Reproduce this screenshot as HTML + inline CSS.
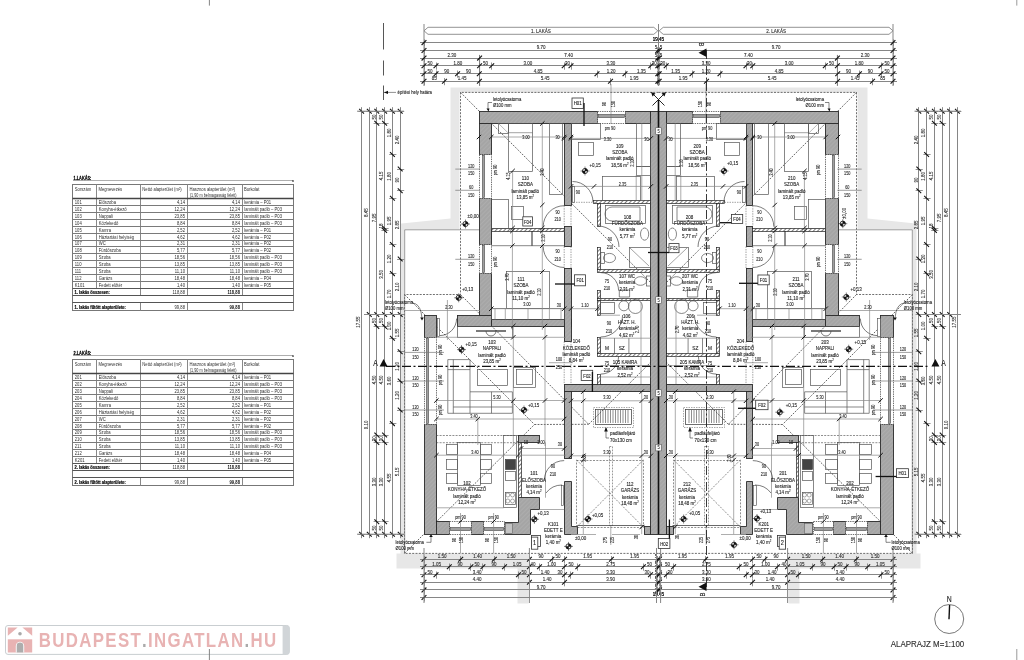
<!DOCTYPE html>
<html><head><meta charset="utf-8"><style>
html,body{margin:0;padding:0;background:#fff;overflow:hidden;width:1024px;height:660px}
svg{display:block;font-family:"Liberation Sans", sans-serif;will-change:transform}
text{stroke:#1a1a1a;stroke-width:0.12px}
.tb text{stroke:none}
</style></head><body>
<svg width="1024" height="660" viewBox="0 0 1024 660">
<defs>
<pattern id="h" patternUnits="userSpaceOnUse" width="3" height="3" patternTransform="rotate(45)">
<rect width="3" height="3" fill="#a5a5a5"/><line x1="0" y1="0" x2="0" y2="3" stroke="#b6b6b6" stroke-width="1"/>
</pattern>
<pattern id="th" patternUnits="userSpaceOnUse" width="3" height="3" patternTransform="rotate(45)">
<rect width="3" height="3" fill="#fff"/><line x1="0" y1="0" x2="0" y2="3" stroke="#222" stroke-width="1.2"/>
</pattern>
</defs>
<rect width="1024" height="660" fill="#fff"/>
<g class="tb"><text transform="translate(73.5,179.7) scale(0.66,1)" font-size="5.9" text-anchor="start" fill="#000" font-weight="bold" style="stroke:#000;stroke-width:0.25px">1.LAKÁS:</text>
<line x1="73" y1="180.5" x2="293" y2="180.5" stroke="#999" stroke-width="0.8"/>
<rect x="292.3" y="180.2" width="1.4" height="1.6" fill="#333"/>
<rect x="72.5" y="184.5" width="221.0" height="126.0" fill="none" stroke="#777" stroke-width="1"/>
<line x1="96.5" y1="184.5" x2="96.5" y2="288.5" stroke="#888" stroke-width="1"/>
<line x1="140.5" y1="184.5" x2="140.5" y2="288.5" stroke="#888" stroke-width="1"/>
<line x1="187.5" y1="184.5" x2="187.5" y2="288.5" stroke="#888" stroke-width="1"/>
<line x1="242.5" y1="184.5" x2="242.5" y2="288.5" stroke="#888" stroke-width="1"/>
<line x1="140.5" y1="288.5" x2="140.5" y2="295.5" stroke="#888" stroke-width="1"/>
<line x1="140.5" y1="302.5" x2="140.5" y2="310.5" stroke="#888" stroke-width="1"/>
<line x1="187.5" y1="288.5" x2="187.5" y2="295.5" stroke="#888" stroke-width="1"/>
<line x1="187.5" y1="302.5" x2="187.5" y2="310.5" stroke="#888" stroke-width="1"/>
<line x1="242.5" y1="288.5" x2="242.5" y2="295.5" stroke="#888" stroke-width="1"/>
<line x1="242.5" y1="302.5" x2="242.5" y2="310.5" stroke="#888" stroke-width="1"/>
<line x1="72.5" y1="198.5" x2="293.5" y2="198.5" stroke="#444" stroke-width="1.4"/>
<line x1="72.5" y1="205.50" x2="293.5" y2="205.50" stroke="#7a7a7a" stroke-width="1"/>
<line x1="72.5" y1="212.50" x2="293.5" y2="212.50" stroke="#7a7a7a" stroke-width="1"/>
<line x1="72.5" y1="219.50" x2="293.5" y2="219.50" stroke="#7a7a7a" stroke-width="1"/>
<line x1="72.5" y1="226.50" x2="293.5" y2="226.50" stroke="#7a7a7a" stroke-width="1"/>
<line x1="72.5" y1="233.50" x2="293.5" y2="233.50" stroke="#7a7a7a" stroke-width="1"/>
<line x1="72.5" y1="240.50" x2="293.5" y2="240.50" stroke="#7a7a7a" stroke-width="1"/>
<line x1="72.5" y1="246.50" x2="293.5" y2="246.50" stroke="#7a7a7a" stroke-width="1"/>
<line x1="72.5" y1="253.50" x2="293.5" y2="253.50" stroke="#7a7a7a" stroke-width="1"/>
<line x1="72.5" y1="260.50" x2="293.5" y2="260.50" stroke="#7a7a7a" stroke-width="1"/>
<line x1="72.5" y1="267.50" x2="293.5" y2="267.50" stroke="#7a7a7a" stroke-width="1"/>
<line x1="72.5" y1="274.50" x2="293.5" y2="274.50" stroke="#7a7a7a" stroke-width="1"/>
<line x1="72.5" y1="281.50" x2="293.5" y2="281.50" stroke="#7a7a7a" stroke-width="1"/>
<line x1="72.5" y1="288.50" x2="293.5" y2="288.50" stroke="#555" stroke-width="1.2"/>
<line x1="72.5" y1="295.50" x2="293.5" y2="295.50" stroke="#555" stroke-width="1"/>
<line x1="72.5" y1="302.50" x2="293.5" y2="302.50" stroke="#555" stroke-width="1.2"/>
<text transform="translate(74.8,190.7) scale(0.72,1)" font-size="5.8" text-anchor="start" fill="#2e2e2e">Sorszám</text>
<text transform="translate(98.5,190.7) scale(0.72,1)" font-size="5.8" text-anchor="start" fill="#2e2e2e">Megnevezés</text>
<text transform="translate(142.3,190.7) scale(0.72,1)" font-size="5.8" text-anchor="start" fill="#2e2e2e">Nettó alapterület (m²)</text>
<text transform="translate(189.5,190.7) scale(0.72,1)" font-size="5.8" text-anchor="start" fill="#2e2e2e">Hasznos alapterület (m²)</text>
<text transform="translate(189.8,197.0) scale(0.7,1)" font-size="5.4" text-anchor="start" fill="#2e2e2e">(1,90 m belmagasság felett)</text>
<text transform="translate(244.0,190.7) scale(0.72,1)" font-size="5.8" text-anchor="start" fill="#2e2e2e">Burkolat</text>
<text transform="translate(74.8,204.2) scale(0.72,1)" font-size="5.8" text-anchor="start" fill="#2e2e2e">101</text>
<text transform="translate(98.8,204.2) scale(0.72,1)" font-size="5.8" text-anchor="start" fill="#2e2e2e">Előszoba</text>
<text transform="translate(185.0,204.2) scale(0.72,1)" font-size="5.8" text-anchor="end" fill="#2e2e2e">4,14</text>
<text transform="translate(240.0,204.2) scale(0.72,1)" font-size="5.8" text-anchor="end" fill="#2e2e2e">4,14</text>
<text transform="translate(244.2,204.2) scale(0.72,1)" font-size="5.8" text-anchor="start" fill="#2e2e2e">kerámia – P01</text>
<text transform="translate(74.8,211.2) scale(0.72,1)" font-size="5.8" text-anchor="start" fill="#2e2e2e">102</text>
<text transform="translate(98.8,211.2) scale(0.72,1)" font-size="5.8" text-anchor="start" fill="#2e2e2e">Konyha-étkező</text>
<text transform="translate(185.0,211.2) scale(0.72,1)" font-size="5.8" text-anchor="end" fill="#2e2e2e">12,24</text>
<text transform="translate(240.0,211.2) scale(0.72,1)" font-size="5.8" text-anchor="end" fill="#2e2e2e">12,24</text>
<text transform="translate(244.2,211.2) scale(0.72,1)" font-size="5.8" text-anchor="start" fill="#2e2e2e">laminált padló – P03</text>
<text transform="translate(74.8,218.2) scale(0.72,1)" font-size="5.8" text-anchor="start" fill="#2e2e2e">103</text>
<text transform="translate(98.8,218.2) scale(0.72,1)" font-size="5.8" text-anchor="start" fill="#2e2e2e">Nappali</text>
<text transform="translate(185.0,218.2) scale(0.72,1)" font-size="5.8" text-anchor="end" fill="#2e2e2e">23,85</text>
<text transform="translate(240.0,218.2) scale(0.72,1)" font-size="5.8" text-anchor="end" fill="#2e2e2e">23,85</text>
<text transform="translate(244.2,218.2) scale(0.72,1)" font-size="5.8" text-anchor="start" fill="#2e2e2e">laminált padló – P03</text>
<text transform="translate(74.8,225.2) scale(0.72,1)" font-size="5.8" text-anchor="start" fill="#2e2e2e">104</text>
<text transform="translate(98.8,225.2) scale(0.72,1)" font-size="5.8" text-anchor="start" fill="#2e2e2e">Közlekedő</text>
<text transform="translate(185.0,225.2) scale(0.72,1)" font-size="5.8" text-anchor="end" fill="#2e2e2e">8,84</text>
<text transform="translate(240.0,225.2) scale(0.72,1)" font-size="5.8" text-anchor="end" fill="#2e2e2e">8,84</text>
<text transform="translate(244.2,225.2) scale(0.72,1)" font-size="5.8" text-anchor="start" fill="#2e2e2e">laminált padló – P03</text>
<text transform="translate(74.8,232.2) scale(0.72,1)" font-size="5.8" text-anchor="start" fill="#2e2e2e">105</text>
<text transform="translate(98.8,232.2) scale(0.72,1)" font-size="5.8" text-anchor="start" fill="#2e2e2e">Kamra</text>
<text transform="translate(185.0,232.2) scale(0.72,1)" font-size="5.8" text-anchor="end" fill="#2e2e2e">2,52</text>
<text transform="translate(240.0,232.2) scale(0.72,1)" font-size="5.8" text-anchor="end" fill="#2e2e2e">2,52</text>
<text transform="translate(244.2,232.2) scale(0.72,1)" font-size="5.8" text-anchor="start" fill="#2e2e2e">kerámia – P01</text>
<text transform="translate(74.8,239.2) scale(0.72,1)" font-size="5.8" text-anchor="start" fill="#2e2e2e">106</text>
<text transform="translate(98.8,239.2) scale(0.72,1)" font-size="5.8" text-anchor="start" fill="#2e2e2e">Háztartási helyiség</text>
<text transform="translate(185.0,239.2) scale(0.72,1)" font-size="5.8" text-anchor="end" fill="#2e2e2e">4,62</text>
<text transform="translate(240.0,239.2) scale(0.72,1)" font-size="5.8" text-anchor="end" fill="#2e2e2e">4,62</text>
<text transform="translate(244.2,239.2) scale(0.72,1)" font-size="5.8" text-anchor="start" fill="#2e2e2e">kerámia – P02</text>
<text transform="translate(74.8,245.2) scale(0.72,1)" font-size="5.8" text-anchor="start" fill="#2e2e2e">107</text>
<text transform="translate(98.8,245.2) scale(0.72,1)" font-size="5.8" text-anchor="start" fill="#2e2e2e">WC</text>
<text transform="translate(185.0,245.2) scale(0.72,1)" font-size="5.8" text-anchor="end" fill="#2e2e2e">2,31</text>
<text transform="translate(240.0,245.2) scale(0.72,1)" font-size="5.8" text-anchor="end" fill="#2e2e2e">2,31</text>
<text transform="translate(244.2,245.2) scale(0.72,1)" font-size="5.8" text-anchor="start" fill="#2e2e2e">kerámia – P02</text>
<text transform="translate(74.8,252.2) scale(0.72,1)" font-size="5.8" text-anchor="start" fill="#2e2e2e">108</text>
<text transform="translate(98.8,252.2) scale(0.72,1)" font-size="5.8" text-anchor="start" fill="#2e2e2e">Fürdőszoba</text>
<text transform="translate(185.0,252.2) scale(0.72,1)" font-size="5.8" text-anchor="end" fill="#2e2e2e">5,77</text>
<text transform="translate(240.0,252.2) scale(0.72,1)" font-size="5.8" text-anchor="end" fill="#2e2e2e">5,77</text>
<text transform="translate(244.2,252.2) scale(0.72,1)" font-size="5.8" text-anchor="start" fill="#2e2e2e">kerámia – P02</text>
<text transform="translate(74.8,259.2) scale(0.72,1)" font-size="5.8" text-anchor="start" fill="#2e2e2e">109</text>
<text transform="translate(98.8,259.2) scale(0.72,1)" font-size="5.8" text-anchor="start" fill="#2e2e2e">Szoba</text>
<text transform="translate(185.0,259.2) scale(0.72,1)" font-size="5.8" text-anchor="end" fill="#2e2e2e">18,56</text>
<text transform="translate(240.0,259.2) scale(0.72,1)" font-size="5.8" text-anchor="end" fill="#2e2e2e">18,56</text>
<text transform="translate(244.2,259.2) scale(0.72,1)" font-size="5.8" text-anchor="start" fill="#2e2e2e">laminált padló – P03</text>
<text transform="translate(74.8,266.2) scale(0.72,1)" font-size="5.8" text-anchor="start" fill="#2e2e2e">110</text>
<text transform="translate(98.8,266.2) scale(0.72,1)" font-size="5.8" text-anchor="start" fill="#2e2e2e">Szoba</text>
<text transform="translate(185.0,266.2) scale(0.72,1)" font-size="5.8" text-anchor="end" fill="#2e2e2e">13,85</text>
<text transform="translate(240.0,266.2) scale(0.72,1)" font-size="5.8" text-anchor="end" fill="#2e2e2e">13,85</text>
<text transform="translate(244.2,266.2) scale(0.72,1)" font-size="5.8" text-anchor="start" fill="#2e2e2e">laminált padló – P03</text>
<text transform="translate(74.8,273.2) scale(0.72,1)" font-size="5.8" text-anchor="start" fill="#2e2e2e">111</text>
<text transform="translate(98.8,273.2) scale(0.72,1)" font-size="5.8" text-anchor="start" fill="#2e2e2e">Szoba</text>
<text transform="translate(185.0,273.2) scale(0.72,1)" font-size="5.8" text-anchor="end" fill="#2e2e2e">11,10</text>
<text transform="translate(240.0,273.2) scale(0.72,1)" font-size="5.8" text-anchor="end" fill="#2e2e2e">11,10</text>
<text transform="translate(244.2,273.2) scale(0.72,1)" font-size="5.8" text-anchor="start" fill="#2e2e2e">laminált padló – P03</text>
<text transform="translate(74.8,280.2) scale(0.72,1)" font-size="5.8" text-anchor="start" fill="#2e2e2e">112</text>
<text transform="translate(98.8,280.2) scale(0.72,1)" font-size="5.8" text-anchor="start" fill="#2e2e2e">Garázs</text>
<text transform="translate(185.0,280.2) scale(0.72,1)" font-size="5.8" text-anchor="end" fill="#2e2e2e">18,48</text>
<text transform="translate(240.0,280.2) scale(0.72,1)" font-size="5.8" text-anchor="end" fill="#2e2e2e">18,48</text>
<text transform="translate(244.2,280.2) scale(0.72,1)" font-size="5.8" text-anchor="start" fill="#2e2e2e">kerámia – P04</text>
<text transform="translate(74.8,287.2) scale(0.72,1)" font-size="5.8" text-anchor="start" fill="#2e2e2e">K101</text>
<text transform="translate(98.8,287.2) scale(0.72,1)" font-size="5.8" text-anchor="start" fill="#2e2e2e">Fedett előtér</text>
<text transform="translate(185.0,287.2) scale(0.72,1)" font-size="5.8" text-anchor="end" fill="#2e2e2e">1,40</text>
<text transform="translate(240.0,287.2) scale(0.72,1)" font-size="5.8" text-anchor="end" fill="#2e2e2e">1,40</text>
<text transform="translate(244.2,287.2) scale(0.72,1)" font-size="5.8" text-anchor="start" fill="#2e2e2e">kerámia – P05</text>
<text transform="translate(74.5,294.3) scale(0.7,1)" font-size="5.8" text-anchor="start" fill="#000" font-weight="bold" style="stroke:#000;stroke-width:0.2px">1. lakás összesen:</text>
<text transform="translate(185.0,294.3) scale(0.72,1)" font-size="5.8" text-anchor="end" fill="#2e2e2e">118,88</text>
<text transform="translate(240.0,294.3) scale(0.72,1)" font-size="5.8" text-anchor="end" fill="#111" font-weight="bold">118,88</text>
<text transform="translate(74.5,308.5) scale(0.7,1)" font-size="5.8" text-anchor="start" fill="#000" font-weight="bold" style="stroke:#000;stroke-width:0.2px">1. lakás fűtött alapterülete:</text>
<text transform="translate(185.0,308.5) scale(0.72,1)" font-size="5.8" text-anchor="end" fill="#2e2e2e">99,88</text>
<text transform="translate(240.0,308.5) scale(0.72,1)" font-size="5.8" text-anchor="end" fill="#111" font-weight="bold">99,88</text>
<text transform="translate(73.5,354.8) scale(0.66,1)" font-size="5.9" text-anchor="start" fill="#000" font-weight="bold" style="stroke:#000;stroke-width:0.25px">2.LAKÁS:</text>
<line x1="73" y1="355.5" x2="293" y2="355.5" stroke="#999" stroke-width="0.8"/>
<rect x="292.3" y="355.29999999999995" width="1.4" height="1.6" fill="#333"/>
<rect x="72.5" y="359.5" width="221.0" height="126.0" fill="none" stroke="#777" stroke-width="1"/>
<line x1="96.5" y1="359.5" x2="96.5" y2="463.5" stroke="#888" stroke-width="1"/>
<line x1="140.5" y1="359.5" x2="140.5" y2="463.5" stroke="#888" stroke-width="1"/>
<line x1="187.5" y1="359.5" x2="187.5" y2="463.5" stroke="#888" stroke-width="1"/>
<line x1="242.5" y1="359.5" x2="242.5" y2="463.5" stroke="#888" stroke-width="1"/>
<line x1="140.5" y1="463.5" x2="140.5" y2="470.5" stroke="#888" stroke-width="1"/>
<line x1="140.5" y1="477.5" x2="140.5" y2="485.5" stroke="#888" stroke-width="1"/>
<line x1="187.5" y1="463.5" x2="187.5" y2="470.5" stroke="#888" stroke-width="1"/>
<line x1="187.5" y1="477.5" x2="187.5" y2="485.5" stroke="#888" stroke-width="1"/>
<line x1="242.5" y1="463.5" x2="242.5" y2="470.5" stroke="#888" stroke-width="1"/>
<line x1="242.5" y1="477.5" x2="242.5" y2="485.5" stroke="#888" stroke-width="1"/>
<line x1="72.5" y1="373.5" x2="293.5" y2="373.5" stroke="#444" stroke-width="1.4"/>
<line x1="72.5" y1="380.50" x2="293.5" y2="380.50" stroke="#7a7a7a" stroke-width="1"/>
<line x1="72.5" y1="387.50" x2="293.5" y2="387.50" stroke="#7a7a7a" stroke-width="1"/>
<line x1="72.5" y1="394.50" x2="293.5" y2="394.50" stroke="#7a7a7a" stroke-width="1"/>
<line x1="72.5" y1="401.50" x2="293.5" y2="401.50" stroke="#7a7a7a" stroke-width="1"/>
<line x1="72.5" y1="408.50" x2="293.5" y2="408.50" stroke="#7a7a7a" stroke-width="1"/>
<line x1="72.5" y1="415.50" x2="293.5" y2="415.50" stroke="#7a7a7a" stroke-width="1"/>
<line x1="72.5" y1="422.50" x2="293.5" y2="422.50" stroke="#7a7a7a" stroke-width="1"/>
<line x1="72.5" y1="429.50" x2="293.5" y2="429.50" stroke="#7a7a7a" stroke-width="1"/>
<line x1="72.5" y1="435.50" x2="293.5" y2="435.50" stroke="#7a7a7a" stroke-width="1"/>
<line x1="72.5" y1="442.50" x2="293.5" y2="442.50" stroke="#7a7a7a" stroke-width="1"/>
<line x1="72.5" y1="449.50" x2="293.5" y2="449.50" stroke="#7a7a7a" stroke-width="1"/>
<line x1="72.5" y1="456.50" x2="293.5" y2="456.50" stroke="#7a7a7a" stroke-width="1"/>
<line x1="72.5" y1="463.50" x2="293.5" y2="463.50" stroke="#555" stroke-width="1.2"/>
<line x1="72.5" y1="470.50" x2="293.5" y2="470.50" stroke="#555" stroke-width="1"/>
<line x1="72.5" y1="477.50" x2="293.5" y2="477.50" stroke="#555" stroke-width="1.2"/>
<text transform="translate(74.8,365.7) scale(0.72,1)" font-size="5.8" text-anchor="start" fill="#2e2e2e">Sorszám</text>
<text transform="translate(98.5,365.7) scale(0.72,1)" font-size="5.8" text-anchor="start" fill="#2e2e2e">Megnevezés</text>
<text transform="translate(142.3,365.7) scale(0.72,1)" font-size="5.8" text-anchor="start" fill="#2e2e2e">Nettó alapterület (m²)</text>
<text transform="translate(189.5,365.7) scale(0.72,1)" font-size="5.8" text-anchor="start" fill="#2e2e2e">Hasznos alapterület (m²)</text>
<text transform="translate(189.8,372.0) scale(0.7,1)" font-size="5.4" text-anchor="start" fill="#2e2e2e">(1,90 m belmagasság felett)</text>
<text transform="translate(244.0,365.7) scale(0.72,1)" font-size="5.8" text-anchor="start" fill="#2e2e2e">Burkolat</text>
<text transform="translate(74.8,379.2) scale(0.72,1)" font-size="5.8" text-anchor="start" fill="#2e2e2e">201</text>
<text transform="translate(98.8,379.2) scale(0.72,1)" font-size="5.8" text-anchor="start" fill="#2e2e2e">Előszoba</text>
<text transform="translate(185.0,379.2) scale(0.72,1)" font-size="5.8" text-anchor="end" fill="#2e2e2e">4,14</text>
<text transform="translate(240.0,379.2) scale(0.72,1)" font-size="5.8" text-anchor="end" fill="#2e2e2e">4,14</text>
<text transform="translate(244.2,379.2) scale(0.72,1)" font-size="5.8" text-anchor="start" fill="#2e2e2e">kerámia – P01</text>
<text transform="translate(74.8,386.2) scale(0.72,1)" font-size="5.8" text-anchor="start" fill="#2e2e2e">202</text>
<text transform="translate(98.8,386.2) scale(0.72,1)" font-size="5.8" text-anchor="start" fill="#2e2e2e">Konyha-étkező</text>
<text transform="translate(185.0,386.2) scale(0.72,1)" font-size="5.8" text-anchor="end" fill="#2e2e2e">12,24</text>
<text transform="translate(240.0,386.2) scale(0.72,1)" font-size="5.8" text-anchor="end" fill="#2e2e2e">12,24</text>
<text transform="translate(244.2,386.2) scale(0.72,1)" font-size="5.8" text-anchor="start" fill="#2e2e2e">laminált padló – P03</text>
<text transform="translate(74.8,393.2) scale(0.72,1)" font-size="5.8" text-anchor="start" fill="#2e2e2e">203</text>
<text transform="translate(98.8,393.2) scale(0.72,1)" font-size="5.8" text-anchor="start" fill="#2e2e2e">Nappali</text>
<text transform="translate(185.0,393.2) scale(0.72,1)" font-size="5.8" text-anchor="end" fill="#2e2e2e">23,85</text>
<text transform="translate(240.0,393.2) scale(0.72,1)" font-size="5.8" text-anchor="end" fill="#2e2e2e">23,85</text>
<text transform="translate(244.2,393.2) scale(0.72,1)" font-size="5.8" text-anchor="start" fill="#2e2e2e">laminált padló – P03</text>
<text transform="translate(74.8,400.2) scale(0.72,1)" font-size="5.8" text-anchor="start" fill="#2e2e2e">204</text>
<text transform="translate(98.8,400.2) scale(0.72,1)" font-size="5.8" text-anchor="start" fill="#2e2e2e">Közlekedő</text>
<text transform="translate(185.0,400.2) scale(0.72,1)" font-size="5.8" text-anchor="end" fill="#2e2e2e">8,84</text>
<text transform="translate(240.0,400.2) scale(0.72,1)" font-size="5.8" text-anchor="end" fill="#2e2e2e">8,84</text>
<text transform="translate(244.2,400.2) scale(0.72,1)" font-size="5.8" text-anchor="start" fill="#2e2e2e">laminált padló – P03</text>
<text transform="translate(74.8,407.2) scale(0.72,1)" font-size="5.8" text-anchor="start" fill="#2e2e2e">205</text>
<text transform="translate(98.8,407.2) scale(0.72,1)" font-size="5.8" text-anchor="start" fill="#2e2e2e">Kamra</text>
<text transform="translate(185.0,407.2) scale(0.72,1)" font-size="5.8" text-anchor="end" fill="#2e2e2e">2,52</text>
<text transform="translate(240.0,407.2) scale(0.72,1)" font-size="5.8" text-anchor="end" fill="#2e2e2e">2,52</text>
<text transform="translate(244.2,407.2) scale(0.72,1)" font-size="5.8" text-anchor="start" fill="#2e2e2e">kerámia – P01</text>
<text transform="translate(74.8,414.2) scale(0.72,1)" font-size="5.8" text-anchor="start" fill="#2e2e2e">206</text>
<text transform="translate(98.8,414.2) scale(0.72,1)" font-size="5.8" text-anchor="start" fill="#2e2e2e">Háztartási helyiség</text>
<text transform="translate(185.0,414.2) scale(0.72,1)" font-size="5.8" text-anchor="end" fill="#2e2e2e">4,62</text>
<text transform="translate(240.0,414.2) scale(0.72,1)" font-size="5.8" text-anchor="end" fill="#2e2e2e">4,62</text>
<text transform="translate(244.2,414.2) scale(0.72,1)" font-size="5.8" text-anchor="start" fill="#2e2e2e">kerámia – P02</text>
<text transform="translate(74.8,421.2) scale(0.72,1)" font-size="5.8" text-anchor="start" fill="#2e2e2e">207</text>
<text transform="translate(98.8,421.2) scale(0.72,1)" font-size="5.8" text-anchor="start" fill="#2e2e2e">WC</text>
<text transform="translate(185.0,421.2) scale(0.72,1)" font-size="5.8" text-anchor="end" fill="#2e2e2e">2,31</text>
<text transform="translate(240.0,421.2) scale(0.72,1)" font-size="5.8" text-anchor="end" fill="#2e2e2e">2,31</text>
<text transform="translate(244.2,421.2) scale(0.72,1)" font-size="5.8" text-anchor="start" fill="#2e2e2e">kerámia – P02</text>
<text transform="translate(74.8,428.2) scale(0.72,1)" font-size="5.8" text-anchor="start" fill="#2e2e2e">208</text>
<text transform="translate(98.8,428.2) scale(0.72,1)" font-size="5.8" text-anchor="start" fill="#2e2e2e">Fürdőszoba</text>
<text transform="translate(185.0,428.2) scale(0.72,1)" font-size="5.8" text-anchor="end" fill="#2e2e2e">5,77</text>
<text transform="translate(240.0,428.2) scale(0.72,1)" font-size="5.8" text-anchor="end" fill="#2e2e2e">5,77</text>
<text transform="translate(244.2,428.2) scale(0.72,1)" font-size="5.8" text-anchor="start" fill="#2e2e2e">kerámia – P02</text>
<text transform="translate(74.8,434.2) scale(0.72,1)" font-size="5.8" text-anchor="start" fill="#2e2e2e">209</text>
<text transform="translate(98.8,434.2) scale(0.72,1)" font-size="5.8" text-anchor="start" fill="#2e2e2e">Szoba</text>
<text transform="translate(185.0,434.2) scale(0.72,1)" font-size="5.8" text-anchor="end" fill="#2e2e2e">18,56</text>
<text transform="translate(240.0,434.2) scale(0.72,1)" font-size="5.8" text-anchor="end" fill="#2e2e2e">18,56</text>
<text transform="translate(244.2,434.2) scale(0.72,1)" font-size="5.8" text-anchor="start" fill="#2e2e2e">laminált padló – P03</text>
<text transform="translate(74.8,441.2) scale(0.72,1)" font-size="5.8" text-anchor="start" fill="#2e2e2e">210</text>
<text transform="translate(98.8,441.2) scale(0.72,1)" font-size="5.8" text-anchor="start" fill="#2e2e2e">Szoba</text>
<text transform="translate(185.0,441.2) scale(0.72,1)" font-size="5.8" text-anchor="end" fill="#2e2e2e">13,85</text>
<text transform="translate(240.0,441.2) scale(0.72,1)" font-size="5.8" text-anchor="end" fill="#2e2e2e">13,85</text>
<text transform="translate(244.2,441.2) scale(0.72,1)" font-size="5.8" text-anchor="start" fill="#2e2e2e">laminált padló – P03</text>
<text transform="translate(74.8,448.2) scale(0.72,1)" font-size="5.8" text-anchor="start" fill="#2e2e2e">211</text>
<text transform="translate(98.8,448.2) scale(0.72,1)" font-size="5.8" text-anchor="start" fill="#2e2e2e">Szoba</text>
<text transform="translate(185.0,448.2) scale(0.72,1)" font-size="5.8" text-anchor="end" fill="#2e2e2e">11,10</text>
<text transform="translate(240.0,448.2) scale(0.72,1)" font-size="5.8" text-anchor="end" fill="#2e2e2e">11,10</text>
<text transform="translate(244.2,448.2) scale(0.72,1)" font-size="5.8" text-anchor="start" fill="#2e2e2e">laminált padló – P03</text>
<text transform="translate(74.8,455.2) scale(0.72,1)" font-size="5.8" text-anchor="start" fill="#2e2e2e">212</text>
<text transform="translate(98.8,455.2) scale(0.72,1)" font-size="5.8" text-anchor="start" fill="#2e2e2e">Garázs</text>
<text transform="translate(185.0,455.2) scale(0.72,1)" font-size="5.8" text-anchor="end" fill="#2e2e2e">18,48</text>
<text transform="translate(240.0,455.2) scale(0.72,1)" font-size="5.8" text-anchor="end" fill="#2e2e2e">18,48</text>
<text transform="translate(244.2,455.2) scale(0.72,1)" font-size="5.8" text-anchor="start" fill="#2e2e2e">kerámia – P04</text>
<text transform="translate(74.8,462.2) scale(0.72,1)" font-size="5.8" text-anchor="start" fill="#2e2e2e">K201</text>
<text transform="translate(98.8,462.2) scale(0.72,1)" font-size="5.8" text-anchor="start" fill="#2e2e2e">Fedett előtér</text>
<text transform="translate(185.0,462.2) scale(0.72,1)" font-size="5.8" text-anchor="end" fill="#2e2e2e">1,40</text>
<text transform="translate(240.0,462.2) scale(0.72,1)" font-size="5.8" text-anchor="end" fill="#2e2e2e">1,40</text>
<text transform="translate(244.2,462.2) scale(0.72,1)" font-size="5.8" text-anchor="start" fill="#2e2e2e">kerámia – P05</text>
<text transform="translate(74.5,469.4) scale(0.7,1)" font-size="5.8" text-anchor="start" fill="#000" font-weight="bold" style="stroke:#000;stroke-width:0.2px">2. lakás összesen:</text>
<text transform="translate(185.0,469.4) scale(0.72,1)" font-size="5.8" text-anchor="end" fill="#2e2e2e">118,88</text>
<text transform="translate(240.0,469.4) scale(0.72,1)" font-size="5.8" text-anchor="end" fill="#111" font-weight="bold">118,88</text>
<text transform="translate(74.5,483.6) scale(0.7,1)" font-size="5.8" text-anchor="start" fill="#000" font-weight="bold" style="stroke:#000;stroke-width:0.2px">2. lakás fűtött alapterülete:</text>
<text transform="translate(185.0,483.6) scale(0.72,1)" font-size="5.8" text-anchor="end" fill="#2e2e2e">99,88</text>
<text transform="translate(240.0,483.6) scale(0.72,1)" font-size="5.8" text-anchor="end" fill="#111" font-weight="bold">99,88</text></g>
<rect x="5.5" y="625.5" width="283.8" height="28.9" rx="2.5" fill="#fff" stroke="#c9ced1" stroke-width="1"/>
<path d="M282.6 625.5 h4.2 a2.5 2.5 0 0 1 2.5 2.5 v23.9 a2.5 2.5 0 0 1 -2.5 2.5 h-4.2 z" fill="#d1d5d8"/>
<polygon points="7.8,627.6 17.6,627.6 7.8,635.8" fill="#e8b3b3"/>
<polygon points="32.2,627.6 22.4,627.6 32.2,635.8" fill="#e8b3b3"/>
<rect x="7.8" y="639.3" width="24.4" height="13.2" fill="#e8b3b3"/>
<circle cx="20" cy="633.8" r="1.8" fill="#a9a9a9"/>
<path d="M15.8 652.5 v-6.6 a4.2 4.2 0 0 1 8.4 0 v6.6 z" fill="#fff"/>
<path d="M16.7 652.5 v-6.6 a3.3 3.3 0 0 1 6.6 0 v6.6 z" fill="#adadad"/>
<text transform="translate(38.8,647.4) scale(0.86,1)" font-size="19.6" font-weight="bold" fill="#e8b3b3" textLength="276" lengthAdjust="spacing" style="stroke:none">BUDAPEST<tspan fill="#aaa">.</tspan>INGATLAN<tspan fill="#aaa">.</tspan>HU</text>
<circle cx="949.2" cy="619" r="14.5" fill="none" stroke="#555" stroke-width="0.8"/>
<line x1="949.6" y1="605" x2="949" y2="619.3" stroke="#111" stroke-width="1.4"/>
<text transform="translate(949.2,601.9) scale(0.8,1)" font-size="8.6" text-anchor="middle" fill="#222">N</text>
<text x="890.7" y="646.8" font-size="9.6" fill="#333" textLength="73.6" lengthAdjust="spacingAndGlyphs">ALAPRAJZ M=1:100</text>
<line x1="209.4" y1="0" x2="209.4" y2="5.6" stroke="#777" stroke-width="0.9"/>
<line x1="209.4" y1="649" x2="209.4" y2="660" stroke="#777" stroke-width="0.9"/>
<line x1="1016.8" y1="0" x2="1016.8" y2="5.6" stroke="#999" stroke-width="1"/>
<line x1="1016.8" y1="649" x2="1016.8" y2="660" stroke="#999" stroke-width="1"/>
<polygon points="658.5,87.5 450.5,87.5 450.5,218.5 401.5,223.5 400.5,223.5 400.5,553.5 396.5,553.5 396.5,568.5 517.5,568.5 517.5,603.5 528.5,603.5 528.5,553.5 404.5,553.5 404.5,229.5 459.5,229.5 459.5,92.5 658.5,92.5" fill="#e7e7e7" stroke="none"/>
<polygon points="658.5,87.5 867.5,87.5 867.5,218.5 915.5,223.5 916.5,223.5 916.5,553.5 920.5,553.5 920.5,568.5 799.5,568.5 799.5,603.5 788.5,603.5 788.5,553.5 912.5,553.5 912.5,229.5 857.5,229.5 857.5,92.5 658.5,92.5" fill="#e7e7e7" stroke="none"/>
<path d="M658.5 92.4 H460.5 V294.5 H404.5 V553.4 H658.5" fill="none" stroke="#333" stroke-width="0.7" stroke-dasharray="2,1.3"/>
<path d="M658.5 92.4 H856.5 V294.5 H912.5 V553.4 H658.5" fill="none" stroke="#333" stroke-width="0.7" stroke-dasharray="2,1.3"/>
<line x1="460.5" y1="92.4" x2="658.5" y2="290.4" fill="none" stroke="#333" stroke-width="0.75" stroke-dasharray="1.8,1.3"/>
<line x1="856.5" y1="92.4" x2="658.5" y2="290.4" fill="none" stroke="#333" stroke-width="0.75" stroke-dasharray="1.8,1.3"/>
<line x1="404.5" y1="294.5" x2="534.5" y2="424.5" fill="none" stroke="#333" stroke-width="0.75" stroke-dasharray="1.8,1.3"/>
<line x1="912.5" y1="294.5" x2="782.5" y2="424.5" fill="none" stroke="#333" stroke-width="0.75" stroke-dasharray="1.8,1.3"/>
<line x1="404.5" y1="553.4" x2="534.5" y2="424.5" fill="none" stroke="#333" stroke-width="0.75" stroke-dasharray="1.8,1.3"/>
<line x1="912.5" y1="553.4" x2="782.5" y2="424.5" fill="none" stroke="#333" stroke-width="0.75" stroke-dasharray="1.8,1.3"/>
<line x1="534.5" y1="424.5" x2="588.6" y2="424.3" fill="none" stroke="#333" stroke-width="0.75" stroke-dasharray="1.8,1.3"/>
<line x1="782.5" y1="424.5" x2="728.4" y2="424.3" fill="none" stroke="#333" stroke-width="0.75" stroke-dasharray="1.8,1.3"/>
<line x1="460.5" y1="294.5" x2="588.6" y2="424.3" fill="none" stroke="#333" stroke-width="0.75" stroke-dasharray="1.8,1.3"/>
<line x1="856.5" y1="294.5" x2="728.4" y2="424.3" fill="none" stroke="#333" stroke-width="0.75" stroke-dasharray="1.8,1.3"/>
<line x1="588.6" y1="424.3" x2="658.5" y2="354.4" fill="none" stroke="#333" stroke-width="0.75" stroke-dasharray="1.8,1.3"/>
<line x1="728.4" y1="424.3" x2="658.5" y2="354.4" fill="none" stroke="#333" stroke-width="0.75" stroke-dasharray="1.8,1.3"/>
<path d="M479 229.8 H404.7 V553.4" stroke="#777" stroke-width="0.7" fill="none"/>
<path d="M838.0 229.8 H912.3 V553.4" stroke="#777" stroke-width="0.7" fill="none"/>
<rect x="479.5" y="111.5" width="118.0" height="12.0" fill="url(#h)" stroke="#2a2a2a" stroke-width="0.9"/>
<rect x="720.5" y="111.5" width="118.0" height="12.0" fill="url(#h)" stroke="#2a2a2a" stroke-width="0.9"/>
<rect x="625.5" y="111.5" width="25.0" height="12.0" fill="url(#h)" stroke="#2a2a2a" stroke-width="0.9"/>
<rect x="666.5" y="111.5" width="26.0" height="12.0" fill="url(#h)" stroke="#2a2a2a" stroke-width="0.9"/>
<rect x="479.5" y="123.5" width="12.0" height="31.0" fill="url(#h)" stroke="#2a2a2a" stroke-width="0.9"/>
<rect x="825.5" y="123.5" width="13.0" height="31.0" fill="url(#h)" stroke="#2a2a2a" stroke-width="0.9"/>
<rect x="479.5" y="198.5" width="12.0" height="46.0" fill="url(#h)" stroke="#2a2a2a" stroke-width="0.9"/>
<rect x="825.5" y="198.5" width="13.0" height="46.0" fill="url(#h)" stroke="#2a2a2a" stroke-width="0.9"/>
<rect x="479.5" y="273.5" width="12.0" height="42.0" fill="url(#h)" stroke="#2a2a2a" stroke-width="0.9"/>
<rect x="825.5" y="273.5" width="13.0" height="42.0" fill="url(#h)" stroke="#2a2a2a" stroke-width="0.9"/>
<rect x="457.5" y="315.5" width="34.0" height="11.0" fill="url(#h)" stroke="#2a2a2a" stroke-width="0.9"/>
<rect x="825.5" y="315.5" width="34.0" height="11.0" fill="url(#h)" stroke="#2a2a2a" stroke-width="0.9"/>
<rect x="491.5" y="319.5" width="80.0" height="7.0" fill="url(#h)" stroke="#2a2a2a" stroke-width="0.9"/>
<rect x="746.5" y="319.5" width="79.0" height="7.0" fill="url(#h)" stroke="#2a2a2a" stroke-width="0.9"/>
<rect x="424.5" y="315.5" width="12.0" height="22.0" fill="url(#h)" stroke="#2a2a2a" stroke-width="0.9"/>
<rect x="880.5" y="315.5" width="13.0" height="22.0" fill="url(#h)" stroke="#2a2a2a" stroke-width="0.9"/>
<rect x="424.5" y="424.5" width="12.0" height="110.0" fill="url(#h)" stroke="#2a2a2a" stroke-width="0.9"/>
<rect x="880.5" y="424.5" width="13.0" height="110.0" fill="url(#h)" stroke="#2a2a2a" stroke-width="0.9"/>
<rect x="436.5" y="521.5" width="13.0" height="13.0" fill="url(#h)" stroke="#2a2a2a" stroke-width="0.9"/>
<rect x="867.5" y="521.5" width="13.0" height="13.0" fill="url(#h)" stroke="#2a2a2a" stroke-width="0.9"/>
<rect x="471.5" y="521.5" width="12.0" height="13.0" fill="url(#h)" stroke="#2a2a2a" stroke-width="0.9"/>
<rect x="833.5" y="521.5" width="12.0" height="13.0" fill="url(#h)" stroke="#2a2a2a" stroke-width="0.9"/>
<polygon points="518.5,497.5 539.5,497.5 539.5,509.5 530.5,509.5 530.5,534.5 504.5,534.5 504.5,522.5 518.5,522.5" fill="url(#h)" stroke="#2a2a2a" stroke-width="0.9"/>
<polygon points="798.5,497.5 777.5,497.5 777.5,509.5 786.5,509.5 786.5,534.5 812.5,534.5 812.5,522.5 798.5,522.5" fill="url(#h)" stroke="#2a2a2a" stroke-width="0.9"/>
<rect x="505.5" y="523.5" width="7.0" height="10.0" fill="#c4c4c4" stroke="#555" stroke-width="0.5"/>
<rect x="804.5" y="523.5" width="8.0" height="10.0" fill="#c4c4c4" stroke="#555" stroke-width="0.5"/>
<rect x="564.5" y="123.5" width="7.0" height="82.0" fill="url(#h)" stroke="#2a2a2a" stroke-width="0.9"/>
<rect x="746.5" y="123.5" width="6.0" height="82.0" fill="url(#h)" stroke="#2a2a2a" stroke-width="0.9"/>
<rect x="564.5" y="226.5" width="7.0" height="20.0" fill="url(#h)" stroke="#2a2a2a" stroke-width="0.9"/>
<rect x="746.5" y="226.5" width="6.0" height="20.0" fill="url(#h)" stroke="#2a2a2a" stroke-width="0.9"/>
<rect x="564.5" y="268.5" width="7.0" height="73.0" fill="url(#h)" stroke="#2a2a2a" stroke-width="0.9"/>
<rect x="746.5" y="268.5" width="6.0" height="73.0" fill="url(#h)" stroke="#2a2a2a" stroke-width="0.9"/>
<rect x="564.5" y="384.5" width="86.0" height="7.0" fill="url(#h)" stroke="#2a2a2a" stroke-width="0.9"/>
<rect x="666.5" y="384.5" width="86.0" height="7.0" fill="url(#h)" stroke="#2a2a2a" stroke-width="0.9"/>
<rect x="564.5" y="391.5" width="7.0" height="67.0" fill="url(#h)" stroke="#2a2a2a" stroke-width="0.9"/>
<rect x="746.5" y="391.5" width="6.0" height="67.0" fill="url(#h)" stroke="#2a2a2a" stroke-width="0.9"/>
<polygon points="564.5,481.5 571.5,481.5 571.5,526.5 577.5,526.5 577.5,534.5 564.5,534.5" fill="url(#h)" stroke="#2a2a2a" stroke-width="0.9"/>
<polygon points="752.5,481.5 746.5,481.5 746.5,526.5 740.5,526.5 740.5,534.5 752.5,534.5" fill="url(#h)" stroke="#2a2a2a" stroke-width="0.9"/>
<rect x="644.5" y="526.5" width="6.0" height="8.0" fill="url(#h)" stroke="#2a2a2a" stroke-width="0.9"/>
<rect x="666.5" y="526.5" width="7.0" height="8.0" fill="url(#h)" stroke="#2a2a2a" stroke-width="0.9"/>
<rect x="518.5" y="435.5" width="21.0" height="7.0" fill="url(#h)" stroke="#2a2a2a" stroke-width="0.9"/>
<rect x="777.5" y="435.5" width="21.0" height="7.0" fill="url(#h)" stroke="#2a2a2a" stroke-width="0.9"/>
<rect x="650.5" y="111.5" width="16" height="423" fill="url(#h)" stroke="#2a2a2a" stroke-width="0.9"/>
<line x1="658.5" y1="100" x2="658.5" y2="534.2" stroke="#111" stroke-width="1.6"/>
<rect x="491.5" y="228.5" width="73.0" height="3.0" fill="url(#th)" stroke="#222" stroke-width="0.7"/>
<rect x="752.5" y="228.5" width="73.0" height="3.0" fill="url(#th)" stroke="#222" stroke-width="0.7"/>
<rect x="593.5" y="200.5" width="57.0" height="3.0" fill="url(#th)" stroke="#222" stroke-width="0.7"/>
<rect x="666.5" y="200.5" width="58.0" height="3.0" fill="url(#th)" stroke="#222" stroke-width="0.7"/>
<rect x="597.5" y="203.5" width="3.0" height="23.0" fill="url(#th)" stroke="#222" stroke-width="0.7"/>
<rect x="716.5" y="203.5" width="3.0" height="23.0" fill="url(#th)" stroke="#222" stroke-width="0.7"/>
<rect x="597.5" y="247.5" width="3.0" height="22.0" fill="url(#th)" stroke="#222" stroke-width="0.7"/>
<rect x="716.5" y="247.5" width="3.0" height="22.0" fill="url(#th)" stroke="#222" stroke-width="0.7"/>
<rect x="597.5" y="269.5" width="53.0" height="3.0" fill="url(#th)" stroke="#222" stroke-width="0.7"/>
<rect x="666.5" y="269.5" width="53.0" height="3.0" fill="url(#th)" stroke="#222" stroke-width="0.7"/>
<rect x="597.5" y="290.5" width="3.0" height="8.0" fill="url(#th)" stroke="#222" stroke-width="0.7"/>
<rect x="716.5" y="290.5" width="3.0" height="8.0" fill="url(#th)" stroke="#222" stroke-width="0.7"/>
<rect x="597.5" y="298.5" width="53.0" height="2.0" fill="url(#th)" stroke="#222" stroke-width="0.7"/>
<rect x="666.5" y="298.5" width="53.0" height="2.0" fill="url(#th)" stroke="#222" stroke-width="0.7"/>
<rect x="597.5" y="300.5" width="3.0" height="15.0" fill="url(#th)" stroke="#222" stroke-width="0.7"/>
<rect x="716.5" y="300.5" width="3.0" height="15.0" fill="url(#th)" stroke="#222" stroke-width="0.7"/>
<rect x="597.5" y="337.5" width="3.0" height="16.0" fill="url(#th)" stroke="#222" stroke-width="0.7"/>
<rect x="716.5" y="337.5" width="3.0" height="16.0" fill="url(#th)" stroke="#222" stroke-width="0.7"/>
<rect x="597.5" y="353.5" width="53.0" height="3.0" fill="url(#th)" stroke="#222" stroke-width="0.7"/>
<rect x="666.5" y="353.5" width="53.0" height="3.0" fill="url(#th)" stroke="#222" stroke-width="0.7"/>
<rect x="597.5" y="374.5" width="3.0" height="10.0" fill="url(#th)" stroke="#222" stroke-width="0.7"/>
<rect x="716.5" y="374.5" width="3.0" height="10.0" fill="url(#th)" stroke="#222" stroke-width="0.7"/>
<rect x="518.5" y="442.5" width="3.0" height="55.0" fill="url(#th)" stroke="#222" stroke-width="0.7"/>
<rect x="796.5" y="442.5" width="2.0" height="55.0" fill="url(#th)" stroke="#222" stroke-width="0.7"/>
<rect x="597.5" y="111.5" width="28.0" height="12.0" fill="#fff" stroke="#333" stroke-width="0.7" stroke-dasharray="1.4,0.9"/>
<rect x="692.5" y="111.5" width="28.0" height="12.0" fill="#fff" stroke="#333" stroke-width="0.7" stroke-dasharray="1.4,0.9"/>
<rect x="598.5" y="114.5" width="26.0" height="3.0" fill="#a0a0a0" stroke="#444" stroke-width="0.6"/>
<rect x="693.5" y="114.5" width="26.0" height="3.0" fill="#a0a0a0" stroke="#444" stroke-width="0.6"/>
<rect x="479.5" y="154.5" width="12.0" height="44.0" fill="#fff" stroke="#333" stroke-width="0.7" stroke-dasharray="1.4,0.9"/>
<rect x="825.5" y="154.5" width="13.0" height="44.0" fill="#fff" stroke="#333" stroke-width="0.7" stroke-dasharray="1.4,0.9"/>
<rect x="482.5" y="155.5" width="2.0" height="42.0" fill="#a0a0a0" stroke="#444" stroke-width="0.6"/>
<rect x="832.5" y="155.5" width="2.0" height="42.0" fill="#a0a0a0" stroke="#444" stroke-width="0.6"/>
<rect x="479.5" y="244.5" width="12.0" height="29.0" fill="#fff" stroke="#333" stroke-width="0.7" stroke-dasharray="1.4,0.9"/>
<rect x="825.5" y="244.5" width="13.0" height="29.0" fill="#fff" stroke="#333" stroke-width="0.7" stroke-dasharray="1.4,0.9"/>
<rect x="482.5" y="245.5" width="2.0" height="27.0" fill="#a0a0a0" stroke="#444" stroke-width="0.6"/>
<rect x="832.5" y="245.5" width="2.0" height="27.0" fill="#a0a0a0" stroke="#444" stroke-width="0.6"/>
<rect x="424.5" y="337.5" width="12.0" height="87.0" fill="#fff" stroke="#333" stroke-width="0.7" stroke-dasharray="1.4,0.9"/>
<rect x="880.5" y="337.5" width="13.0" height="87.0" fill="#fff" stroke="#333" stroke-width="0.7" stroke-dasharray="1.4,0.9"/>
<rect x="426.5" y="338.5" width="2.0" height="85.0" fill="#a0a0a0" stroke="#444" stroke-width="0.6"/>
<rect x="888.5" y="338.5" width="2.0" height="85.0" fill="#a0a0a0" stroke="#444" stroke-width="0.6"/>
<rect x="449.5" y="521.5" width="22.0" height="13.0" fill="#fff" stroke="#333" stroke-width="0.7" stroke-dasharray="1.4,0.9"/>
<rect x="845.5" y="521.5" width="22.0" height="13.0" fill="#fff" stroke="#333" stroke-width="0.7" stroke-dasharray="1.4,0.9"/>
<rect x="450.5" y="527.5" width="20.0" height="3.0" fill="#a0a0a0" stroke="#444" stroke-width="0.6"/>
<rect x="846.5" y="527.5" width="20.0" height="3.0" fill="#a0a0a0" stroke="#444" stroke-width="0.6"/>
<rect x="483.5" y="521.5" width="21.0" height="13.0" fill="#fff" stroke="#333" stroke-width="0.7" stroke-dasharray="1.4,0.9"/>
<rect x="813.5" y="521.5" width="20.0" height="13.0" fill="#fff" stroke="#333" stroke-width="0.7" stroke-dasharray="1.4,0.9"/>
<rect x="484.5" y="527.5" width="19.0" height="3.0" fill="#a0a0a0" stroke="#444" stroke-width="0.6"/>
<rect x="814.5" y="527.5" width="18.0" height="3.0" fill="#a0a0a0" stroke="#444" stroke-width="0.6"/>
<path d="M428 27.3 H653.8 L657.8 30.8 L653.8 34.3 H428 L424 30.8 Z" fill="none" stroke="#777" stroke-width="0.8"/>
<text transform="translate(540.9,32.8) scale(0.82,1)" font-size="5.6" text-anchor="middle" fill="#333">1. LAKÁS</text>
<path d="M663.2 27.3 H889 L893 30.8 L889 34.3 H663.2 L659.2 30.8 Z" fill="none" stroke="#777" stroke-width="0.8"/>
<text transform="translate(776.1,32.8) scale(0.82,1)" font-size="5.6" text-anchor="middle" fill="#333">2. LAKÁS</text>
<line x1="424" y1="24" x2="424" y2="86" stroke="#868686" stroke-width="1"/>
<line x1="893" y1="24" x2="893" y2="86" stroke="#868686" stroke-width="1"/>
<line x1="658.5" y1="24" x2="658.5" y2="86" stroke="#868686" stroke-width="1"/>
<line x1="479.6" y1="55.0" x2="479.6" y2="86.0" stroke="#868686" stroke-width="1"/>
<line x1="837.4" y1="55.0" x2="837.4" y2="86.0" stroke="#868686" stroke-width="1"/>
<line x1="420.0" y1="42.5" x2="897.0" y2="42.5" stroke="#868686" stroke-width="1"/>
<line x1="424.5" y1="39.4" x2="424.5" y2="46.6" stroke="#777" stroke-width="0.8"/>
<line x1="421.6" y1="45.0" x2="426.4" y2="40.2" stroke="#111" stroke-width="1.1"/>
<line x1="893.5" y1="39.4" x2="893.5" y2="46.6" stroke="#777" stroke-width="0.8"/>
<line x1="890.6" y1="45.0" x2="895.4" y2="40.2" stroke="#111" stroke-width="1.1"/>
<text transform="translate(658.5,41.4) scale(0.82,1)" font-size="5.5" text-anchor="middle" fill="#333">19.45</text>
<text transform="translate(658.5,41.4) scale(0.82,1)" font-size="5.5" text-anchor="middle" fill="#333">19.45</text>
<text transform="translate(658.5,39.6) scale(0.72,1)" font-size="5" text-anchor="start" fill="#2e2e2e"></text>
<line x1="420.0" y1="50.5" x2="897.0" y2="50.5" stroke="#868686" stroke-width="1"/>
<line x1="424.5" y1="47.3" x2="424.5" y2="54.5" stroke="#777" stroke-width="0.8"/>
<line x1="421.6" y1="52.9" x2="426.4" y2="48.1" stroke="#111" stroke-width="1.1"/>
<line x1="657.5" y1="47.3" x2="657.5" y2="54.5" stroke="#777" stroke-width="0.8"/>
<line x1="655.4" y1="52.9" x2="660.2" y2="48.1" stroke="#111" stroke-width="1.1"/>
<line x1="659.5" y1="47.3" x2="659.5" y2="54.5" stroke="#777" stroke-width="0.8"/>
<line x1="656.8" y1="52.9" x2="661.6" y2="48.1" stroke="#111" stroke-width="1.1"/>
<line x1="893.5" y1="47.3" x2="893.5" y2="54.5" stroke="#777" stroke-width="0.8"/>
<line x1="890.6" y1="52.9" x2="895.4" y2="48.1" stroke="#111" stroke-width="1.1"/>
<text transform="translate(541.0,49.3) scale(0.82,1)" font-size="5.5" text-anchor="middle" fill="#333">9.70</text>
<text transform="translate(776.0,49.3) scale(0.82,1)" font-size="5.5" text-anchor="middle" fill="#333">9.70</text>
<text transform="translate(656.0,49.3) scale(0.82,1)" font-size="5.5" text-anchor="middle" fill="#333">5</text>
<text transform="translate(661.0,49.3) scale(0.82,1)" font-size="5.5" text-anchor="middle" fill="#333">5</text>
<line x1="420.0" y1="58.5" x2="897.0" y2="58.5" stroke="#868686" stroke-width="1"/>
<line x1="424.5" y1="54.9" x2="424.5" y2="62.1" stroke="#777" stroke-width="0.8"/>
<line x1="421.6" y1="60.5" x2="426.4" y2="55.7" stroke="#111" stroke-width="1.1"/>
<line x1="479.5" y1="54.9" x2="479.5" y2="62.1" stroke="#777" stroke-width="0.8"/>
<line x1="477.2" y1="60.5" x2="482.0" y2="55.7" stroke="#111" stroke-width="1.1"/>
<line x1="657.5" y1="54.9" x2="657.5" y2="62.1" stroke="#777" stroke-width="0.8"/>
<line x1="655.4" y1="60.5" x2="660.2" y2="55.7" stroke="#111" stroke-width="1.1"/>
<line x1="659.5" y1="54.9" x2="659.5" y2="62.1" stroke="#777" stroke-width="0.8"/>
<line x1="656.8" y1="60.5" x2="661.6" y2="55.7" stroke="#111" stroke-width="1.1"/>
<line x1="837.5" y1="54.9" x2="837.5" y2="62.1" stroke="#777" stroke-width="0.8"/>
<line x1="835.0" y1="60.5" x2="839.8" y2="55.7" stroke="#111" stroke-width="1.1"/>
<line x1="893.5" y1="54.9" x2="893.5" y2="62.1" stroke="#777" stroke-width="0.8"/>
<line x1="890.6" y1="60.5" x2="895.4" y2="55.7" stroke="#111" stroke-width="1.1"/>
<text transform="translate(451.8,56.9) scale(0.82,1)" font-size="5.5" text-anchor="middle" fill="#333">2.30</text>
<text transform="translate(865.2,56.9) scale(0.82,1)" font-size="5.5" text-anchor="middle" fill="#333">2.30</text>
<text transform="translate(568.7,56.9) scale(0.82,1)" font-size="5.5" text-anchor="middle" fill="#333">7.40</text>
<text transform="translate(748.3,56.9) scale(0.82,1)" font-size="5.5" text-anchor="middle" fill="#333">7.40</text>
<text transform="translate(656.0,56.9) scale(0.82,1)" font-size="5.5" text-anchor="middle" fill="#333">5</text>
<text transform="translate(661.0,56.9) scale(0.82,1)" font-size="5.5" text-anchor="middle" fill="#333">5</text>
<line x1="420.0" y1="65.5" x2="897.0" y2="65.5" stroke="#868686" stroke-width="1"/>
<line x1="424.5" y1="62.5" x2="424.5" y2="69.7" stroke="#777" stroke-width="0.8"/>
<line x1="421.6" y1="68.1" x2="426.4" y2="63.3" stroke="#111" stroke-width="1.1"/>
<line x1="436.5" y1="62.5" x2="436.5" y2="69.7" stroke="#777" stroke-width="0.8"/>
<line x1="433.6" y1="68.1" x2="438.4" y2="63.3" stroke="#111" stroke-width="1.1"/>
<line x1="479.5" y1="62.5" x2="479.5" y2="69.7" stroke="#777" stroke-width="0.8"/>
<line x1="477.2" y1="68.1" x2="482.0" y2="63.3" stroke="#111" stroke-width="1.1"/>
<line x1="491.5" y1="62.5" x2="491.5" y2="69.7" stroke="#777" stroke-width="0.8"/>
<line x1="489.3" y1="68.1" x2="494.1" y2="63.3" stroke="#111" stroke-width="1.1"/>
<line x1="564.5" y1="62.5" x2="564.5" y2="69.7" stroke="#777" stroke-width="0.8"/>
<line x1="561.8" y1="68.1" x2="566.6" y2="63.3" stroke="#111" stroke-width="1.1"/>
<line x1="571.5" y1="62.5" x2="571.5" y2="69.7" stroke="#777" stroke-width="0.8"/>
<line x1="568.6" y1="68.1" x2="573.4" y2="63.3" stroke="#111" stroke-width="1.1"/>
<line x1="650.5" y1="62.5" x2="650.5" y2="69.7" stroke="#777" stroke-width="0.8"/>
<line x1="648.4" y1="68.1" x2="653.2" y2="63.3" stroke="#111" stroke-width="1.1"/>
<line x1="657.5" y1="62.5" x2="657.5" y2="69.7" stroke="#777" stroke-width="0.8"/>
<line x1="655.4" y1="68.1" x2="660.2" y2="63.3" stroke="#111" stroke-width="1.1"/>
<line x1="659.5" y1="62.5" x2="659.5" y2="69.7" stroke="#777" stroke-width="0.8"/>
<line x1="656.8" y1="68.1" x2="661.6" y2="63.3" stroke="#111" stroke-width="1.1"/>
<line x1="666.5" y1="62.5" x2="666.5" y2="69.7" stroke="#777" stroke-width="0.8"/>
<line x1="663.8" y1="68.1" x2="668.6" y2="63.3" stroke="#111" stroke-width="1.1"/>
<line x1="746.5" y1="62.5" x2="746.5" y2="69.7" stroke="#777" stroke-width="0.8"/>
<line x1="743.6" y1="68.1" x2="748.4" y2="63.3" stroke="#111" stroke-width="1.1"/>
<line x1="752.5" y1="62.5" x2="752.5" y2="69.7" stroke="#777" stroke-width="0.8"/>
<line x1="750.4" y1="68.1" x2="755.2" y2="63.3" stroke="#111" stroke-width="1.1"/>
<line x1="825.5" y1="62.5" x2="825.5" y2="69.7" stroke="#777" stroke-width="0.8"/>
<line x1="822.9" y1="68.1" x2="827.7" y2="63.3" stroke="#111" stroke-width="1.1"/>
<line x1="837.5" y1="62.5" x2="837.5" y2="69.7" stroke="#777" stroke-width="0.8"/>
<line x1="835.0" y1="68.1" x2="839.8" y2="63.3" stroke="#111" stroke-width="1.1"/>
<line x1="881.5" y1="62.5" x2="881.5" y2="69.7" stroke="#777" stroke-width="0.8"/>
<line x1="878.6" y1="68.1" x2="883.4" y2="63.3" stroke="#111" stroke-width="1.1"/>
<line x1="893.5" y1="62.5" x2="893.5" y2="69.7" stroke="#777" stroke-width="0.8"/>
<line x1="890.6" y1="68.1" x2="895.4" y2="63.3" stroke="#111" stroke-width="1.1"/>
<text transform="translate(430.0,64.5) scale(0.82,1)" font-size="5.5" text-anchor="middle" fill="#333">50</text>
<text transform="translate(887.0,64.5) scale(0.82,1)" font-size="5.5" text-anchor="middle" fill="#333">50</text>
<text transform="translate(457.8,64.5) scale(0.82,1)" font-size="5.5" text-anchor="middle" fill="#333">1.80</text>
<text transform="translate(859.2,64.5) scale(0.82,1)" font-size="5.5" text-anchor="middle" fill="#333">1.80</text>
<text transform="translate(485.6,64.5) scale(0.82,1)" font-size="5.5" text-anchor="middle" fill="#333">50</text>
<text transform="translate(831.4,64.5) scale(0.82,1)" font-size="5.5" text-anchor="middle" fill="#333">50</text>
<text transform="translate(527.8,64.5) scale(0.82,1)" font-size="5.5" text-anchor="middle" fill="#333">3.00</text>
<text transform="translate(789.2,64.5) scale(0.82,1)" font-size="5.5" text-anchor="middle" fill="#333">3.00</text>
<text transform="translate(567.6,64.5) scale(0.82,1)" font-size="5.5" text-anchor="middle" fill="#333">30</text>
<text transform="translate(749.4,64.5) scale(0.82,1)" font-size="5.5" text-anchor="middle" fill="#333">30</text>
<text transform="translate(610.8,64.5) scale(0.82,1)" font-size="5.5" text-anchor="middle" fill="#333">3.30</text>
<text transform="translate(706.2,64.5) scale(0.82,1)" font-size="5.5" text-anchor="middle" fill="#333">3.30</text>
<text transform="translate(654.3,64.5) scale(0.82,1)" font-size="5.5" text-anchor="middle" fill="#333">30</text>
<text transform="translate(662.7,64.5) scale(0.82,1)" font-size="5.5" text-anchor="middle" fill="#333">30</text>
<text transform="translate(656.8,64.5) scale(0.82,1)" font-size="5.5" text-anchor="middle" fill="#333"></text>
<text transform="translate(660.2,64.5) scale(0.82,1)" font-size="5.5" text-anchor="middle" fill="#333"></text>
<line x1="420.0" y1="73.5" x2="897.0" y2="73.5" stroke="#868686" stroke-width="1"/>
<line x1="424.5" y1="70.5" x2="424.5" y2="77.7" stroke="#777" stroke-width="0.8"/>
<line x1="421.6" y1="76.1" x2="426.4" y2="71.3" stroke="#111" stroke-width="1.1"/>
<line x1="436.5" y1="70.5" x2="436.5" y2="77.7" stroke="#777" stroke-width="0.8"/>
<line x1="433.6" y1="76.1" x2="438.4" y2="71.3" stroke="#111" stroke-width="1.1"/>
<line x1="457.5" y1="70.5" x2="457.5" y2="77.7" stroke="#777" stroke-width="0.8"/>
<line x1="455.2" y1="76.1" x2="460.0" y2="71.3" stroke="#111" stroke-width="1.1"/>
<line x1="479.5" y1="70.5" x2="479.5" y2="77.7" stroke="#777" stroke-width="0.8"/>
<line x1="476.9" y1="76.1" x2="481.7" y2="71.3" stroke="#111" stroke-width="1.1"/>
<line x1="597.5" y1="70.5" x2="597.5" y2="77.7" stroke="#777" stroke-width="0.8"/>
<line x1="594.6" y1="76.1" x2="599.4" y2="71.3" stroke="#111" stroke-width="1.1"/>
<line x1="625.5" y1="70.5" x2="625.5" y2="77.7" stroke="#777" stroke-width="0.8"/>
<line x1="622.6" y1="76.1" x2="627.4" y2="71.3" stroke="#111" stroke-width="1.1"/>
<line x1="657.5" y1="70.5" x2="657.5" y2="77.7" stroke="#777" stroke-width="0.8"/>
<line x1="655.4" y1="76.1" x2="660.2" y2="71.3" stroke="#111" stroke-width="1.1"/>
<line x1="659.5" y1="70.5" x2="659.5" y2="77.7" stroke="#777" stroke-width="0.8"/>
<line x1="656.8" y1="76.1" x2="661.6" y2="71.3" stroke="#111" stroke-width="1.1"/>
<line x1="692.5" y1="70.5" x2="692.5" y2="77.7" stroke="#777" stroke-width="0.8"/>
<line x1="689.6" y1="76.1" x2="694.4" y2="71.3" stroke="#111" stroke-width="1.1"/>
<line x1="720.5" y1="70.5" x2="720.5" y2="77.7" stroke="#777" stroke-width="0.8"/>
<line x1="717.6" y1="76.1" x2="722.4" y2="71.3" stroke="#111" stroke-width="1.1"/>
<line x1="837.5" y1="70.5" x2="837.5" y2="77.7" stroke="#777" stroke-width="0.8"/>
<line x1="835.3" y1="76.1" x2="840.1" y2="71.3" stroke="#111" stroke-width="1.1"/>
<line x1="859.5" y1="70.5" x2="859.5" y2="77.7" stroke="#777" stroke-width="0.8"/>
<line x1="857.0" y1="76.1" x2="861.8" y2="71.3" stroke="#111" stroke-width="1.1"/>
<line x1="881.5" y1="70.5" x2="881.5" y2="77.7" stroke="#777" stroke-width="0.8"/>
<line x1="878.6" y1="76.1" x2="883.4" y2="71.3" stroke="#111" stroke-width="1.1"/>
<line x1="893.5" y1="70.5" x2="893.5" y2="77.7" stroke="#777" stroke-width="0.8"/>
<line x1="890.6" y1="76.1" x2="895.4" y2="71.3" stroke="#111" stroke-width="1.1"/>
<text transform="translate(430.0,72.5) scale(0.82,1)" font-size="5.5" text-anchor="middle" fill="#333">50</text>
<text transform="translate(887.0,72.5) scale(0.82,1)" font-size="5.5" text-anchor="middle" fill="#333">50</text>
<text transform="translate(446.8,72.5) scale(0.82,1)" font-size="5.5" text-anchor="middle" fill="#333">90</text>
<text transform="translate(870.2,72.5) scale(0.82,1)" font-size="5.5" text-anchor="middle" fill="#333">90</text>
<text transform="translate(468.4,72.5) scale(0.82,1)" font-size="5.5" text-anchor="middle" fill="#333">90</text>
<text transform="translate(848.6,72.5) scale(0.82,1)" font-size="5.5" text-anchor="middle" fill="#333">90</text>
<text transform="translate(538.0,72.5) scale(0.82,1)" font-size="5.5" text-anchor="middle" fill="#333">4.85</text>
<text transform="translate(779.0,72.5) scale(0.82,1)" font-size="5.5" text-anchor="middle" fill="#333">4.85</text>
<text transform="translate(611.0,72.5) scale(0.82,1)" font-size="5.5" text-anchor="middle" fill="#333">1.20</text>
<text transform="translate(706.0,72.5) scale(0.82,1)" font-size="5.5" text-anchor="middle" fill="#333">1.20</text>
<text transform="translate(641.4,72.5) scale(0.82,1)" font-size="5.5" text-anchor="middle" fill="#333">1.35</text>
<text transform="translate(675.6,72.5) scale(0.82,1)" font-size="5.5" text-anchor="middle" fill="#333">1.35</text>
<line x1="420.0" y1="81.5" x2="897.0" y2="81.5" stroke="#868686" stroke-width="1"/>
<line x1="424.5" y1="78.0" x2="424.5" y2="85.2" stroke="#777" stroke-width="0.8"/>
<line x1="421.6" y1="83.6" x2="426.4" y2="78.8" stroke="#111" stroke-width="1.1"/>
<line x1="444.5" y1="78.0" x2="444.5" y2="85.2" stroke="#777" stroke-width="0.8"/>
<line x1="442.1" y1="83.6" x2="446.9" y2="78.8" stroke="#111" stroke-width="1.1"/>
<line x1="479.5" y1="78.0" x2="479.5" y2="85.2" stroke="#777" stroke-width="0.8"/>
<line x1="477.0" y1="83.6" x2="481.8" y2="78.8" stroke="#111" stroke-width="1.1"/>
<line x1="610.5" y1="78.0" x2="610.5" y2="85.2" stroke="#777" stroke-width="0.8"/>
<line x1="608.1" y1="83.6" x2="612.9" y2="78.8" stroke="#111" stroke-width="1.1"/>
<line x1="657.5" y1="78.0" x2="657.5" y2="85.2" stroke="#777" stroke-width="0.8"/>
<line x1="655.4" y1="83.6" x2="660.2" y2="78.8" stroke="#111" stroke-width="1.1"/>
<line x1="659.5" y1="78.0" x2="659.5" y2="85.2" stroke="#777" stroke-width="0.8"/>
<line x1="656.8" y1="83.6" x2="661.6" y2="78.8" stroke="#111" stroke-width="1.1"/>
<line x1="706.5" y1="78.0" x2="706.5" y2="85.2" stroke="#777" stroke-width="0.8"/>
<line x1="704.1" y1="83.6" x2="708.9" y2="78.8" stroke="#111" stroke-width="1.1"/>
<line x1="837.5" y1="78.0" x2="837.5" y2="85.2" stroke="#777" stroke-width="0.8"/>
<line x1="835.2" y1="83.6" x2="840.0" y2="78.8" stroke="#111" stroke-width="1.1"/>
<line x1="872.5" y1="78.0" x2="872.5" y2="85.2" stroke="#777" stroke-width="0.8"/>
<line x1="870.1" y1="83.6" x2="874.9" y2="78.8" stroke="#111" stroke-width="1.1"/>
<line x1="893.5" y1="78.0" x2="893.5" y2="85.2" stroke="#777" stroke-width="0.8"/>
<line x1="890.6" y1="83.6" x2="895.4" y2="78.8" stroke="#111" stroke-width="1.1"/>
<text transform="translate(434.2,80.0) scale(0.82,1)" font-size="5.5" text-anchor="middle" fill="#333">85</text>
<text transform="translate(882.8,80.0) scale(0.82,1)" font-size="5.5" text-anchor="middle" fill="#333">85</text>
<text transform="translate(462.0,80.0) scale(0.82,1)" font-size="5.5" text-anchor="middle" fill="#333">1.45</text>
<text transform="translate(855.0,80.0) scale(0.82,1)" font-size="5.5" text-anchor="middle" fill="#333">1.45</text>
<text transform="translate(545.0,80.0) scale(0.82,1)" font-size="5.5" text-anchor="middle" fill="#333">5.45</text>
<text transform="translate(772.0,80.0) scale(0.82,1)" font-size="5.5" text-anchor="middle" fill="#333">5.45</text>
<text transform="translate(634.0,80.0) scale(0.82,1)" font-size="5.5" text-anchor="middle" fill="#333">1.95</text>
<text transform="translate(683.0,80.0) scale(0.82,1)" font-size="5.5" text-anchor="middle" fill="#333">1.95</text>
<line x1="420.0" y1="559.5" x2="897.0" y2="559.5" stroke="#868686" stroke-width="1"/>
<line x1="424.5" y1="556.0" x2="424.5" y2="563.2" stroke="#777" stroke-width="0.8"/>
<line x1="421.6" y1="561.6" x2="426.4" y2="556.8" stroke="#111" stroke-width="1.1"/>
<line x1="460.5" y1="556.0" x2="460.5" y2="563.2" stroke="#777" stroke-width="0.8"/>
<line x1="458.3" y1="561.6" x2="463.1" y2="556.8" stroke="#111" stroke-width="1.1"/>
<line x1="494.5" y1="556.0" x2="494.5" y2="563.2" stroke="#777" stroke-width="0.8"/>
<line x1="491.9" y1="561.6" x2="496.7" y2="556.8" stroke="#111" stroke-width="1.1"/>
<line x1="529.5" y1="556.0" x2="529.5" y2="563.2" stroke="#777" stroke-width="0.8"/>
<line x1="527.0" y1="561.6" x2="531.8" y2="556.8" stroke="#111" stroke-width="1.1"/>
<line x1="552.5" y1="556.0" x2="552.5" y2="563.2" stroke="#777" stroke-width="0.8"/>
<line x1="549.6" y1="561.6" x2="554.4" y2="556.8" stroke="#111" stroke-width="1.1"/>
<line x1="564.5" y1="556.0" x2="564.5" y2="563.2" stroke="#777" stroke-width="0.8"/>
<line x1="562.1" y1="561.6" x2="566.9" y2="556.8" stroke="#111" stroke-width="1.1"/>
<line x1="611.5" y1="556.0" x2="611.5" y2="563.2" stroke="#777" stroke-width="0.8"/>
<line x1="609.0" y1="561.6" x2="613.8" y2="556.8" stroke="#111" stroke-width="1.1"/>
<line x1="657.5" y1="556.0" x2="657.5" y2="563.2" stroke="#777" stroke-width="0.8"/>
<line x1="655.4" y1="561.6" x2="660.2" y2="556.8" stroke="#111" stroke-width="1.1"/>
<line x1="659.5" y1="556.0" x2="659.5" y2="563.2" stroke="#777" stroke-width="0.8"/>
<line x1="656.8" y1="561.6" x2="661.6" y2="556.8" stroke="#111" stroke-width="1.1"/>
<line x1="705.5" y1="556.0" x2="705.5" y2="563.2" stroke="#777" stroke-width="0.8"/>
<line x1="703.2" y1="561.6" x2="708.0" y2="556.8" stroke="#111" stroke-width="1.1"/>
<line x1="752.5" y1="556.0" x2="752.5" y2="563.2" stroke="#777" stroke-width="0.8"/>
<line x1="750.1" y1="561.6" x2="754.9" y2="556.8" stroke="#111" stroke-width="1.1"/>
<line x1="765.5" y1="556.0" x2="765.5" y2="563.2" stroke="#777" stroke-width="0.8"/>
<line x1="762.6" y1="561.6" x2="767.4" y2="556.8" stroke="#111" stroke-width="1.1"/>
<line x1="787.5" y1="556.0" x2="787.5" y2="563.2" stroke="#777" stroke-width="0.8"/>
<line x1="785.2" y1="561.6" x2="790.0" y2="556.8" stroke="#111" stroke-width="1.1"/>
<line x1="822.5" y1="556.0" x2="822.5" y2="563.2" stroke="#777" stroke-width="0.8"/>
<line x1="820.3" y1="561.6" x2="825.1" y2="556.8" stroke="#111" stroke-width="1.1"/>
<line x1="856.5" y1="556.0" x2="856.5" y2="563.2" stroke="#777" stroke-width="0.8"/>
<line x1="853.9" y1="561.6" x2="858.7" y2="556.8" stroke="#111" stroke-width="1.1"/>
<line x1="893.5" y1="556.0" x2="893.5" y2="563.2" stroke="#777" stroke-width="0.8"/>
<line x1="890.6" y1="561.6" x2="895.4" y2="556.8" stroke="#111" stroke-width="1.1"/>
<text transform="translate(442.0,558.0) scale(0.82,1)" font-size="5.5" text-anchor="middle" fill="#333">1.50</text>
<text transform="translate(875.0,558.0) scale(0.82,1)" font-size="5.5" text-anchor="middle" fill="#333">1.50</text>
<text transform="translate(477.5,558.0) scale(0.82,1)" font-size="5.5" text-anchor="middle" fill="#333">1.40</text>
<text transform="translate(839.5,558.0) scale(0.82,1)" font-size="5.5" text-anchor="middle" fill="#333">1.40</text>
<text transform="translate(511.0,558.0) scale(0.82,1)" font-size="5.5" text-anchor="middle" fill="#333">1.50</text>
<text transform="translate(806.0,558.0) scale(0.82,1)" font-size="5.5" text-anchor="middle" fill="#333">1.50</text>
<text transform="translate(541.0,558.0) scale(0.82,1)" font-size="5.5" text-anchor="middle" fill="#333">90</text>
<text transform="translate(776.0,558.0) scale(0.82,1)" font-size="5.5" text-anchor="middle" fill="#333">90</text>
<text transform="translate(558.0,558.0) scale(0.82,1)" font-size="5.5" text-anchor="middle" fill="#333">50</text>
<text transform="translate(759.0,558.0) scale(0.82,1)" font-size="5.5" text-anchor="middle" fill="#333">50</text>
<text transform="translate(587.5,558.0) scale(0.82,1)" font-size="5.5" text-anchor="middle" fill="#333">1.95</text>
<text transform="translate(729.5,558.0) scale(0.82,1)" font-size="5.5" text-anchor="middle" fill="#333">1.95</text>
<text transform="translate(634.6,558.0) scale(0.82,1)" font-size="5.5" text-anchor="middle" fill="#333">1.95</text>
<text transform="translate(682.4,558.0) scale(0.82,1)" font-size="5.5" text-anchor="middle" fill="#333">1.95</text>
<text transform="translate(656.0,558.0) scale(0.82,1)" font-size="5.5" text-anchor="middle" fill="#333">5</text>
<text transform="translate(661.0,558.0) scale(0.82,1)" font-size="5.5" text-anchor="middle" fill="#333">5</text>
<line x1="420.0" y1="566.5" x2="897.0" y2="566.5" stroke="#868686" stroke-width="1"/>
<line x1="424.5" y1="563.5" x2="424.5" y2="570.7" stroke="#777" stroke-width="0.8"/>
<line x1="421.6" y1="569.1" x2="426.4" y2="564.3" stroke="#111" stroke-width="1.1"/>
<line x1="449.5" y1="563.5" x2="449.5" y2="570.7" stroke="#777" stroke-width="0.8"/>
<line x1="446.9" y1="569.1" x2="451.7" y2="564.3" stroke="#111" stroke-width="1.1"/>
<line x1="470.5" y1="563.5" x2="470.5" y2="570.7" stroke="#777" stroke-width="0.8"/>
<line x1="468.5" y1="569.1" x2="473.3" y2="564.3" stroke="#111" stroke-width="1.1"/>
<line x1="482.5" y1="563.5" x2="482.5" y2="570.7" stroke="#777" stroke-width="0.8"/>
<line x1="480.5" y1="569.1" x2="485.3" y2="564.3" stroke="#111" stroke-width="1.1"/>
<line x1="504.5" y1="563.5" x2="504.5" y2="570.7" stroke="#777" stroke-width="0.8"/>
<line x1="502.1" y1="569.1" x2="506.9" y2="564.3" stroke="#111" stroke-width="1.1"/>
<line x1="529.5" y1="563.5" x2="529.5" y2="570.7" stroke="#777" stroke-width="0.8"/>
<line x1="527.0" y1="569.1" x2="531.8" y2="564.3" stroke="#111" stroke-width="1.1"/>
<line x1="539.5" y1="563.5" x2="539.5" y2="570.7" stroke="#777" stroke-width="0.8"/>
<line x1="537.1" y1="569.1" x2="541.9" y2="564.3" stroke="#111" stroke-width="1.1"/>
<line x1="564.5" y1="563.5" x2="564.5" y2="570.7" stroke="#777" stroke-width="0.8"/>
<line x1="562.1" y1="569.1" x2="566.9" y2="564.3" stroke="#111" stroke-width="1.1"/>
<line x1="577.5" y1="563.5" x2="577.5" y2="570.7" stroke="#777" stroke-width="0.8"/>
<line x1="575.4" y1="569.1" x2="580.2" y2="564.3" stroke="#111" stroke-width="1.1"/>
<line x1="643.5" y1="563.5" x2="643.5" y2="570.7" stroke="#777" stroke-width="0.8"/>
<line x1="641.0" y1="569.1" x2="645.8" y2="564.3" stroke="#111" stroke-width="1.1"/>
<line x1="657.5" y1="563.5" x2="657.5" y2="570.7" stroke="#777" stroke-width="0.8"/>
<line x1="655.4" y1="569.1" x2="660.2" y2="564.3" stroke="#111" stroke-width="1.1"/>
<line x1="659.5" y1="563.5" x2="659.5" y2="570.7" stroke="#777" stroke-width="0.8"/>
<line x1="656.8" y1="569.1" x2="661.6" y2="564.3" stroke="#111" stroke-width="1.1"/>
<line x1="673.5" y1="563.5" x2="673.5" y2="570.7" stroke="#777" stroke-width="0.8"/>
<line x1="671.2" y1="569.1" x2="676.0" y2="564.3" stroke="#111" stroke-width="1.1"/>
<line x1="739.5" y1="563.5" x2="739.5" y2="570.7" stroke="#777" stroke-width="0.8"/>
<line x1="736.8" y1="569.1" x2="741.6" y2="564.3" stroke="#111" stroke-width="1.1"/>
<line x1="752.5" y1="563.5" x2="752.5" y2="570.7" stroke="#777" stroke-width="0.8"/>
<line x1="750.1" y1="569.1" x2="754.9" y2="564.3" stroke="#111" stroke-width="1.1"/>
<line x1="777.5" y1="563.5" x2="777.5" y2="570.7" stroke="#777" stroke-width="0.8"/>
<line x1="775.1" y1="569.1" x2="779.9" y2="564.3" stroke="#111" stroke-width="1.1"/>
<line x1="787.5" y1="563.5" x2="787.5" y2="570.7" stroke="#777" stroke-width="0.8"/>
<line x1="785.2" y1="569.1" x2="790.0" y2="564.3" stroke="#111" stroke-width="1.1"/>
<line x1="812.5" y1="563.5" x2="812.5" y2="570.7" stroke="#777" stroke-width="0.8"/>
<line x1="810.1" y1="569.1" x2="814.9" y2="564.3" stroke="#111" stroke-width="1.1"/>
<line x1="834.5" y1="563.5" x2="834.5" y2="570.7" stroke="#777" stroke-width="0.8"/>
<line x1="831.7" y1="569.1" x2="836.5" y2="564.3" stroke="#111" stroke-width="1.1"/>
<line x1="846.5" y1="563.5" x2="846.5" y2="570.7" stroke="#777" stroke-width="0.8"/>
<line x1="843.7" y1="569.1" x2="848.5" y2="564.3" stroke="#111" stroke-width="1.1"/>
<line x1="867.5" y1="563.5" x2="867.5" y2="570.7" stroke="#777" stroke-width="0.8"/>
<line x1="865.3" y1="569.1" x2="870.1" y2="564.3" stroke="#111" stroke-width="1.1"/>
<line x1="893.5" y1="563.5" x2="893.5" y2="570.7" stroke="#777" stroke-width="0.8"/>
<line x1="890.6" y1="569.1" x2="895.4" y2="564.3" stroke="#111" stroke-width="1.1"/>
<text transform="translate(436.6,565.5) scale(0.82,1)" font-size="5.5" text-anchor="middle" fill="#333">1.05</text>
<text transform="translate(880.4,565.5) scale(0.82,1)" font-size="5.5" text-anchor="middle" fill="#333">1.05</text>
<text transform="translate(460.0,565.5) scale(0.82,1)" font-size="5.5" text-anchor="middle" fill="#333">90</text>
<text transform="translate(857.0,565.5) scale(0.82,1)" font-size="5.5" text-anchor="middle" fill="#333">90</text>
<text transform="translate(477.0,565.5) scale(0.82,1)" font-size="5.5" text-anchor="middle" fill="#333">50</text>
<text transform="translate(840.0,565.5) scale(0.82,1)" font-size="5.5" text-anchor="middle" fill="#333">50</text>
<text transform="translate(494.0,565.5) scale(0.82,1)" font-size="5.5" text-anchor="middle" fill="#333">90</text>
<text transform="translate(823.0,565.5) scale(0.82,1)" font-size="5.5" text-anchor="middle" fill="#333">90</text>
<text transform="translate(517.0,565.5) scale(0.82,1)" font-size="5.5" text-anchor="middle" fill="#333">1.05</text>
<text transform="translate(800.0,565.5) scale(0.82,1)" font-size="5.5" text-anchor="middle" fill="#333">1.05</text>
<text transform="translate(533.0,565.5) scale(0.82,1)" font-size="5.5" text-anchor="middle" fill="#333">40</text>
<text transform="translate(784.0,565.5) scale(0.82,1)" font-size="5.5" text-anchor="middle" fill="#333">40</text>
<text transform="translate(551.5,565.5) scale(0.82,1)" font-size="5.5" text-anchor="middle" fill="#333">1.00</text>
<text transform="translate(765.5,565.5) scale(0.82,1)" font-size="5.5" text-anchor="middle" fill="#333">1.00</text>
<text transform="translate(571.0,565.5) scale(0.82,1)" font-size="5.5" text-anchor="middle" fill="#333">50</text>
<text transform="translate(746.0,565.5) scale(0.82,1)" font-size="5.5" text-anchor="middle" fill="#333">50</text>
<text transform="translate(610.6,565.5) scale(0.82,1)" font-size="5.5" text-anchor="middle" fill="#333">2.75</text>
<text transform="translate(706.4,565.5) scale(0.82,1)" font-size="5.5" text-anchor="middle" fill="#333">2.75</text>
<text transform="translate(649.5,565.5) scale(0.82,1)" font-size="5.5" text-anchor="middle" fill="#333">50</text>
<text transform="translate(667.5,565.5) scale(0.82,1)" font-size="5.5" text-anchor="middle" fill="#333">50</text>
<text transform="translate(656.0,565.5) scale(0.82,1)" font-size="5.5" text-anchor="middle" fill="#333">5</text>
<text transform="translate(661.0,565.5) scale(0.82,1)" font-size="5.5" text-anchor="middle" fill="#333">5</text>
<line x1="420.0" y1="574.5" x2="897.0" y2="574.5" stroke="#868686" stroke-width="1"/>
<line x1="424.5" y1="571.5" x2="424.5" y2="578.7" stroke="#777" stroke-width="0.8"/>
<line x1="421.6" y1="577.1" x2="426.4" y2="572.3" stroke="#111" stroke-width="1.1"/>
<line x1="436.5" y1="571.5" x2="436.5" y2="578.7" stroke="#777" stroke-width="0.8"/>
<line x1="433.6" y1="577.1" x2="438.4" y2="572.3" stroke="#111" stroke-width="1.1"/>
<line x1="518.5" y1="571.5" x2="518.5" y2="578.7" stroke="#777" stroke-width="0.8"/>
<line x1="516.1" y1="577.1" x2="520.9" y2="572.3" stroke="#111" stroke-width="1.1"/>
<line x1="529.5" y1="571.5" x2="529.5" y2="578.7" stroke="#777" stroke-width="0.8"/>
<line x1="527.0" y1="577.1" x2="531.8" y2="572.3" stroke="#111" stroke-width="1.1"/>
<line x1="564.5" y1="571.5" x2="564.5" y2="578.7" stroke="#777" stroke-width="0.8"/>
<line x1="562.1" y1="577.1" x2="566.9" y2="572.3" stroke="#111" stroke-width="1.1"/>
<line x1="570.5" y1="571.5" x2="570.5" y2="578.7" stroke="#777" stroke-width="0.8"/>
<line x1="568.4" y1="577.1" x2="573.2" y2="572.3" stroke="#111" stroke-width="1.1"/>
<line x1="650.5" y1="571.5" x2="650.5" y2="578.7" stroke="#777" stroke-width="0.8"/>
<line x1="648.1" y1="577.1" x2="652.9" y2="572.3" stroke="#111" stroke-width="1.1"/>
<line x1="657.5" y1="571.5" x2="657.5" y2="578.7" stroke="#777" stroke-width="0.8"/>
<line x1="655.4" y1="577.1" x2="660.2" y2="572.3" stroke="#111" stroke-width="1.1"/>
<line x1="659.5" y1="571.5" x2="659.5" y2="578.7" stroke="#777" stroke-width="0.8"/>
<line x1="656.8" y1="577.1" x2="661.6" y2="572.3" stroke="#111" stroke-width="1.1"/>
<line x1="666.5" y1="571.5" x2="666.5" y2="578.7" stroke="#777" stroke-width="0.8"/>
<line x1="664.1" y1="577.1" x2="668.9" y2="572.3" stroke="#111" stroke-width="1.1"/>
<line x1="746.5" y1="571.5" x2="746.5" y2="578.7" stroke="#777" stroke-width="0.8"/>
<line x1="743.8" y1="577.1" x2="748.6" y2="572.3" stroke="#111" stroke-width="1.1"/>
<line x1="752.5" y1="571.5" x2="752.5" y2="578.7" stroke="#777" stroke-width="0.8"/>
<line x1="750.1" y1="577.1" x2="754.9" y2="572.3" stroke="#111" stroke-width="1.1"/>
<line x1="787.5" y1="571.5" x2="787.5" y2="578.7" stroke="#777" stroke-width="0.8"/>
<line x1="785.2" y1="577.1" x2="790.0" y2="572.3" stroke="#111" stroke-width="1.1"/>
<line x1="798.5" y1="571.5" x2="798.5" y2="578.7" stroke="#777" stroke-width="0.8"/>
<line x1="796.1" y1="577.1" x2="800.9" y2="572.3" stroke="#111" stroke-width="1.1"/>
<line x1="881.5" y1="571.5" x2="881.5" y2="578.7" stroke="#777" stroke-width="0.8"/>
<line x1="878.6" y1="577.1" x2="883.4" y2="572.3" stroke="#111" stroke-width="1.1"/>
<line x1="893.5" y1="571.5" x2="893.5" y2="578.7" stroke="#777" stroke-width="0.8"/>
<line x1="890.6" y1="577.1" x2="895.4" y2="572.3" stroke="#111" stroke-width="1.1"/>
<text transform="translate(430.0,573.5) scale(0.82,1)" font-size="5.5" text-anchor="middle" fill="#333">50</text>
<text transform="translate(887.0,573.5) scale(0.82,1)" font-size="5.5" text-anchor="middle" fill="#333">50</text>
<text transform="translate(477.0,573.5) scale(0.82,1)" font-size="5.5" text-anchor="middle" fill="#333">3.40</text>
<text transform="translate(840.0,573.5) scale(0.82,1)" font-size="5.5" text-anchor="middle" fill="#333">3.40</text>
<text transform="translate(524.0,573.5) scale(0.82,1)" font-size="5.5" text-anchor="middle" fill="#333">50</text>
<text transform="translate(793.0,573.5) scale(0.82,1)" font-size="5.5" text-anchor="middle" fill="#333">50</text>
<text transform="translate(545.0,573.5) scale(0.82,1)" font-size="5.5" text-anchor="middle" fill="#333">1.40</text>
<text transform="translate(772.0,573.5) scale(0.82,1)" font-size="5.5" text-anchor="middle" fill="#333">1.40</text>
<text transform="translate(560.0,573.5) scale(0.82,1)" font-size="5.5" text-anchor="middle" fill="#333">30</text>
<text transform="translate(757.0,573.5) scale(0.82,1)" font-size="5.5" text-anchor="middle" fill="#333">30</text>
<text transform="translate(610.6,573.5) scale(0.82,1)" font-size="5.5" text-anchor="middle" fill="#333">3.30</text>
<text transform="translate(706.4,573.5) scale(0.82,1)" font-size="5.5" text-anchor="middle" fill="#333">3.30</text>
<text transform="translate(647.0,573.5) scale(0.82,1)" font-size="5.5" text-anchor="middle" fill="#333">30</text>
<text transform="translate(670.0,573.5) scale(0.82,1)" font-size="5.5" text-anchor="middle" fill="#333">30</text>
<text transform="translate(656.0,573.5) scale(0.82,1)" font-size="5.5" text-anchor="middle" fill="#333">5</text>
<text transform="translate(661.0,573.5) scale(0.82,1)" font-size="5.5" text-anchor="middle" fill="#333">5</text>
<line x1="420.0" y1="582.5" x2="897.0" y2="582.5" stroke="#868686" stroke-width="1"/>
<line x1="424.5" y1="579.1" x2="424.5" y2="586.3" stroke="#777" stroke-width="0.8"/>
<line x1="421.6" y1="584.7" x2="426.4" y2="579.9" stroke="#111" stroke-width="1.1"/>
<line x1="529.5" y1="579.1" x2="529.5" y2="586.3" stroke="#777" stroke-width="0.8"/>
<line x1="527.0" y1="584.7" x2="531.8" y2="579.9" stroke="#111" stroke-width="1.1"/>
<line x1="564.5" y1="579.1" x2="564.5" y2="586.3" stroke="#777" stroke-width="0.8"/>
<line x1="562.1" y1="584.7" x2="566.9" y2="579.9" stroke="#111" stroke-width="1.1"/>
<line x1="657.5" y1="579.1" x2="657.5" y2="586.3" stroke="#777" stroke-width="0.8"/>
<line x1="655.4" y1="584.7" x2="660.2" y2="579.9" stroke="#111" stroke-width="1.1"/>
<line x1="659.5" y1="579.1" x2="659.5" y2="586.3" stroke="#777" stroke-width="0.8"/>
<line x1="656.8" y1="584.7" x2="661.6" y2="579.9" stroke="#111" stroke-width="1.1"/>
<line x1="752.5" y1="579.1" x2="752.5" y2="586.3" stroke="#777" stroke-width="0.8"/>
<line x1="750.1" y1="584.7" x2="754.9" y2="579.9" stroke="#111" stroke-width="1.1"/>
<line x1="787.5" y1="579.1" x2="787.5" y2="586.3" stroke="#777" stroke-width="0.8"/>
<line x1="785.2" y1="584.7" x2="790.0" y2="579.9" stroke="#111" stroke-width="1.1"/>
<line x1="893.5" y1="579.1" x2="893.5" y2="586.3" stroke="#777" stroke-width="0.8"/>
<line x1="890.6" y1="584.7" x2="895.4" y2="579.9" stroke="#111" stroke-width="1.1"/>
<text transform="translate(477.0,581.1) scale(0.82,1)" font-size="5.5" text-anchor="middle" fill="#333">4.40</text>
<text transform="translate(840.0,581.1) scale(0.82,1)" font-size="5.5" text-anchor="middle" fill="#333">4.40</text>
<text transform="translate(547.0,581.1) scale(0.82,1)" font-size="5.5" text-anchor="middle" fill="#333">1.40</text>
<text transform="translate(770.0,581.1) scale(0.82,1)" font-size="5.5" text-anchor="middle" fill="#333">1.40</text>
<text transform="translate(610.6,581.1) scale(0.82,1)" font-size="5.5" text-anchor="middle" fill="#333">3.90</text>
<text transform="translate(706.4,581.1) scale(0.82,1)" font-size="5.5" text-anchor="middle" fill="#333">3.90</text>
<text transform="translate(656.0,581.1) scale(0.82,1)" font-size="5.5" text-anchor="middle" fill="#333">5</text>
<text transform="translate(661.0,581.1) scale(0.82,1)" font-size="5.5" text-anchor="middle" fill="#333">5</text>
<line x1="420.0" y1="589.5" x2="897.0" y2="589.5" stroke="#868686" stroke-width="1"/>
<line x1="424.5" y1="586.7" x2="424.5" y2="593.9" stroke="#777" stroke-width="0.8"/>
<line x1="421.6" y1="592.3" x2="426.4" y2="587.5" stroke="#111" stroke-width="1.1"/>
<line x1="657.5" y1="586.7" x2="657.5" y2="593.9" stroke="#777" stroke-width="0.8"/>
<line x1="655.4" y1="592.3" x2="660.2" y2="587.5" stroke="#111" stroke-width="1.1"/>
<line x1="659.5" y1="586.7" x2="659.5" y2="593.9" stroke="#777" stroke-width="0.8"/>
<line x1="656.8" y1="592.3" x2="661.6" y2="587.5" stroke="#111" stroke-width="1.1"/>
<line x1="893.5" y1="586.7" x2="893.5" y2="593.9" stroke="#777" stroke-width="0.8"/>
<line x1="890.6" y1="592.3" x2="895.4" y2="587.5" stroke="#111" stroke-width="1.1"/>
<text transform="translate(541.0,588.7) scale(0.82,1)" font-size="5.5" text-anchor="middle" fill="#333">9.70</text>
<text transform="translate(776.0,588.7) scale(0.82,1)" font-size="5.5" text-anchor="middle" fill="#333">9.70</text>
<text transform="translate(656.0,588.7) scale(0.82,1)" font-size="5.5" text-anchor="middle" fill="#333">5</text>
<text transform="translate(661.0,588.7) scale(0.82,1)" font-size="5.5" text-anchor="middle" fill="#333">5</text>
<line x1="420.0" y1="597.5" x2="897.0" y2="597.5" stroke="#868686" stroke-width="1"/>
<line x1="424.5" y1="594.3" x2="424.5" y2="601.5" stroke="#777" stroke-width="0.8"/>
<line x1="421.6" y1="599.9" x2="426.4" y2="595.1" stroke="#111" stroke-width="1.1"/>
<line x1="893.5" y1="594.3" x2="893.5" y2="601.5" stroke="#777" stroke-width="0.8"/>
<line x1="890.6" y1="599.9" x2="895.4" y2="595.1" stroke="#111" stroke-width="1.1"/>
<text transform="translate(658.5,596.3) scale(0.82,1)" font-size="5.5" text-anchor="middle" fill="#333">19.45</text>
<text transform="translate(658.5,596.3) scale(0.82,1)" font-size="5.5" text-anchor="middle" fill="#333">19.45</text>
<line x1="424.0" y1="548" x2="424.0" y2="603" stroke="#868686" stroke-width="1"/>
<line x1="529.4" y1="548" x2="529.4" y2="603" stroke="#868686" stroke-width="1"/>
<line x1="656.5" y1="548" x2="656.5" y2="603" stroke="#868686" stroke-width="1"/>
<line x1="660.6" y1="548" x2="660.6" y2="603" stroke="#868686" stroke-width="1"/>
<line x1="787.6" y1="548" x2="787.6" y2="603" stroke="#868686" stroke-width="1"/>
<line x1="893.0" y1="548" x2="893.0" y2="603" stroke="#868686" stroke-width="1"/>
<line x1="361.5" y1="107.2" x2="361.5" y2="538.2" stroke="#868686" stroke-width="1"/>
<line x1="358.4" y1="111.5" x2="365.6" y2="111.5" stroke="#777" stroke-width="0.8"/>
<line x1="359.2" y1="108.8" x2="364.0" y2="113.6" stroke="#111" stroke-width="1.1"/>
<line x1="358.4" y1="534.5" x2="365.6" y2="534.5" stroke="#777" stroke-width="0.8"/>
<line x1="359.2" y1="531.8" x2="364.0" y2="536.6" stroke="#111" stroke-width="1.1"/>
<text transform="translate(360.3,322.0) rotate(-90) scale(0.82,1)" font-size="5.5" text-anchor="middle" fill="#333">17.55</text>
<line x1="369.5" y1="107.2" x2="369.5" y2="538.2" stroke="#868686" stroke-width="1"/>
<line x1="366.1" y1="111.5" x2="373.3" y2="111.5" stroke="#777" stroke-width="0.8"/>
<line x1="366.9" y1="108.8" x2="371.7" y2="113.6" stroke="#111" stroke-width="1.1"/>
<line x1="366.1" y1="314.5" x2="373.3" y2="314.5" stroke="#777" stroke-width="0.8"/>
<line x1="366.9" y1="312.1" x2="371.7" y2="316.9" stroke="#111" stroke-width="1.1"/>
<line x1="366.1" y1="534.5" x2="373.3" y2="534.5" stroke="#777" stroke-width="0.8"/>
<line x1="366.9" y1="531.8" x2="371.7" y2="536.6" stroke="#111" stroke-width="1.1"/>
<text transform="translate(368.0,212.7) rotate(-90) scale(0.82,1)" font-size="5.5" text-anchor="middle" fill="#333">8.45</text>
<text transform="translate(368.0,425.0) rotate(-90) scale(0.82,1)" font-size="5.5" text-anchor="middle" fill="#333">9.10</text>
<line x1="376.5" y1="107.2" x2="376.5" y2="538.2" stroke="#868686" stroke-width="1"/>
<line x1="373.6" y1="111.5" x2="380.8" y2="111.5" stroke="#777" stroke-width="0.8"/>
<line x1="374.4" y1="108.8" x2="379.2" y2="113.6" stroke="#111" stroke-width="1.1"/>
<line x1="373.6" y1="123.5" x2="380.8" y2="123.5" stroke="#777" stroke-width="0.8"/>
<line x1="374.4" y1="120.9" x2="379.2" y2="125.7" stroke="#111" stroke-width="1.1"/>
<line x1="373.6" y1="314.5" x2="380.8" y2="314.5" stroke="#777" stroke-width="0.8"/>
<line x1="374.4" y1="312.1" x2="379.2" y2="316.9" stroke="#111" stroke-width="1.1"/>
<line x1="373.6" y1="326.5" x2="380.8" y2="326.5" stroke="#777" stroke-width="0.8"/>
<line x1="374.4" y1="324.0" x2="379.2" y2="328.8" stroke="#111" stroke-width="1.1"/>
<line x1="373.6" y1="435.5" x2="380.8" y2="435.5" stroke="#777" stroke-width="0.8"/>
<line x1="374.4" y1="432.6" x2="379.2" y2="437.4" stroke="#111" stroke-width="1.1"/>
<line x1="373.6" y1="442.5" x2="380.8" y2="442.5" stroke="#777" stroke-width="0.8"/>
<line x1="374.4" y1="440.0" x2="379.2" y2="444.8" stroke="#111" stroke-width="1.1"/>
<line x1="373.6" y1="521.5" x2="380.8" y2="521.5" stroke="#777" stroke-width="0.8"/>
<line x1="374.4" y1="519.4" x2="379.2" y2="524.2" stroke="#111" stroke-width="1.1"/>
<line x1="373.6" y1="534.5" x2="380.8" y2="534.5" stroke="#777" stroke-width="0.8"/>
<line x1="374.4" y1="531.8" x2="379.2" y2="536.6" stroke="#111" stroke-width="1.1"/>
<text transform="translate(375.5,117.0) rotate(-90) scale(0.82,1)" font-size="5.5" text-anchor="middle" fill="#333">50</text>
<text transform="translate(375.5,218.0) rotate(-90) scale(0.82,1)" font-size="5.5" text-anchor="middle" fill="#333">7.95</text>
<text transform="translate(375.5,320.5) rotate(-90) scale(0.82,1)" font-size="5.5" text-anchor="middle" fill="#333">50</text>
<text transform="translate(375.5,380.0) rotate(-90) scale(0.82,1)" font-size="5.5" text-anchor="middle" fill="#333">4.50</text>
<text transform="translate(375.5,438.7) rotate(-90) scale(0.82,1)" font-size="5.5" text-anchor="middle" fill="#333">30</text>
<text transform="translate(375.5,482.0) rotate(-90) scale(0.82,1)" font-size="5.5" text-anchor="middle" fill="#333">3.30</text>
<text transform="translate(375.5,528.0) rotate(-90) scale(0.82,1)" font-size="5.5" text-anchor="middle" fill="#333">50</text>
<line x1="384.5" y1="107.2" x2="384.5" y2="538.2" stroke="#868686" stroke-width="1"/>
<line x1="381.4" y1="111.5" x2="388.6" y2="111.5" stroke="#777" stroke-width="0.8"/>
<line x1="382.2" y1="108.8" x2="387.0" y2="113.6" stroke="#111" stroke-width="1.1"/>
<line x1="381.4" y1="123.5" x2="388.6" y2="123.5" stroke="#777" stroke-width="0.8"/>
<line x1="382.2" y1="120.9" x2="387.0" y2="125.7" stroke="#111" stroke-width="1.1"/>
<line x1="381.4" y1="228.5" x2="388.6" y2="228.5" stroke="#777" stroke-width="0.8"/>
<line x1="382.2" y1="225.8" x2="387.0" y2="230.6" stroke="#111" stroke-width="1.1"/>
<line x1="381.4" y1="230.5" x2="388.6" y2="230.5" stroke="#777" stroke-width="0.8"/>
<line x1="382.2" y1="228.1" x2="387.0" y2="232.9" stroke="#111" stroke-width="1.1"/>
<line x1="381.4" y1="314.5" x2="388.6" y2="314.5" stroke="#777" stroke-width="0.8"/>
<line x1="382.2" y1="312.1" x2="387.0" y2="316.9" stroke="#111" stroke-width="1.1"/>
<line x1="381.4" y1="326.5" x2="388.6" y2="326.5" stroke="#777" stroke-width="0.8"/>
<line x1="382.2" y1="324.0" x2="387.0" y2="328.8" stroke="#111" stroke-width="1.1"/>
<line x1="381.4" y1="435.5" x2="388.6" y2="435.5" stroke="#777" stroke-width="0.8"/>
<line x1="382.2" y1="432.6" x2="387.0" y2="437.4" stroke="#111" stroke-width="1.1"/>
<line x1="381.4" y1="442.5" x2="388.6" y2="442.5" stroke="#777" stroke-width="0.8"/>
<line x1="382.2" y1="440.0" x2="387.0" y2="444.8" stroke="#111" stroke-width="1.1"/>
<line x1="381.4" y1="521.5" x2="388.6" y2="521.5" stroke="#777" stroke-width="0.8"/>
<line x1="382.2" y1="519.4" x2="387.0" y2="524.2" stroke="#111" stroke-width="1.1"/>
<line x1="381.4" y1="534.5" x2="388.6" y2="534.5" stroke="#777" stroke-width="0.8"/>
<line x1="382.2" y1="531.8" x2="387.0" y2="536.6" stroke="#111" stroke-width="1.1"/>
<text transform="translate(383.3,117.0) rotate(-90) scale(0.82,1)" font-size="5.5" text-anchor="middle" fill="#333">50</text>
<text transform="translate(383.3,176.0) rotate(-90) scale(0.82,1)" font-size="5.5" text-anchor="middle" fill="#333">4.15</text>
<text transform="translate(383.3,226.0) rotate(-90) scale(0.82,1)" font-size="5.5" text-anchor="middle" fill="#333">18</text>
<text transform="translate(383.3,274.5) rotate(-90) scale(0.82,1)" font-size="5.5" text-anchor="middle" fill="#333">3.50</text>
<text transform="translate(383.3,320.5) rotate(-90) scale(0.82,1)" font-size="5.5" text-anchor="middle" fill="#333">50</text>
<text transform="translate(383.3,380.0) rotate(-90) scale(0.82,1)" font-size="5.5" text-anchor="middle" fill="#333">4.50</text>
<text transform="translate(383.3,438.7) rotate(-90) scale(0.82,1)" font-size="5.5" text-anchor="middle" fill="#333">30</text>
<text transform="translate(383.3,482.0) rotate(-90) scale(0.82,1)" font-size="5.5" text-anchor="middle" fill="#333">3.30</text>
<text transform="translate(383.3,528.0) rotate(-90) scale(0.82,1)" font-size="5.5" text-anchor="middle" fill="#333">50</text>
<line x1="392.5" y1="107.2" x2="392.5" y2="538.2" stroke="#868686" stroke-width="1"/>
<line x1="389.2" y1="111.5" x2="396.4" y2="111.5" stroke="#777" stroke-width="0.8"/>
<line x1="390.0" y1="108.8" x2="394.8" y2="113.6" stroke="#111" stroke-width="1.1"/>
<line x1="389.2" y1="154.5" x2="396.4" y2="154.5" stroke="#777" stroke-width="0.8"/>
<line x1="390.0" y1="152.1" x2="394.8" y2="156.9" stroke="#111" stroke-width="1.1"/>
<line x1="389.2" y1="198.5" x2="396.4" y2="198.5" stroke="#777" stroke-width="0.8"/>
<line x1="390.0" y1="195.8" x2="394.8" y2="200.6" stroke="#111" stroke-width="1.1"/>
<line x1="389.2" y1="244.5" x2="396.4" y2="244.5" stroke="#777" stroke-width="0.8"/>
<line x1="390.0" y1="242.1" x2="394.8" y2="246.9" stroke="#111" stroke-width="1.1"/>
<line x1="389.2" y1="273.5" x2="396.4" y2="273.5" stroke="#777" stroke-width="0.8"/>
<line x1="390.0" y1="271.2" x2="394.8" y2="276.0" stroke="#111" stroke-width="1.1"/>
<line x1="389.2" y1="314.5" x2="396.4" y2="314.5" stroke="#777" stroke-width="0.8"/>
<line x1="390.0" y1="312.1" x2="394.8" y2="316.9" stroke="#111" stroke-width="1.1"/>
<line x1="389.2" y1="338.5" x2="396.4" y2="338.5" stroke="#777" stroke-width="0.8"/>
<line x1="390.0" y1="335.8" x2="394.8" y2="340.6" stroke="#111" stroke-width="1.1"/>
<line x1="389.2" y1="423.5" x2="396.4" y2="423.5" stroke="#777" stroke-width="0.8"/>
<line x1="390.0" y1="421.2" x2="394.8" y2="426.0" stroke="#111" stroke-width="1.1"/>
<line x1="389.2" y1="534.5" x2="396.4" y2="534.5" stroke="#777" stroke-width="0.8"/>
<line x1="390.0" y1="531.8" x2="394.8" y2="536.6" stroke="#111" stroke-width="1.1"/>
<text transform="translate(391.1,133.0) rotate(-90) scale(0.82,1)" font-size="5.5" text-anchor="middle" fill="#333">1.80</text>
<text transform="translate(391.1,176.5) rotate(-90) scale(0.82,1)" font-size="5.5" text-anchor="middle" fill="#333">1.80</text>
<text transform="translate(391.1,221.0) rotate(-90) scale(0.82,1)" font-size="5.5" text-anchor="middle" fill="#333">1.95</text>
<text transform="translate(391.1,259.0) rotate(-90) scale(0.82,1)" font-size="5.5" text-anchor="middle" fill="#333">1.20</text>
<text transform="translate(391.1,294.0) rotate(-90) scale(0.82,1)" font-size="5.5" text-anchor="middle" fill="#333">1.70</text>
<text transform="translate(391.1,326.0) rotate(-90) scale(0.82,1)" font-size="5.5" text-anchor="middle" fill="#333">1.00</text>
<text transform="translate(391.1,381.0) rotate(-90) scale(0.82,1)" font-size="5.5" text-anchor="middle" fill="#333">3.60</text>
<text transform="translate(391.1,478.0) rotate(-90) scale(0.82,1)" font-size="5.5" text-anchor="middle" fill="#333">4.55</text>
<line x1="400.5" y1="107.2" x2="400.5" y2="538.2" stroke="#868686" stroke-width="1"/>
<line x1="397.0" y1="111.5" x2="404.2" y2="111.5" stroke="#777" stroke-width="0.8"/>
<line x1="397.8" y1="108.8" x2="402.6" y2="113.6" stroke="#111" stroke-width="1.1"/>
<line x1="397.0" y1="169.5" x2="404.2" y2="169.5" stroke="#777" stroke-width="0.8"/>
<line x1="397.8" y1="166.6" x2="402.6" y2="171.4" stroke="#111" stroke-width="1.1"/>
<line x1="397.0" y1="190.5" x2="404.2" y2="190.5" stroke="#777" stroke-width="0.8"/>
<line x1="397.8" y1="188.3" x2="402.6" y2="193.1" stroke="#111" stroke-width="1.1"/>
<line x1="397.0" y1="259.5" x2="404.2" y2="259.5" stroke="#777" stroke-width="0.8"/>
<line x1="397.8" y1="256.6" x2="402.6" y2="261.4" stroke="#111" stroke-width="1.1"/>
<line x1="397.0" y1="314.5" x2="404.2" y2="314.5" stroke="#777" stroke-width="0.8"/>
<line x1="397.8" y1="312.1" x2="402.6" y2="316.9" stroke="#111" stroke-width="1.1"/>
<line x1="397.0" y1="351.5" x2="404.2" y2="351.5" stroke="#777" stroke-width="0.8"/>
<line x1="397.8" y1="349.4" x2="402.6" y2="354.2" stroke="#111" stroke-width="1.1"/>
<line x1="397.0" y1="381.5" x2="404.2" y2="381.5" stroke="#777" stroke-width="0.8"/>
<line x1="397.8" y1="378.6" x2="402.6" y2="383.4" stroke="#111" stroke-width="1.1"/>
<line x1="397.0" y1="410.5" x2="404.2" y2="410.5" stroke="#777" stroke-width="0.8"/>
<line x1="397.8" y1="407.6" x2="402.6" y2="412.4" stroke="#111" stroke-width="1.1"/>
<line x1="397.0" y1="534.5" x2="404.2" y2="534.5" stroke="#777" stroke-width="0.8"/>
<line x1="397.8" y1="531.8" x2="402.6" y2="536.6" stroke="#111" stroke-width="1.1"/>
<text transform="translate(398.9,140.0) rotate(-90) scale(0.82,1)" font-size="5.5" text-anchor="middle" fill="#333">2.40</text>
<text transform="translate(398.9,180.0) rotate(-90) scale(0.82,1)" font-size="5.5" text-anchor="middle" fill="#333">90</text>
<text transform="translate(398.9,225.0) rotate(-90) scale(0.82,1)" font-size="5.5" text-anchor="middle" fill="#333">2.85</text>
<text transform="translate(398.9,287.0) rotate(-90) scale(0.82,1)" font-size="5.5" text-anchor="middle" fill="#333">2.10</text>
<text transform="translate(398.9,333.0) rotate(-90) scale(0.82,1)" font-size="5.5" text-anchor="middle" fill="#333">1.55</text>
<text transform="translate(398.9,366.5) rotate(-90) scale(0.82,1)" font-size="5.5" text-anchor="middle" fill="#333">1.20</text>
<text transform="translate(398.9,395.5) rotate(-90) scale(0.82,1)" font-size="5.5" text-anchor="middle" fill="#333">1.20</text>
<text transform="translate(398.9,472.0) rotate(-90) scale(0.82,1)" font-size="5.5" text-anchor="middle" fill="#333">5.15</text>
<line x1="918.5" y1="107.2" x2="918.5" y2="538.2" stroke="#868686" stroke-width="1"/>
<line x1="915.6" y1="111.5" x2="922.8" y2="111.5" stroke="#777" stroke-width="0.8"/>
<line x1="916.4" y1="108.8" x2="921.2" y2="113.6" stroke="#111" stroke-width="1.1"/>
<line x1="915.6" y1="169.5" x2="922.8" y2="169.5" stroke="#777" stroke-width="0.8"/>
<line x1="916.4" y1="166.6" x2="921.2" y2="171.4" stroke="#111" stroke-width="1.1"/>
<line x1="915.6" y1="190.5" x2="922.8" y2="190.5" stroke="#777" stroke-width="0.8"/>
<line x1="916.4" y1="188.3" x2="921.2" y2="193.1" stroke="#111" stroke-width="1.1"/>
<line x1="915.6" y1="259.5" x2="922.8" y2="259.5" stroke="#777" stroke-width="0.8"/>
<line x1="916.4" y1="256.6" x2="921.2" y2="261.4" stroke="#111" stroke-width="1.1"/>
<line x1="915.6" y1="314.5" x2="922.8" y2="314.5" stroke="#777" stroke-width="0.8"/>
<line x1="916.4" y1="312.1" x2="921.2" y2="316.9" stroke="#111" stroke-width="1.1"/>
<line x1="915.6" y1="351.5" x2="922.8" y2="351.5" stroke="#777" stroke-width="0.8"/>
<line x1="916.4" y1="349.4" x2="921.2" y2="354.2" stroke="#111" stroke-width="1.1"/>
<line x1="915.6" y1="381.5" x2="922.8" y2="381.5" stroke="#777" stroke-width="0.8"/>
<line x1="916.4" y1="378.6" x2="921.2" y2="383.4" stroke="#111" stroke-width="1.1"/>
<line x1="915.6" y1="410.5" x2="922.8" y2="410.5" stroke="#777" stroke-width="0.8"/>
<line x1="916.4" y1="407.6" x2="921.2" y2="412.4" stroke="#111" stroke-width="1.1"/>
<line x1="915.6" y1="534.5" x2="922.8" y2="534.5" stroke="#777" stroke-width="0.8"/>
<line x1="916.4" y1="531.8" x2="921.2" y2="536.6" stroke="#111" stroke-width="1.1"/>
<text transform="translate(917.5,140.0) rotate(-90) scale(0.82,1)" font-size="5.5" text-anchor="middle" fill="#333">2.40</text>
<text transform="translate(917.5,180.0) rotate(-90) scale(0.82,1)" font-size="5.5" text-anchor="middle" fill="#333">90</text>
<text transform="translate(917.5,225.0) rotate(-90) scale(0.82,1)" font-size="5.5" text-anchor="middle" fill="#333">2.85</text>
<text transform="translate(917.5,287.0) rotate(-90) scale(0.82,1)" font-size="5.5" text-anchor="middle" fill="#333">2.10</text>
<text transform="translate(917.5,333.0) rotate(-90) scale(0.82,1)" font-size="5.5" text-anchor="middle" fill="#333">1.55</text>
<text transform="translate(917.5,366.5) rotate(-90) scale(0.82,1)" font-size="5.5" text-anchor="middle" fill="#333">1.20</text>
<text transform="translate(917.5,395.5) rotate(-90) scale(0.82,1)" font-size="5.5" text-anchor="middle" fill="#333">1.20</text>
<text transform="translate(917.5,472.0) rotate(-90) scale(0.82,1)" font-size="5.5" text-anchor="middle" fill="#333">5.15</text>
<line x1="926.5" y1="107.2" x2="926.5" y2="538.2" stroke="#868686" stroke-width="1"/>
<line x1="923.4" y1="111.5" x2="930.6" y2="111.5" stroke="#777" stroke-width="0.8"/>
<line x1="924.2" y1="108.8" x2="929.0" y2="113.6" stroke="#111" stroke-width="1.1"/>
<line x1="923.4" y1="154.5" x2="930.6" y2="154.5" stroke="#777" stroke-width="0.8"/>
<line x1="924.2" y1="152.1" x2="929.0" y2="156.9" stroke="#111" stroke-width="1.1"/>
<line x1="923.4" y1="198.5" x2="930.6" y2="198.5" stroke="#777" stroke-width="0.8"/>
<line x1="924.2" y1="195.8" x2="929.0" y2="200.6" stroke="#111" stroke-width="1.1"/>
<line x1="923.4" y1="244.5" x2="930.6" y2="244.5" stroke="#777" stroke-width="0.8"/>
<line x1="924.2" y1="242.1" x2="929.0" y2="246.9" stroke="#111" stroke-width="1.1"/>
<line x1="923.4" y1="273.5" x2="930.6" y2="273.5" stroke="#777" stroke-width="0.8"/>
<line x1="924.2" y1="271.2" x2="929.0" y2="276.0" stroke="#111" stroke-width="1.1"/>
<line x1="923.4" y1="314.5" x2="930.6" y2="314.5" stroke="#777" stroke-width="0.8"/>
<line x1="924.2" y1="312.1" x2="929.0" y2="316.9" stroke="#111" stroke-width="1.1"/>
<line x1="923.4" y1="338.5" x2="930.6" y2="338.5" stroke="#777" stroke-width="0.8"/>
<line x1="924.2" y1="335.8" x2="929.0" y2="340.6" stroke="#111" stroke-width="1.1"/>
<line x1="923.4" y1="423.5" x2="930.6" y2="423.5" stroke="#777" stroke-width="0.8"/>
<line x1="924.2" y1="421.2" x2="929.0" y2="426.0" stroke="#111" stroke-width="1.1"/>
<line x1="923.4" y1="534.5" x2="930.6" y2="534.5" stroke="#777" stroke-width="0.8"/>
<line x1="924.2" y1="531.8" x2="929.0" y2="536.6" stroke="#111" stroke-width="1.1"/>
<text transform="translate(925.3,133.0) rotate(-90) scale(0.82,1)" font-size="5.5" text-anchor="middle" fill="#333">1.80</text>
<text transform="translate(925.3,176.5) rotate(-90) scale(0.82,1)" font-size="5.5" text-anchor="middle" fill="#333">1.80</text>
<text transform="translate(925.3,221.0) rotate(-90) scale(0.82,1)" font-size="5.5" text-anchor="middle" fill="#333">1.95</text>
<text transform="translate(925.3,259.0) rotate(-90) scale(0.82,1)" font-size="5.5" text-anchor="middle" fill="#333">1.20</text>
<text transform="translate(925.3,294.0) rotate(-90) scale(0.82,1)" font-size="5.5" text-anchor="middle" fill="#333">1.70</text>
<text transform="translate(925.3,326.0) rotate(-90) scale(0.82,1)" font-size="5.5" text-anchor="middle" fill="#333">1.00</text>
<text transform="translate(925.3,381.0) rotate(-90) scale(0.82,1)" font-size="5.5" text-anchor="middle" fill="#333">3.60</text>
<text transform="translate(925.3,478.0) rotate(-90) scale(0.82,1)" font-size="5.5" text-anchor="middle" fill="#333">4.55</text>
<line x1="934.5" y1="107.2" x2="934.5" y2="538.2" stroke="#868686" stroke-width="1"/>
<line x1="931.2" y1="111.5" x2="938.4" y2="111.5" stroke="#777" stroke-width="0.8"/>
<line x1="932.0" y1="108.8" x2="936.8" y2="113.6" stroke="#111" stroke-width="1.1"/>
<line x1="931.2" y1="123.5" x2="938.4" y2="123.5" stroke="#777" stroke-width="0.8"/>
<line x1="932.0" y1="120.9" x2="936.8" y2="125.7" stroke="#111" stroke-width="1.1"/>
<line x1="931.2" y1="228.5" x2="938.4" y2="228.5" stroke="#777" stroke-width="0.8"/>
<line x1="932.0" y1="225.8" x2="936.8" y2="230.6" stroke="#111" stroke-width="1.1"/>
<line x1="931.2" y1="230.5" x2="938.4" y2="230.5" stroke="#777" stroke-width="0.8"/>
<line x1="932.0" y1="228.1" x2="936.8" y2="232.9" stroke="#111" stroke-width="1.1"/>
<line x1="931.2" y1="314.5" x2="938.4" y2="314.5" stroke="#777" stroke-width="0.8"/>
<line x1="932.0" y1="312.1" x2="936.8" y2="316.9" stroke="#111" stroke-width="1.1"/>
<line x1="931.2" y1="326.5" x2="938.4" y2="326.5" stroke="#777" stroke-width="0.8"/>
<line x1="932.0" y1="324.0" x2="936.8" y2="328.8" stroke="#111" stroke-width="1.1"/>
<line x1="931.2" y1="435.5" x2="938.4" y2="435.5" stroke="#777" stroke-width="0.8"/>
<line x1="932.0" y1="432.6" x2="936.8" y2="437.4" stroke="#111" stroke-width="1.1"/>
<line x1="931.2" y1="442.5" x2="938.4" y2="442.5" stroke="#777" stroke-width="0.8"/>
<line x1="932.0" y1="440.0" x2="936.8" y2="444.8" stroke="#111" stroke-width="1.1"/>
<line x1="931.2" y1="521.5" x2="938.4" y2="521.5" stroke="#777" stroke-width="0.8"/>
<line x1="932.0" y1="519.4" x2="936.8" y2="524.2" stroke="#111" stroke-width="1.1"/>
<line x1="931.2" y1="534.5" x2="938.4" y2="534.5" stroke="#777" stroke-width="0.8"/>
<line x1="932.0" y1="531.8" x2="936.8" y2="536.6" stroke="#111" stroke-width="1.1"/>
<text transform="translate(933.1,117.0) rotate(-90) scale(0.82,1)" font-size="5.5" text-anchor="middle" fill="#333">50</text>
<text transform="translate(933.1,176.0) rotate(-90) scale(0.82,1)" font-size="5.5" text-anchor="middle" fill="#333">4.15</text>
<text transform="translate(933.1,226.0) rotate(-90) scale(0.82,1)" font-size="5.5" text-anchor="middle" fill="#333">18</text>
<text transform="translate(933.1,274.5) rotate(-90) scale(0.82,1)" font-size="5.5" text-anchor="middle" fill="#333">3.50</text>
<text transform="translate(933.1,320.5) rotate(-90) scale(0.82,1)" font-size="5.5" text-anchor="middle" fill="#333">50</text>
<text transform="translate(933.1,380.0) rotate(-90) scale(0.82,1)" font-size="5.5" text-anchor="middle" fill="#333">4.50</text>
<text transform="translate(933.1,438.7) rotate(-90) scale(0.82,1)" font-size="5.5" text-anchor="middle" fill="#333">30</text>
<text transform="translate(933.1,482.0) rotate(-90) scale(0.82,1)" font-size="5.5" text-anchor="middle" fill="#333">3.30</text>
<text transform="translate(933.1,528.0) rotate(-90) scale(0.82,1)" font-size="5.5" text-anchor="middle" fill="#333">50</text>
<line x1="942.5" y1="107.2" x2="942.5" y2="538.2" stroke="#868686" stroke-width="1"/>
<line x1="939.0" y1="111.5" x2="946.2" y2="111.5" stroke="#777" stroke-width="0.8"/>
<line x1="939.8" y1="108.8" x2="944.6" y2="113.6" stroke="#111" stroke-width="1.1"/>
<line x1="939.0" y1="123.5" x2="946.2" y2="123.5" stroke="#777" stroke-width="0.8"/>
<line x1="939.8" y1="120.9" x2="944.6" y2="125.7" stroke="#111" stroke-width="1.1"/>
<line x1="939.0" y1="314.5" x2="946.2" y2="314.5" stroke="#777" stroke-width="0.8"/>
<line x1="939.8" y1="312.1" x2="944.6" y2="316.9" stroke="#111" stroke-width="1.1"/>
<line x1="939.0" y1="326.5" x2="946.2" y2="326.5" stroke="#777" stroke-width="0.8"/>
<line x1="939.8" y1="324.0" x2="944.6" y2="328.8" stroke="#111" stroke-width="1.1"/>
<line x1="939.0" y1="435.5" x2="946.2" y2="435.5" stroke="#777" stroke-width="0.8"/>
<line x1="939.8" y1="432.6" x2="944.6" y2="437.4" stroke="#111" stroke-width="1.1"/>
<line x1="939.0" y1="442.5" x2="946.2" y2="442.5" stroke="#777" stroke-width="0.8"/>
<line x1="939.8" y1="440.0" x2="944.6" y2="444.8" stroke="#111" stroke-width="1.1"/>
<line x1="939.0" y1="521.5" x2="946.2" y2="521.5" stroke="#777" stroke-width="0.8"/>
<line x1="939.8" y1="519.4" x2="944.6" y2="524.2" stroke="#111" stroke-width="1.1"/>
<line x1="939.0" y1="534.5" x2="946.2" y2="534.5" stroke="#777" stroke-width="0.8"/>
<line x1="939.8" y1="531.8" x2="944.6" y2="536.6" stroke="#111" stroke-width="1.1"/>
<text transform="translate(940.9,117.0) rotate(-90) scale(0.82,1)" font-size="5.5" text-anchor="middle" fill="#333">50</text>
<text transform="translate(940.9,218.0) rotate(-90) scale(0.82,1)" font-size="5.5" text-anchor="middle" fill="#333">7.95</text>
<text transform="translate(940.9,320.5) rotate(-90) scale(0.82,1)" font-size="5.5" text-anchor="middle" fill="#333">50</text>
<text transform="translate(940.9,380.0) rotate(-90) scale(0.82,1)" font-size="5.5" text-anchor="middle" fill="#333">4.50</text>
<text transform="translate(940.9,438.7) rotate(-90) scale(0.82,1)" font-size="5.5" text-anchor="middle" fill="#333">30</text>
<text transform="translate(940.9,482.0) rotate(-90) scale(0.82,1)" font-size="5.5" text-anchor="middle" fill="#333">3.30</text>
<text transform="translate(940.9,528.0) rotate(-90) scale(0.82,1)" font-size="5.5" text-anchor="middle" fill="#333">50</text>
<line x1="949.5" y1="107.2" x2="949.5" y2="538.2" stroke="#868686" stroke-width="1"/>
<line x1="946.5" y1="111.5" x2="953.7" y2="111.5" stroke="#777" stroke-width="0.8"/>
<line x1="947.3" y1="108.8" x2="952.1" y2="113.6" stroke="#111" stroke-width="1.1"/>
<line x1="946.5" y1="314.5" x2="953.7" y2="314.5" stroke="#777" stroke-width="0.8"/>
<line x1="947.3" y1="312.1" x2="952.1" y2="316.9" stroke="#111" stroke-width="1.1"/>
<line x1="946.5" y1="534.5" x2="953.7" y2="534.5" stroke="#777" stroke-width="0.8"/>
<line x1="947.3" y1="531.8" x2="952.1" y2="536.6" stroke="#111" stroke-width="1.1"/>
<text transform="translate(948.4,212.7) rotate(-90) scale(0.82,1)" font-size="5.5" text-anchor="middle" fill="#333">8.45</text>
<text transform="translate(948.4,425.0) rotate(-90) scale(0.82,1)" font-size="5.5" text-anchor="middle" fill="#333">9.10</text>
<line x1="957.5" y1="107.2" x2="957.5" y2="538.2" stroke="#868686" stroke-width="1"/>
<line x1="954.2" y1="111.5" x2="961.4" y2="111.5" stroke="#777" stroke-width="0.8"/>
<line x1="955.0" y1="108.8" x2="959.8" y2="113.6" stroke="#111" stroke-width="1.1"/>
<line x1="954.2" y1="534.5" x2="961.4" y2="534.5" stroke="#777" stroke-width="0.8"/>
<line x1="955.0" y1="531.8" x2="959.8" y2="536.6" stroke="#111" stroke-width="1.1"/>
<text transform="translate(956.1,322.0) rotate(-90) scale(0.82,1)" font-size="5.5" text-anchor="middle" fill="#333">17.55</text>
<line x1="357" y1="111.2" x2="404" y2="111.2" stroke="#868686" stroke-width="1"/>
<line x1="357" y1="534.2" x2="404" y2="534.2" stroke="#868686" stroke-width="1"/>
<line x1="364" y1="314.5" x2="404" y2="314.5" stroke="#868686" stroke-width="1"/>
<line x1="914.5" y1="111.2" x2="961" y2="111.2" stroke="#868686" stroke-width="1"/>
<line x1="914.5" y1="534.2" x2="961" y2="534.2" stroke="#868686" stroke-width="1"/>
<line x1="921.5" y1="314.5" x2="961" y2="314.5" stroke="#868686" stroke-width="1"/>
<rect x="508.5" y="123.5" width="24.0" height="48.0" fill="none" stroke="#555" stroke-width="0.7"/>
<rect x="784.5" y="123.5" width="24.0" height="48.0" fill="none" stroke="#555" stroke-width="0.7"/>
<line x1="508.7" y1="132.7" x2="532.5" y2="132.7" stroke="#666" stroke-width="0.6"/>
<line x1="808.3" y1="132.7" x2="784.5" y2="132.7" stroke="#666" stroke-width="0.6"/>
<rect x="498.5" y="123.5" width="10.0" height="10.0" fill="none" stroke="#555" stroke-width="0.7"/>
<rect x="808.5" y="123.5" width="10.0" height="10.0" fill="none" stroke="#555" stroke-width="0.7"/>
<line x1="498.5" y1="123.5" x2="508.2" y2="133.0" stroke="#777" stroke-width="0.5"/>
<line x1="818.5" y1="123.5" x2="808.8" y2="133.0" stroke="#777" stroke-width="0.5"/>
<rect x="549.5" y="123.5" width="13.0" height="71.0" fill="none" stroke="#555" stroke-width="0.7"/>
<rect x="754.5" y="123.5" width="14.0" height="71.0" fill="none" stroke="#555" stroke-width="0.7"/>
<rect x="491.5" y="199.5" width="17.0" height="29.0" fill="none" stroke="#555" stroke-width="0.7"/>
<rect x="808.5" y="199.5" width="17.0" height="29.0" fill="none" stroke="#555" stroke-width="0.7"/>
<rect x="511.5" y="206.5" width="12.0" height="13.0" fill="none" stroke="#555" stroke-width="0.7"/>
<rect x="794.5" y="206.5" width="12.0" height="13.0" fill="none" stroke="#555" stroke-width="0.7"/>
<line x1="491.3" y1="137.0" x2="564.2" y2="137.0" stroke="#888" stroke-width="0.7"/>
<line x1="825.7" y1="137.0" x2="752.8" y2="137.0" stroke="#888" stroke-width="0.7"/>
<line x1="542.3" y1="123.5" x2="542.3" y2="228.0" stroke="#888" stroke-width="0.7"/>
<line x1="774.7" y1="123.5" x2="774.7" y2="228.0" stroke="#888" stroke-width="0.7"/>
<line x1="512.6" y1="171.0" x2="512.6" y2="228.0" stroke="#888" stroke-width="0.7"/>
<line x1="804.4" y1="171.0" x2="804.4" y2="228.0" stroke="#888" stroke-width="0.7"/>
<rect x="571.5" y="123.5" width="29.0" height="16.0" fill="none" stroke="#555" stroke-width="0.7"/>
<rect x="716.5" y="123.5" width="30.0" height="16.0" fill="none" stroke="#555" stroke-width="0.7"/>
<rect x="578.5" y="142.5" width="15.0" height="13.0" fill="none" stroke="#555" stroke-width="0.7"/>
<rect x="724.5" y="142.5" width="15.0" height="13.0" fill="none" stroke="#555" stroke-width="0.7"/>
<line x1="571.0" y1="138.4" x2="650.8" y2="138.4" stroke="#888" stroke-width="0.7"/>
<line x1="746.0" y1="138.4" x2="666.2" y2="138.4" stroke="#888" stroke-width="0.7"/>
<rect x="636.5" y="123.5" width="14.0" height="43.0" fill="none" stroke="#555" stroke-width="0.7"/>
<rect x="666.5" y="123.5" width="14.0" height="43.0" fill="none" stroke="#555" stroke-width="0.7"/>
<rect x="636.5" y="166.5" width="14.0" height="9.0" fill="none" stroke="#555" stroke-width="0.7"/>
<rect x="666.5" y="166.5" width="14.0" height="9.0" fill="none" stroke="#555" stroke-width="0.7"/>
<line x1="636.2" y1="175.3" x2="636.2" y2="200.3" stroke="#888" stroke-width="0.7"/>
<line x1="680.8" y1="175.3" x2="680.8" y2="200.3" stroke="#888" stroke-width="0.7"/>
<rect x="602.5" y="176.5" width="38.0" height="24.0" fill="none" stroke="#555" stroke-width="0.7"/>
<rect x="676.5" y="176.5" width="38.0" height="24.0" fill="none" stroke="#555" stroke-width="0.7"/>
<line x1="571.0" y1="186.4" x2="650.8" y2="186.4" stroke="#888" stroke-width="0.7"/>
<line x1="746.0" y1="186.4" x2="666.2" y2="186.4" stroke="#888" stroke-width="0.7"/>
<rect x="572.5" y="186.5" width="2.0" height="16.0" fill="#fff" stroke="#444" stroke-width="0.6"/>
<rect x="742.5" y="186.5" width="3.0" height="16.0" fill="#fff" stroke="#444" stroke-width="0.6"/>
<path d="M572.5 181.5 A20.5 20.5 0 0 1 593.0 202.0" fill="none" stroke="#444" stroke-width="0.7"/>
<path d="M744.5 181.5 A20.5 20.5 0 0 0 724.0 202.0" fill="none" stroke="#444" stroke-width="0.7"/>
<line x1="571.0" y1="202.3" x2="597.0" y2="202.3" stroke="#666" stroke-width="0.6" stroke-dasharray="1.5,1"/>
<line x1="746.0" y1="202.3" x2="720.0" y2="202.3" stroke="#666" stroke-width="0.6" stroke-dasharray="1.5,1"/>
<path d="M564.2 205.7 A21 21 0 0 0 543.2 226.7" fill="none" stroke="#444" stroke-width="0.7"/>
<path d="M752.8 205.7 A21 21 0 0 1 773.8 226.7" fill="none" stroke="#444" stroke-width="0.7"/>
<line x1="564.2" y1="205.7" x2="564.2" y2="226.0" stroke="#666" stroke-width="0.6" stroke-dasharray="1.5,1"/>
<line x1="752.8" y1="205.7" x2="752.8" y2="226.0" stroke="#666" stroke-width="0.6" stroke-dasharray="1.5,1"/>
<line x1="571.0" y1="205.7" x2="571.0" y2="226.0" stroke="#666" stroke-width="0.6" stroke-dasharray="1.5,1"/>
<line x1="746.0" y1="205.7" x2="746.0" y2="226.0" stroke="#666" stroke-width="0.6" stroke-dasharray="1.5,1"/>
<path d="M564.2 267.5 A21 21 0 0 1 543.2 246.5" fill="none" stroke="#444" stroke-width="0.7"/>
<path d="M752.8 267.5 A21 21 0 0 0 773.8 246.5" fill="none" stroke="#444" stroke-width="0.7"/>
<line x1="564.2" y1="246.5" x2="564.2" y2="268.0" stroke="#666" stroke-width="0.6" stroke-dasharray="1.5,1"/>
<line x1="752.8" y1="246.5" x2="752.8" y2="268.0" stroke="#666" stroke-width="0.6" stroke-dasharray="1.5,1"/>
<line x1="571.0" y1="246.5" x2="571.0" y2="268.0" stroke="#666" stroke-width="0.6" stroke-dasharray="1.5,1"/>
<line x1="746.0" y1="246.5" x2="746.0" y2="268.0" stroke="#666" stroke-width="0.6" stroke-dasharray="1.5,1"/>
<rect x="506.5" y="271.5" width="43.0" height="37.0" fill="none" stroke="#555" stroke-width="0.7"/>
<rect x="767.5" y="271.5" width="44.0" height="37.0" fill="none" stroke="#555" stroke-width="0.7"/>
<rect x="491.5" y="308.5" width="73.0" height="11.0" fill="none" stroke="#555" stroke-width="0.7"/>
<rect x="752.5" y="308.5" width="73.0" height="11.0" fill="none" stroke="#555" stroke-width="0.7"/>
<line x1="495.0" y1="308.7" x2="495.0" y2="319.4" stroke="#888" stroke-width="0.7"/>
<line x1="822.0" y1="308.7" x2="822.0" y2="319.4" stroke="#888" stroke-width="0.7"/>
<line x1="505.3" y1="308.7" x2="505.3" y2="319.4" stroke="#888" stroke-width="0.7"/>
<line x1="811.7" y1="308.7" x2="811.7" y2="319.4" stroke="#888" stroke-width="0.7"/>
<line x1="528.0" y1="308.7" x2="528.0" y2="319.4" stroke="#888" stroke-width="0.7"/>
<line x1="789.0" y1="308.7" x2="789.0" y2="319.4" stroke="#888" stroke-width="0.7"/>
<line x1="549.4" y1="308.7" x2="549.4" y2="319.4" stroke="#888" stroke-width="0.7"/>
<line x1="767.6" y1="308.7" x2="767.6" y2="319.4" stroke="#888" stroke-width="0.7"/>
<line x1="561.0" y1="308.7" x2="561.0" y2="319.4" stroke="#888" stroke-width="0.7"/>
<line x1="756.0" y1="308.7" x2="756.0" y2="319.4" stroke="#888" stroke-width="0.7"/>
<line x1="491.3" y1="308.7" x2="600.0" y2="308.7" stroke="#888" stroke-width="0.7"/>
<line x1="825.7" y1="308.7" x2="717.0" y2="308.7" stroke="#888" stroke-width="0.7"/>
<line x1="491.3" y1="245.7" x2="564.2" y2="245.7" fill="none" stroke="#555" stroke-width="0.7"/>
<line x1="825.7" y1="245.7" x2="752.8" y2="245.7" fill="none" stroke="#555" stroke-width="0.7"/>
<line x1="532.0" y1="231.0" x2="532.0" y2="245.7" stroke="#222" stroke-width="1"/>
<line x1="785.0" y1="231.0" x2="785.0" y2="245.7" stroke="#222" stroke-width="1"/>
<line x1="512.4" y1="228.0" x2="512.4" y2="330.0" stroke="#888" stroke-width="0.7"/>
<line x1="804.6" y1="228.0" x2="804.6" y2="330.0" stroke="#888" stroke-width="0.7"/>
<line x1="542.3" y1="228.0" x2="542.3" y2="330.0" stroke="#888" stroke-width="0.7"/>
<line x1="774.7" y1="228.0" x2="774.7" y2="330.0" stroke="#888" stroke-width="0.7"/>
<rect x="605.5" y="205.5" width="40.0" height="18.0" fill="none" stroke="#555" stroke-width="0.7"/>
<rect x="672.5" y="205.5" width="40.0" height="18.0" fill="none" stroke="#555" stroke-width="0.7"/>
<path d="M612 207 H640 V221 H612 A7 7 0 0 1 612 207 Z" fill="none" stroke="#555" stroke-width="0.7"/>
<path d="M705.0 207 H677.0 V221 H705.0 A7 7 0 0 0 705.0 207 Z" fill="none" stroke="#555" stroke-width="0.7"/>
<ellipse cx="644.6" cy="234.1" rx="4.1" ry="6.1" fill="none" stroke="#555" stroke-width="0.7"/>
<ellipse cx="672.4" cy="234.1" rx="4.1" ry="6.1" fill="none" stroke="#555" stroke-width="0.7"/>
<rect x="629.5" y="247.5" width="21.0" height="20.0" fill="none" stroke="#555" stroke-width="0.7"/>
<rect x="666.5" y="247.5" width="22.0" height="20.0" fill="none" stroke="#555" stroke-width="0.7"/>
<line x1="630.0" y1="248.0" x2="649.0" y2="266.0" stroke="#666" stroke-width="0.6"/>
<line x1="687.0" y1="248.0" x2="668.0" y2="266.0" stroke="#666" stroke-width="0.6"/>
<rect x="600.8" y="252.5" width="3.7" height="11" fill="none" stroke="#555" stroke-width="0.7"/>
<ellipse cx="609.5" cy="258" rx="6" ry="4.6" fill="none" stroke="#555" stroke-width="0.7"/>
<rect x="712.5" y="252.5" width="3.7" height="11" fill="none" stroke="#555" stroke-width="0.7"/>
<ellipse cx="707.5" cy="258" rx="6" ry="4.6" fill="none" stroke="#555" stroke-width="0.7"/>
<path d="M598.0 226.0 A21 21 0 0 1 619.0 247.0" fill="none" stroke="#444" stroke-width="0.7"/>
<path d="M719.0 226.0 A21 21 0 0 0 698.0 247.0" fill="none" stroke="#444" stroke-width="0.7"/>
<path d="M600.6 272.6 A18 18 0 0 1 618.6 290.6" fill="none" stroke="#444" stroke-width="0.7"/>
<path d="M716.4 272.6 A18 18 0 0 0 698.4 290.6" fill="none" stroke="#444" stroke-width="0.7"/>
<path d="M622.6 315.0 A22 22 0 0 1 600.6 337.0" fill="none" stroke="#444" stroke-width="0.7"/>
<path d="M694.4 315.0 A22 22 0 0 0 716.4 337.0" fill="none" stroke="#444" stroke-width="0.7"/>
<path d="M618.6 356.1 A18 18 0 0 1 600.6 374.1" fill="none" stroke="#444" stroke-width="0.7"/>
<path d="M698.4 356.1 A18 18 0 0 0 716.4 374.1" fill="none" stroke="#444" stroke-width="0.7"/>
<path d="M619.3 290 H629.6 V297 H619.3 Z" fill="none" stroke="#555" stroke-width="0.7"/>
<path d="M697.7 290 H687.4 V297 H697.7 Z" fill="none" stroke="#555" stroke-width="0.7"/>
<rect x="646.5" y="276" width="4" height="10" fill="none" stroke="#555" stroke-width="0.7"/>
<ellipse cx="640.5" cy="281" rx="6" ry="4.3" fill="none" stroke="#555" stroke-width="0.7"/>
<rect x="666.5" y="276" width="4" height="10" fill="none" stroke="#555" stroke-width="0.7"/>
<ellipse cx="676.5" cy="281" rx="6" ry="4.3" fill="none" stroke="#555" stroke-width="0.7"/>
<circle cx="623.9" cy="305.8" r="5" fill="none" stroke="#555" stroke-width="0.7"/>
<circle cx="635.4" cy="306.5" r="7" fill="none" stroke="#555" stroke-width="0.7"/>
<text transform="translate(607.0,349.5) scale(0.85,1)" font-size="5.6" text-anchor="middle" fill="#2a2a2a">M</text>
<text transform="translate(621.7,349.5) scale(0.85,1)" font-size="5.6" text-anchor="middle" fill="#2a2a2a">SZ</text>
<circle cx="693.1" cy="305.8" r="5" fill="none" stroke="#555" stroke-width="0.7"/>
<circle cx="681.6" cy="306.5" r="7" fill="none" stroke="#555" stroke-width="0.7"/>
<text transform="translate(710.0,349.5) scale(0.85,1)" font-size="5.6" text-anchor="middle" fill="#2a2a2a">M</text>
<text transform="translate(695.3,349.5) scale(0.85,1)" font-size="5.6" text-anchor="middle" fill="#2a2a2a">SZ</text>
<rect x="600.5" y="302.5" width="14.0" height="11.0" fill="none" stroke="#555" stroke-width="0.7"/>
<rect x="703.5" y="302.5" width="13.0" height="11.0" fill="none" stroke="#555" stroke-width="0.7"/>
<line x1="600.6" y1="338.2" x2="650.8" y2="338.2" stroke="#888" stroke-width="0.7"/>
<line x1="716.4" y1="338.2" x2="666.2" y2="338.2" stroke="#888" stroke-width="0.7"/>
<line x1="614.5" y1="338.2" x2="614.5" y2="353.3" fill="none" stroke="#555" stroke-width="0.7"/>
<line x1="702.5" y1="338.2" x2="702.5" y2="353.3" fill="none" stroke="#555" stroke-width="0.7"/>
<line x1="628.9" y1="338.2" x2="628.9" y2="353.3" fill="none" stroke="#555" stroke-width="0.7"/>
<line x1="688.1" y1="338.2" x2="688.1" y2="353.3" fill="none" stroke="#555" stroke-width="0.7"/>
<line x1="641.0" y1="302.0" x2="641.0" y2="353.3" stroke="#888" stroke-width="0.7"/>
<line x1="676.0" y1="302.0" x2="676.0" y2="353.3" stroke="#888" stroke-width="0.7"/>
<line x1="600.6" y1="315.2" x2="620.0" y2="315.2" stroke="#888" stroke-width="0.7"/>
<line x1="716.4" y1="315.2" x2="697.0" y2="315.2" stroke="#888" stroke-width="0.7"/>
<line x1="600.6" y1="365.6" x2="650.8" y2="365.6" stroke="#888" stroke-width="0.7"/>
<line x1="716.4" y1="365.6" x2="666.2" y2="365.6" stroke="#888" stroke-width="0.7"/>
<line x1="600.6" y1="377.0" x2="650.8" y2="377.0" stroke="#888" stroke-width="0.7"/>
<line x1="716.4" y1="377.0" x2="666.2" y2="377.0" stroke="#888" stroke-width="0.7"/>
<line x1="641.0" y1="356.0" x2="641.0" y2="384.0" stroke="#888" stroke-width="0.7"/>
<line x1="676.0" y1="356.0" x2="676.0" y2="384.0" stroke="#888" stroke-width="0.7"/>
<rect x="457.5" y="326.5" width="55.0" height="11.0" fill="none" stroke="#555" stroke-width="0.7"/>
<rect x="804.5" y="326.5" width="55.0" height="11.0" fill="none" stroke="#555" stroke-width="0.7"/>
<line x1="436.4" y1="337.3" x2="566.0" y2="337.3" stroke="#888" stroke-width="0.7"/>
<line x1="880.6" y1="337.3" x2="751.0" y2="337.3" stroke="#888" stroke-width="0.7"/>
<line x1="476.0" y1="331.0" x2="506.0" y2="331.0" stroke="#222" stroke-width="1.2"/>
<line x1="841.0" y1="331.0" x2="811.0" y2="331.0" stroke="#222" stroke-width="1.2"/>
<path d="M496.0 331.0 A5 5 0 0 1 486.0 331.0" fill="none" stroke="#444" stroke-width="0.7"/>
<path d="M821.0 331.0 A5 5 0 0 0 831.0 331.0" fill="none" stroke="#444" stroke-width="0.7"/>
<path d="M447.8 359.6 H470 V391.8 H512.4 V413.3 H447.8 Z" fill="none" stroke="#555" stroke-width="0.7"/>
<path d="M869.2 359.6 H847.0 V391.8 H804.6 V413.3 H869.2 Z" fill="none" stroke="#555" stroke-width="0.7"/>
<line x1="453.3" y1="359.6" x2="453.3" y2="413.3" fill="none" stroke="#555" stroke-width="0.7"/>
<line x1="863.7" y1="359.6" x2="863.7" y2="413.3" fill="none" stroke="#555" stroke-width="0.7"/>
<line x1="453.3" y1="407.0" x2="512.4" y2="407.0" fill="none" stroke="#555" stroke-width="0.7"/>
<line x1="863.7" y1="407.0" x2="804.6" y2="407.0" fill="none" stroke="#555" stroke-width="0.7"/>
<line x1="470.0" y1="391.8" x2="470.0" y2="413.3" fill="none" stroke="#555" stroke-width="0.7"/>
<line x1="847.0" y1="391.8" x2="847.0" y2="413.3" fill="none" stroke="#555" stroke-width="0.7"/>
<line x1="491.5" y1="391.8" x2="491.5" y2="413.3" fill="none" stroke="#555" stroke-width="0.7"/>
<line x1="825.5" y1="391.8" x2="825.5" y2="413.3" fill="none" stroke="#555" stroke-width="0.7"/>
<line x1="447.8" y1="369.6" x2="470.0" y2="369.6" fill="none" stroke="#555" stroke-width="0.7"/>
<line x1="869.2" y1="369.6" x2="847.0" y2="369.6" fill="none" stroke="#555" stroke-width="0.7"/>
<rect x="477.5" y="369.5" width="30.0" height="16.0" fill="none" stroke="#555" stroke-width="0.7"/>
<rect x="810.5" y="369.5" width="30.0" height="16.0" fill="none" stroke="#555" stroke-width="0.7"/>
<rect x="513.5" y="367.5" width="22.0" height="20.0" fill="none" stroke="#555" stroke-width="0.7"/>
<rect x="782.5" y="367.5" width="21.0" height="20.0" fill="none" stroke="#555" stroke-width="0.7"/>
<rect x="516.5" y="369.5" width="16.0" height="15.0" fill="none" stroke="#555" stroke-width="0.7"/>
<rect x="785.5" y="369.5" width="16.0" height="15.0" fill="none" stroke="#555" stroke-width="0.7"/>
<line x1="513.3" y1="326.0" x2="513.3" y2="446.0" stroke="#888" stroke-width="0.7"/>
<line x1="803.7" y1="326.0" x2="803.7" y2="446.0" stroke="#888" stroke-width="0.7"/>
<line x1="545.0" y1="326.0" x2="545.0" y2="446.0" stroke="#888" stroke-width="0.7"/>
<line x1="772.0" y1="326.0" x2="772.0" y2="446.0" stroke="#888" stroke-width="0.7"/>
<line x1="436.4" y1="400.5" x2="566.0" y2="400.5" stroke="#888" stroke-width="0.7"/>
<line x1="880.6" y1="400.5" x2="751.0" y2="400.5" stroke="#888" stroke-width="0.7"/>
<line x1="436.4" y1="419.0" x2="566.0" y2="419.0" stroke="#888" stroke-width="0.7"/>
<line x1="880.6" y1="419.0" x2="751.0" y2="419.0" stroke="#888" stroke-width="0.7"/>
<line x1="436.4" y1="435.5" x2="518.3" y2="435.5" stroke="#444" stroke-width="0.6" stroke-dasharray="2,1.2"/>
<line x1="880.6" y1="435.5" x2="798.7" y2="435.5" stroke="#444" stroke-width="0.6" stroke-dasharray="2,1.2"/>
<line x1="436.4" y1="442.7" x2="518.3" y2="442.7" stroke="#444" stroke-width="0.6" stroke-dasharray="2,1.2"/>
<line x1="880.6" y1="442.7" x2="798.7" y2="442.7" stroke="#444" stroke-width="0.6" stroke-dasharray="2,1.2"/>
<rect x="457.5" y="442.5" width="23.0" height="43.0" fill="none" stroke="#555" stroke-width="0.7"/>
<rect x="837.5" y="442.5" width="22.0" height="43.0" fill="none" stroke="#555" stroke-width="0.7"/>
<rect x="446.5" y="444.5" width="11.0" height="10.0" fill="none" stroke="#555" stroke-width="0.7"/>
<rect x="859.5" y="444.5" width="12.0" height="10.0" fill="none" stroke="#555" stroke-width="0.7"/>
<rect x="480.5" y="444.5" width="11.0" height="10.0" fill="none" stroke="#555" stroke-width="0.7"/>
<rect x="825.5" y="444.5" width="12.0" height="10.0" fill="none" stroke="#555" stroke-width="0.7"/>
<rect x="446.5" y="459.5" width="11.0" height="10.0" fill="none" stroke="#555" stroke-width="0.7"/>
<rect x="859.5" y="459.5" width="12.0" height="10.0" fill="none" stroke="#555" stroke-width="0.7"/>
<rect x="480.5" y="459.5" width="11.0" height="10.0" fill="none" stroke="#555" stroke-width="0.7"/>
<rect x="825.5" y="459.5" width="12.0" height="10.0" fill="none" stroke="#555" stroke-width="0.7"/>
<rect x="446.5" y="473.5" width="11.0" height="10.0" fill="none" stroke="#555" stroke-width="0.7"/>
<rect x="859.5" y="473.5" width="12.0" height="10.0" fill="none" stroke="#555" stroke-width="0.7"/>
<rect x="480.5" y="473.5" width="11.0" height="10.0" fill="none" stroke="#555" stroke-width="0.7"/>
<rect x="825.5" y="473.5" width="12.0" height="10.0" fill="none" stroke="#555" stroke-width="0.7"/>
<rect x="503.5" y="435.5" width="13.0" height="72.0" fill="none" stroke="#555" stroke-width="0.7"/>
<rect x="800.5" y="435.5" width="13.0" height="72.0" fill="none" stroke="#555" stroke-width="0.7"/>
<rect x="505.5" y="459.5" width="10.0" height="10.0" fill="#444" stroke="#333" stroke-width="0.6"/>
<rect x="802.5" y="459.5" width="10.0" height="10.0" fill="#444" stroke="#333" stroke-width="0.6"/>
<rect x="505.5" y="471.5" width="10.0" height="9.0" fill="none" stroke="#555" stroke-width="0.7"/>
<rect x="802.5" y="471.5" width="10.0" height="9.0" fill="none" stroke="#555" stroke-width="0.7"/>
<rect x="505.5" y="492.5" width="10.0" height="12.0" fill="none" stroke="#555" stroke-width="0.7"/>
<rect x="802.5" y="492.5" width="10.0" height="12.0" fill="none" stroke="#555" stroke-width="0.7"/>
<path d="M505.8 495 a2 2 0 1 0 4 0 a2 2 0 1 0 -4 0" fill="none" stroke="#555" stroke-width="0.5"/>
<path d="M807.2 495 a2 2 0 1 0 4 0 a2 2 0 1 0 -4 0" fill="none" stroke="#555" stroke-width="0.5"/>
<path d="M510.5 495 a2 2 0 1 0 4 0 a2 2 0 1 0 -4 0" fill="none" stroke="#555" stroke-width="0.5"/>
<path d="M802.5 495 a2 2 0 1 0 4 0 a2 2 0 1 0 -4 0" fill="none" stroke="#555" stroke-width="0.5"/>
<path d="M505.8 501 a2 2 0 1 0 4 0 a2 2 0 1 0 -4 0" fill="none" stroke="#555" stroke-width="0.5"/>
<path d="M807.2 501 a2 2 0 1 0 4 0 a2 2 0 1 0 -4 0" fill="none" stroke="#555" stroke-width="0.5"/>
<path d="M510.5 501 a2 2 0 1 0 4 0 a2 2 0 1 0 -4 0" fill="none" stroke="#555" stroke-width="0.5"/>
<path d="M802.5 501 a2 2 0 1 0 4 0 a2 2 0 1 0 -4 0" fill="none" stroke="#555" stroke-width="0.5"/>
<line x1="436.4" y1="507.8" x2="503.7" y2="507.8" stroke="#888" stroke-width="0.7"/>
<line x1="880.6" y1="507.8" x2="813.3" y2="507.8" stroke="#888" stroke-width="0.7"/>
<line x1="436.4" y1="455.2" x2="566.0" y2="455.2" stroke="#888" stroke-width="0.7"/>
<line x1="880.6" y1="455.2" x2="751.0" y2="455.2" stroke="#888" stroke-width="0.7"/>
<line x1="477.8" y1="419.0" x2="477.8" y2="445.0" stroke="#888" stroke-width="0.7"/>
<line x1="839.2" y1="419.0" x2="839.2" y2="445.0" stroke="#888" stroke-width="0.7"/>
<line x1="460.5" y1="513.0" x2="460.5" y2="553.0" stroke="#888" stroke-width="0.7"/>
<line x1="856.5" y1="513.0" x2="856.5" y2="553.0" stroke="#888" stroke-width="0.7"/>
<line x1="493.6" y1="513.0" x2="493.6" y2="553.0" stroke="#888" stroke-width="0.7"/>
<line x1="823.4" y1="513.0" x2="823.4" y2="553.0" stroke="#888" stroke-width="0.7"/>
<line x1="521.0" y1="448.5" x2="564.0" y2="448.5" stroke="#888" stroke-width="0.7"/>
<line x1="796.0" y1="448.5" x2="753.0" y2="448.5" stroke="#888" stroke-width="0.7"/>
<line x1="545.5" y1="442.4" x2="545.5" y2="497.7" stroke="#888" stroke-width="0.7"/>
<line x1="771.5" y1="442.4" x2="771.5" y2="497.7" stroke="#888" stroke-width="0.7"/>
<path d="M562.0 485.0 A20 20 0 0 0 546.0 493.0" fill="none" stroke="#444" stroke-width="0.7"/>
<path d="M755.0 485.0 A20 20 0 0 1 771.0 493.0" fill="none" stroke="#444" stroke-width="0.7"/>
<rect x="561.5" y="485.5" width="2.0" height="20.0" fill="#fff" stroke="#444" stroke-width="0.6"/>
<rect x="753.5" y="485.5" width="3.0" height="20.0" fill="#fff" stroke="#444" stroke-width="0.6"/>
<path d="M564.2 460.6 A20 20 0 0 0 544.2 480.6" fill="none" stroke="#444" stroke-width="0.7"/>
<path d="M752.8 460.6 A20 20 0 0 1 772.8 480.6" fill="none" stroke="#444" stroke-width="0.7"/>
<line x1="539.5" y1="509.5" x2="564.2" y2="509.5" stroke="#888" stroke-width="0.7"/>
<line x1="777.5" y1="509.5" x2="752.8" y2="509.5" stroke="#888" stroke-width="0.7"/>
<rect x="576.5" y="460.5" width="67.0" height="67.0" fill="none" stroke="#444" stroke-width="0.6" stroke-dasharray="2,1.3"/>
<rect x="673.5" y="460.5" width="67.0" height="67.0" fill="none" stroke="#444" stroke-width="0.6" stroke-dasharray="2,1.3"/>
<line x1="576.7" y1="460.0" x2="643.3" y2="527.0" fill="none" stroke="#444" stroke-width="0.6" stroke-dasharray="2,1.3"/>
<line x1="740.3" y1="460.0" x2="673.7" y2="527.0" fill="none" stroke="#444" stroke-width="0.6" stroke-dasharray="2,1.3"/>
<line x1="643.3" y1="460.0" x2="576.7" y2="527.0" fill="none" stroke="#444" stroke-width="0.6" stroke-dasharray="2,1.3"/>
<line x1="673.7" y1="460.0" x2="740.3" y2="527.0" fill="none" stroke="#444" stroke-width="0.6" stroke-dasharray="2,1.3"/>
<rect x="609.5" y="446.5" width="3.0" height="79.0" fill="none" stroke="#555" stroke-width="0.6" stroke-dasharray="1.8,1.2"/>
<rect x="704.5" y="446.5" width="4.0" height="79.0" fill="none" stroke="#555" stroke-width="0.6" stroke-dasharray="1.8,1.2"/>
<line x1="610.8" y1="525.5" x2="610.8" y2="545.0" stroke="#777" stroke-width="0.6"/>
<line x1="706.2" y1="525.5" x2="706.2" y2="545.0" stroke="#777" stroke-width="0.6"/>
<line x1="577.3" y1="525.5" x2="644.5" y2="525.5" stroke="#444" stroke-width="0.8"/>
<line x1="739.7" y1="525.5" x2="672.5" y2="525.5" stroke="#444" stroke-width="0.8"/>
<line x1="571.0" y1="534.5" x2="596.0" y2="534.5" stroke="#999" stroke-width="0.8"/>
<line x1="746.0" y1="534.5" x2="721.0" y2="534.5" stroke="#999" stroke-width="0.8"/>
<line x1="612.0" y1="534.5" x2="640.0" y2="534.5" stroke="#999" stroke-width="0.8"/>
<line x1="705.0" y1="534.5" x2="677.0" y2="534.5" stroke="#999" stroke-width="0.8"/>
<line x1="583.3" y1="391.6" x2="583.3" y2="534.2" stroke="#888" stroke-width="0.7"/>
<line x1="733.7" y1="391.6" x2="733.7" y2="534.2" stroke="#888" stroke-width="0.7"/>
<line x1="641.7" y1="391.6" x2="641.7" y2="534.2" stroke="#888" stroke-width="0.7"/>
<line x1="675.3" y1="391.6" x2="675.3" y2="534.2" stroke="#888" stroke-width="0.7"/>
<line x1="571.0" y1="400.8" x2="650.8" y2="400.8" stroke="#888" stroke-width="0.7"/>
<line x1="746.0" y1="400.8" x2="666.2" y2="400.8" stroke="#888" stroke-width="0.7"/>
<line x1="571.0" y1="455.8" x2="650.8" y2="455.8" stroke="#888" stroke-width="0.7"/>
<line x1="746.0" y1="455.8" x2="666.2" y2="455.8" stroke="#888" stroke-width="0.7"/>
<rect x="595.5" y="409.5" width="36.0" height="15.0" fill="none" stroke="#333" stroke-width="0.7"/>
<rect x="685.5" y="409.5" width="37.0" height="15.0" fill="none" stroke="#333" stroke-width="0.7"/>
<line x1="598.0" y1="410.0" x2="598.0" y2="423.0" stroke="#444" stroke-width="0.6"/>
<line x1="719.0" y1="410.0" x2="719.0" y2="423.0" stroke="#444" stroke-width="0.6"/>
<line x1="600.5" y1="410.0" x2="600.5" y2="423.0" stroke="#444" stroke-width="0.6"/>
<line x1="716.5" y1="410.0" x2="716.5" y2="423.0" stroke="#444" stroke-width="0.6"/>
<line x1="603.0" y1="410.0" x2="603.0" y2="423.0" stroke="#444" stroke-width="0.6"/>
<line x1="714.0" y1="410.0" x2="714.0" y2="423.0" stroke="#444" stroke-width="0.6"/>
<line x1="605.5" y1="410.0" x2="605.5" y2="423.0" stroke="#444" stroke-width="0.6"/>
<line x1="711.5" y1="410.0" x2="711.5" y2="423.0" stroke="#444" stroke-width="0.6"/>
<line x1="608.0" y1="410.0" x2="608.0" y2="423.0" stroke="#444" stroke-width="0.6"/>
<line x1="709.0" y1="410.0" x2="709.0" y2="423.0" stroke="#444" stroke-width="0.6"/>
<line x1="610.5" y1="410.0" x2="610.5" y2="423.0" stroke="#444" stroke-width="0.6"/>
<line x1="706.5" y1="410.0" x2="706.5" y2="423.0" stroke="#444" stroke-width="0.6"/>
<line x1="613.0" y1="410.0" x2="613.0" y2="423.0" stroke="#444" stroke-width="0.6"/>
<line x1="704.0" y1="410.0" x2="704.0" y2="423.0" stroke="#444" stroke-width="0.6"/>
<line x1="615.5" y1="410.0" x2="615.5" y2="423.0" stroke="#444" stroke-width="0.6"/>
<line x1="701.5" y1="410.0" x2="701.5" y2="423.0" stroke="#444" stroke-width="0.6"/>
<line x1="618.0" y1="410.0" x2="618.0" y2="423.0" stroke="#444" stroke-width="0.6"/>
<line x1="699.0" y1="410.0" x2="699.0" y2="423.0" stroke="#444" stroke-width="0.6"/>
<line x1="620.5" y1="410.0" x2="620.5" y2="423.0" stroke="#444" stroke-width="0.6"/>
<line x1="696.5" y1="410.0" x2="696.5" y2="423.0" stroke="#444" stroke-width="0.6"/>
<line x1="623.0" y1="410.0" x2="623.0" y2="423.0" stroke="#444" stroke-width="0.6"/>
<line x1="694.0" y1="410.0" x2="694.0" y2="423.0" stroke="#444" stroke-width="0.6"/>
<line x1="625.5" y1="410.0" x2="625.5" y2="423.0" stroke="#444" stroke-width="0.6"/>
<line x1="691.5" y1="410.0" x2="691.5" y2="423.0" stroke="#444" stroke-width="0.6"/>
<line x1="628.0" y1="410.0" x2="628.0" y2="423.0" stroke="#444" stroke-width="0.6"/>
<line x1="689.0" y1="410.0" x2="689.0" y2="423.0" stroke="#444" stroke-width="0.6"/>
<rect x="593.5" y="407.5" width="40.0" height="20.0" fill="none" stroke="#555" stroke-width="0.5" stroke-dasharray="1.5,1"/>
<rect x="683.5" y="407.5" width="41.0" height="20.0" fill="none" stroke="#555" stroke-width="0.5" stroke-dasharray="1.5,1"/>
<path d="M606 428 V438 H609" fill="none" stroke="#333" stroke-width="0.6"/>
<polygon points="606,427 604.2,431.5 607.8,431.5" fill="#111"/>
<path d="M690 428 V438 H693" fill="none" stroke="#333" stroke-width="0.6"/>
<polygon points="690,427 688.2,431.5 691.8,431.5" fill="#111"/>
<line x1="611.0" y1="84.0" x2="611.0" y2="124.0" stroke="#777" stroke-width="0.6"/>
<line x1="706.0" y1="84.0" x2="706.0" y2="124.0" stroke="#777" stroke-width="0.6"/>
<line x1="641.8" y1="123.5" x2="641.8" y2="200.3" stroke="#888" stroke-width="0.7"/>
<line x1="675.2" y1="123.5" x2="675.2" y2="200.3" stroke="#888" stroke-width="0.7"/>
<path d="M492 102.5 H488 V109" fill="none" stroke="#333" stroke-width="0.6"/>
<path d="M825.0 102.5 H829.0 V109" fill="none" stroke="#333" stroke-width="0.6"/>
<polygon points="486.5,108.5 489.5,108.5 488.5,111.5" fill="#111"/>
<polygon points="830.5,108.5 827.5,108.5 829.5,111.5" fill="#111"/>
<rect x="531.5" y="535.5" width="9.0" height="11.0" fill="#fff" stroke="#333" stroke-width="0.8"/>
<rect x="777.5" y="535.5" width="8.0" height="11.0" fill="#fff" stroke="#333" stroke-width="0.8"/>
<line x1="386" y1="366.4" x2="930" y2="366.4" stroke="#111" stroke-width="1.2" stroke-dasharray="9,2.5,2,2.5"/>
<polygon points="379.6,366.4 387.6,366.4 383.6,359" fill="#111"/>
<polygon points="931.4,366.4 939.4,366.4 935.4,359" fill="#111"/>
<text transform="translate(375.5,366.0) scale(0.8,1)" font-size="8.5" text-anchor="middle" fill="#222">A</text>
<text transform="translate(943.5,366.0) scale(0.8,1)" font-size="8.5" text-anchor="middle" fill="#222">A</text>
<polygon points="706.5,48.5 706.5,57 698.5,52.7" fill="#111"/>
<polygon points="706.5,582.5 706.5,591 698.5,586.7" fill="#111"/>
<text transform="translate(699.0,44.5) rotate(90) scale(0.9,1)" font-size="6.5" text-anchor="middle" fill="#222">B</text>
<text transform="translate(704.5,594.5) rotate(-90) scale(0.9,1)" font-size="6.5" text-anchor="middle" fill="#222">B</text>
<circle cx="585" cy="171" r="2.6" fill="none" stroke="#111" stroke-width="0.8"/>
<path d="M585 171 L585 168.4 A2.6 2.6 0 0 1 587.6 171 Z M585 171 L585 173.6 A2.6 2.6 0 0 1 582.4 171 Z" fill="#111"/>
<line x1="580.5" y1="171" x2="589.5" y2="171" stroke="#111" stroke-width="0.5"/>
<line x1="585" y1="166.5" x2="585" y2="175.5" stroke="#111" stroke-width="0.5"/>
<circle cx="461.5" cy="349.6" r="2.6" fill="none" stroke="#111" stroke-width="0.8"/>
<path d="M461.5 349.6 L461.5 347.0 A2.6 2.6 0 0 1 464.1 349.6 Z M461.5 349.6 L461.5 352.20000000000005 A2.6 2.6 0 0 1 458.9 349.6 Z" fill="#111"/>
<line x1="457.0" y1="349.6" x2="466.0" y2="349.6" stroke="#111" stroke-width="0.5"/>
<line x1="461.5" y1="345.1" x2="461.5" y2="354.1" stroke="#111" stroke-width="0.5"/>
<circle cx="524" cy="410" r="2.6" fill="none" stroke="#111" stroke-width="0.8"/>
<path d="M524 410 L524 407.4 A2.6 2.6 0 0 1 526.6 410 Z M524 410 L524 412.6 A2.6 2.6 0 0 1 521.4 410 Z" fill="#111"/>
<line x1="519.5" y1="410" x2="528.5" y2="410" stroke="#111" stroke-width="0.5"/>
<line x1="524" y1="405.5" x2="524" y2="414.5" stroke="#111" stroke-width="0.5"/>
<circle cx="588" cy="519" r="2.6" fill="none" stroke="#111" stroke-width="0.8"/>
<path d="M588 519 L588 516.4 A2.6 2.6 0 0 1 590.6 519 Z M588 519 L588 521.6 A2.6 2.6 0 0 1 585.4 519 Z" fill="#111"/>
<line x1="583.5" y1="519" x2="592.5" y2="519" stroke="#111" stroke-width="0.5"/>
<line x1="588" y1="514.5" x2="588" y2="523.5" stroke="#111" stroke-width="0.5"/>
<circle cx="568.5" cy="546.4" r="2.6" fill="none" stroke="#111" stroke-width="0.8"/>
<path d="M568.5 546.4 L568.5 543.8 A2.6 2.6 0 0 1 571.1 546.4 Z M568.5 546.4 L568.5 549.0 A2.6 2.6 0 0 1 565.9 546.4 Z" fill="#111"/>
<line x1="564.0" y1="546.4" x2="573.0" y2="546.4" stroke="#111" stroke-width="0.5"/>
<line x1="568.5" y1="541.9" x2="568.5" y2="550.9" stroke="#111" stroke-width="0.5"/>
<circle cx="534.4" cy="519.3" r="2.6" fill="none" stroke="#111" stroke-width="0.8"/>
<path d="M534.4 519.3 L534.4 516.6999999999999 A2.6 2.6 0 0 1 537.0 519.3 Z M534.4 519.3 L534.4 521.9 A2.6 2.6 0 0 1 531.8 519.3 Z" fill="#111"/>
<line x1="529.9" y1="519.3" x2="538.9" y2="519.3" stroke="#111" stroke-width="0.5"/>
<line x1="534.4" y1="514.8" x2="534.4" y2="523.8" stroke="#111" stroke-width="0.5"/>
<circle cx="465.5" cy="224" r="2.6" fill="none" stroke="#111" stroke-width="0.8"/>
<path d="M465.5 224 L465.5 221.4 A2.6 2.6 0 0 1 468.1 224 Z M465.5 224 L465.5 226.6 A2.6 2.6 0 0 1 462.9 224 Z" fill="#111"/>
<line x1="461.0" y1="224" x2="470.0" y2="224" stroke="#111" stroke-width="0.5"/>
<line x1="465.5" y1="219.5" x2="465.5" y2="228.5" stroke="#111" stroke-width="0.5"/>
<circle cx="458.7" cy="297.8" r="2.6" fill="none" stroke="#111" stroke-width="0.8"/>
<path d="M458.7 297.8 L458.7 295.2 A2.6 2.6 0 0 1 461.3 297.8 Z M458.7 297.8 L458.7 300.40000000000003 A2.6 2.6 0 0 1 456.09999999999997 297.8 Z" fill="#111"/>
<line x1="454.2" y1="297.8" x2="463.2" y2="297.8" stroke="#111" stroke-width="0.5"/>
<line x1="458.7" y1="293.3" x2="458.7" y2="302.3" stroke="#111" stroke-width="0.5"/>
<circle cx="724" cy="171" r="2.6" fill="none" stroke="#111" stroke-width="0.8"/>
<path d="M724 171 L724 168.4 A2.6 2.6 0 0 1 726.6 171 Z M724 171 L724 173.6 A2.6 2.6 0 0 1 721.4 171 Z" fill="#111"/>
<line x1="719.5" y1="171" x2="728.5" y2="171" stroke="#111" stroke-width="0.5"/>
<line x1="724" y1="166.5" x2="724" y2="175.5" stroke="#111" stroke-width="0.5"/>
<circle cx="848.7" cy="349.2" r="2.6" fill="none" stroke="#111" stroke-width="0.8"/>
<path d="M848.7 349.2 L848.7 346.59999999999997 A2.6 2.6 0 0 1 851.3000000000001 349.2 Z M848.7 349.2 L848.7 351.8 A2.6 2.6 0 0 1 846.1 349.2 Z" fill="#111"/>
<line x1="844.2" y1="349.2" x2="853.2" y2="349.2" stroke="#111" stroke-width="0.5"/>
<line x1="848.7" y1="344.7" x2="848.7" y2="353.7" stroke="#111" stroke-width="0.5"/>
<circle cx="779.8" cy="412.2" r="2.6" fill="none" stroke="#111" stroke-width="0.8"/>
<path d="M779.8 412.2 L779.8 409.59999999999997 A2.6 2.6 0 0 1 782.4 412.2 Z M779.8 412.2 L779.8 414.8 A2.6 2.6 0 0 1 777.1999999999999 412.2 Z" fill="#111"/>
<line x1="775.3" y1="412.2" x2="784.3" y2="412.2" stroke="#111" stroke-width="0.5"/>
<line x1="779.8" y1="407.7" x2="779.8" y2="416.7" stroke="#111" stroke-width="0.5"/>
<circle cx="683.6" cy="519" r="2.6" fill="none" stroke="#111" stroke-width="0.8"/>
<path d="M683.6 519 L683.6 516.4 A2.6 2.6 0 0 1 686.2 519 Z M683.6 519 L683.6 521.6 A2.6 2.6 0 0 1 681.0 519 Z" fill="#111"/>
<line x1="679.1" y1="519" x2="688.1" y2="519" stroke="#111" stroke-width="0.5"/>
<line x1="683.6" y1="514.5" x2="683.6" y2="523.5" stroke="#111" stroke-width="0.5"/>
<circle cx="734" cy="544.8" r="2.6" fill="none" stroke="#111" stroke-width="0.8"/>
<path d="M734 544.8 L734 542.1999999999999 A2.6 2.6 0 0 1 736.6 544.8 Z M734 544.8 L734 547.4 A2.6 2.6 0 0 1 731.4 544.8 Z" fill="#111"/>
<line x1="729.5" y1="544.8" x2="738.5" y2="544.8" stroke="#111" stroke-width="0.5"/>
<line x1="734" y1="540.3" x2="734" y2="549.3" stroke="#111" stroke-width="0.5"/>
<circle cx="757" cy="518.5" r="2.6" fill="none" stroke="#111" stroke-width="0.8"/>
<path d="M757 518.5 L757 515.9 A2.6 2.6 0 0 1 759.6 518.5 Z M757 518.5 L757 521.1 A2.6 2.6 0 0 1 754.4 518.5 Z" fill="#111"/>
<line x1="752.5" y1="518.5" x2="761.5" y2="518.5" stroke="#111" stroke-width="0.5"/>
<line x1="757" y1="514.0" x2="757" y2="523.0" stroke="#111" stroke-width="0.5"/>
<circle cx="842.8" cy="223.7" r="2.6" fill="none" stroke="#111" stroke-width="0.8"/>
<path d="M842.8 223.7 L842.8 221.1 A2.6 2.6 0 0 1 845.4 223.7 Z M842.8 223.7 L842.8 226.29999999999998 A2.6 2.6 0 0 1 840.1999999999999 223.7 Z" fill="#111"/>
<line x1="838.3" y1="223.7" x2="847.3" y2="223.7" stroke="#111" stroke-width="0.5"/>
<line x1="842.8" y1="219.2" x2="842.8" y2="228.2" stroke="#111" stroke-width="0.5"/>
<circle cx="846.3" cy="297" r="2.6" fill="none" stroke="#111" stroke-width="0.8"/>
<path d="M846.3 297 L846.3 294.4 A2.6 2.6 0 0 1 848.9 297 Z M846.3 297 L846.3 299.6 A2.6 2.6 0 0 1 843.6999999999999 297 Z" fill="#111"/>
<line x1="841.8" y1="297" x2="850.8" y2="297" stroke="#111" stroke-width="0.5"/>
<line x1="846.3" y1="292.5" x2="846.3" y2="301.5" stroke="#111" stroke-width="0.5"/>
<path d="M652.5 93.5 L664.5 105.5 M664.5 93.5 L652.5 105.5" stroke="#111" stroke-width="0.9"/>
<polygon points="651,92 655.5,93.5 652.5,96.5" fill="#111"/><polygon points="666,92 661.5,93.5 664.5,96.5" fill="#111"/>
<rect x="522.8" y="216.8" width="9.7" height="9.2" fill="#fff" stroke="#333" stroke-width="0.8"/>
<text transform="translate(527.6,223.5) scale(0.8,1)" font-size="5.4" text-anchor="middle" fill="#222">F04</text>
<rect x="574.6" y="274.8" width="11.0" height="11.0" fill="#fff" stroke="#333" stroke-width="0.8"/>
<text transform="translate(580.1,282.4) scale(0.8,1)" font-size="5.4" text-anchor="middle" fill="#222">F01</text>
<rect x="581.2" y="370.3" width="11.5" height="10.1" fill="#fff" stroke="#333" stroke-width="0.8"/>
<text transform="translate(587.0,377.5) scale(0.8,1)" font-size="5.4" text-anchor="middle" fill="#222">F02</text>
<rect x="572" y="98" width="11.3" height="10.4" fill="#fff" stroke="#333" stroke-width="0.8"/>
<text transform="translate(577.6,105.3) scale(0.8,1)" font-size="5.4" text-anchor="middle" fill="#222">H01</text>
<rect x="731.4" y="214.4" width="11.3" height="9.1" fill="#fff" stroke="#333" stroke-width="0.8"/>
<text transform="translate(737.0,221.0) scale(0.8,1)" font-size="5.4" text-anchor="middle" fill="#222">F04</text>
<rect x="896.4" y="468.7" width="12.0" height="8.9" fill="#fff" stroke="#333" stroke-width="0.8"/>
<text transform="translate(902.4,475.2) scale(0.8,1)" font-size="5.4" text-anchor="middle" fill="#222">H01</text>
<rect x="669" y="243.6" width="10.0" height="9.1" fill="#fff" stroke="#333" stroke-width="0.8"/>
<text transform="translate(674.0,250.2) scale(0.8,1)" font-size="5.4" text-anchor="middle" fill="#222">F03</text>
<rect x="757.9" y="275" width="11.3" height="9.8" fill="#fff" stroke="#333" stroke-width="0.8"/>
<text transform="translate(763.5,282.0) scale(0.8,1)" font-size="5.4" text-anchor="middle" fill="#222">F01</text>
<rect x="755.7" y="400.2" width="12.3" height="9.5" fill="#fff" stroke="#333" stroke-width="0.8"/>
<text transform="translate(761.9,407.1) scale(0.8,1)" font-size="5.4" text-anchor="middle" fill="#222">F02</text>
<rect x="658.3" y="538.5" width="11.6" height="9.9" fill="#fff" stroke="#333" stroke-width="0.8"/>
<text transform="translate(664.1,545.6) scale(0.8,1)" font-size="5.4" text-anchor="middle" fill="#222">H02</text>
<rect x="531.4" y="537.1" width="6.4" height="12.1" fill="#fff" stroke="#333" stroke-width="0.8"/>
<text transform="translate(534.6,545.3) scale(0.8,1)" font-size="7" text-anchor="middle" fill="#222">1</text>
<rect x="779.2" y="537.1" width="6.4" height="12.1" fill="#fff" stroke="#333" stroke-width="0.8"/>
<text transform="translate(782.4,545.3) scale(0.8,1)" font-size="7" text-anchor="middle" fill="#222">2</text>
<line x1="555" y1="284" x2="574.6" y2="284" stroke="#111" stroke-width="1.3"/>
<line x1="592.4" y1="372" x2="592.4" y2="392" stroke="#111" stroke-width="1.3"/>
<line x1="584" y1="103" x2="584" y2="126" stroke="#111" stroke-width="1.3"/>
<line x1="720" y1="222.7" x2="731.4" y2="222.7" stroke="#111" stroke-width="1.3"/>
<line x1="739" y1="283.3" x2="757.9" y2="283.3" stroke="#111" stroke-width="1.3"/>
<line x1="738" y1="408.3" x2="755.7" y2="408.3" stroke="#111" stroke-width="1.3"/>
<line x1="669.4" y1="519.5" x2="669.4" y2="538.5" stroke="#111" stroke-width="1.3"/>
<line x1="875.6" y1="476.5" x2="896.4" y2="476.5" stroke="#111" stroke-width="1.3"/>
<line x1="648" y1="252.5" x2="669" y2="252.5" stroke="#111" stroke-width="1.3"/>
<line x1="706.5" y1="50" x2="706.5" y2="588" stroke="#222" stroke-width="0.9" stroke-dasharray="9,2.5,2,2.5"/>
<line x1="476.8" y1="139.2" x2="481.2" y2="134.8" stroke="#111" stroke-width="1"/>
<line x1="835.8" y1="139.2" x2="840.2" y2="134.8" stroke="#111" stroke-width="1"/>
<line x1="489.1" y1="139.2" x2="493.5" y2="134.8" stroke="#111" stroke-width="1"/>
<line x1="823.5" y1="139.2" x2="827.9" y2="134.8" stroke="#111" stroke-width="1"/>
<line x1="562.0" y1="139.2" x2="566.4" y2="134.8" stroke="#111" stroke-width="1"/>
<line x1="750.6" y1="139.2" x2="755.0" y2="134.8" stroke="#111" stroke-width="1"/>
<line x1="568.8" y1="139.2" x2="573.2" y2="134.8" stroke="#111" stroke-width="1"/>
<line x1="743.8" y1="139.2" x2="748.2" y2="134.8" stroke="#111" stroke-width="1"/>
<line x1="562.0" y1="140.6" x2="566.4" y2="136.2" stroke="#111" stroke-width="1"/>
<line x1="750.6" y1="140.6" x2="755.0" y2="136.2" stroke="#111" stroke-width="1"/>
<line x1="568.8" y1="140.6" x2="573.2" y2="136.2" stroke="#111" stroke-width="1"/>
<line x1="743.8" y1="140.6" x2="748.2" y2="136.2" stroke="#111" stroke-width="1"/>
<line x1="648.6" y1="140.6" x2="653.0" y2="136.2" stroke="#111" stroke-width="1"/>
<line x1="664.0" y1="140.6" x2="668.4" y2="136.2" stroke="#111" stroke-width="1"/>
<line x1="568.8" y1="188.6" x2="573.2" y2="184.2" stroke="#111" stroke-width="1"/>
<line x1="743.8" y1="188.6" x2="748.2" y2="184.2" stroke="#111" stroke-width="1"/>
<line x1="591.8" y1="188.6" x2="596.2" y2="184.2" stroke="#111" stroke-width="1"/>
<line x1="720.8" y1="188.6" x2="725.2" y2="184.2" stroke="#111" stroke-width="1"/>
<line x1="648.6" y1="188.6" x2="653.0" y2="184.2" stroke="#111" stroke-width="1"/>
<line x1="664.0" y1="188.6" x2="668.4" y2="184.2" stroke="#111" stroke-width="1"/>
<line x1="540.1" y1="125.7" x2="544.5" y2="121.3" stroke="#111" stroke-width="1"/>
<line x1="772.5" y1="125.7" x2="776.9" y2="121.3" stroke="#111" stroke-width="1"/>
<line x1="540.1" y1="207.2" x2="544.5" y2="202.8" stroke="#111" stroke-width="1"/>
<line x1="772.5" y1="207.2" x2="776.9" y2="202.8" stroke="#111" stroke-width="1"/>
<line x1="540.1" y1="230.2" x2="544.5" y2="225.8" stroke="#111" stroke-width="1"/>
<line x1="772.5" y1="230.2" x2="776.9" y2="225.8" stroke="#111" stroke-width="1"/>
<line x1="510.4" y1="173.2" x2="514.8" y2="168.8" stroke="#111" stroke-width="1"/>
<line x1="802.2" y1="173.2" x2="806.6" y2="168.8" stroke="#111" stroke-width="1"/>
<line x1="510.4" y1="230.2" x2="514.8" y2="225.8" stroke="#111" stroke-width="1"/>
<line x1="802.2" y1="230.2" x2="806.6" y2="225.8" stroke="#111" stroke-width="1"/>
<line x1="489.1" y1="310.9" x2="493.5" y2="306.5" stroke="#111" stroke-width="1"/>
<line x1="823.5" y1="310.9" x2="827.9" y2="306.5" stroke="#111" stroke-width="1"/>
<line x1="562.0" y1="310.9" x2="566.4" y2="306.5" stroke="#111" stroke-width="1"/>
<line x1="750.6" y1="310.9" x2="755.0" y2="306.5" stroke="#111" stroke-width="1"/>
<line x1="568.8" y1="310.9" x2="573.2" y2="306.5" stroke="#111" stroke-width="1"/>
<line x1="743.8" y1="310.9" x2="748.2" y2="306.5" stroke="#111" stroke-width="1"/>
<line x1="595.3" y1="310.9" x2="599.7" y2="306.5" stroke="#111" stroke-width="1"/>
<line x1="717.3" y1="310.9" x2="721.7" y2="306.5" stroke="#111" stroke-width="1"/>
<line x1="510.2" y1="233.2" x2="514.6" y2="228.8" stroke="#111" stroke-width="1"/>
<line x1="802.4" y1="233.2" x2="806.8" y2="228.8" stroke="#111" stroke-width="1"/>
<line x1="510.2" y1="247.9" x2="514.6" y2="243.5" stroke="#111" stroke-width="1"/>
<line x1="802.4" y1="247.9" x2="806.8" y2="243.5" stroke="#111" stroke-width="1"/>
<line x1="540.1" y1="233.2" x2="544.5" y2="228.8" stroke="#111" stroke-width="1"/>
<line x1="772.5" y1="233.2" x2="776.9" y2="228.8" stroke="#111" stroke-width="1"/>
<line x1="540.1" y1="247.9" x2="544.5" y2="243.5" stroke="#111" stroke-width="1"/>
<line x1="772.5" y1="247.9" x2="776.9" y2="243.5" stroke="#111" stroke-width="1"/>
<line x1="540.1" y1="273.9" x2="544.5" y2="269.5" stroke="#111" stroke-width="1"/>
<line x1="772.5" y1="273.9" x2="776.9" y2="269.5" stroke="#111" stroke-width="1"/>
<line x1="511.1" y1="328.2" x2="515.5" y2="323.8" stroke="#111" stroke-width="1"/>
<line x1="801.5" y1="328.2" x2="805.9" y2="323.8" stroke="#111" stroke-width="1"/>
<line x1="542.8" y1="328.2" x2="547.2" y2="323.8" stroke="#111" stroke-width="1"/>
<line x1="769.8" y1="328.2" x2="774.2" y2="323.8" stroke="#111" stroke-width="1"/>
<line x1="511.1" y1="339.5" x2="515.5" y2="335.1" stroke="#111" stroke-width="1"/>
<line x1="801.5" y1="339.5" x2="805.9" y2="335.1" stroke="#111" stroke-width="1"/>
<line x1="542.8" y1="339.5" x2="547.2" y2="335.1" stroke="#111" stroke-width="1"/>
<line x1="769.8" y1="339.5" x2="774.2" y2="335.1" stroke="#111" stroke-width="1"/>
<line x1="434.2" y1="402.7" x2="438.6" y2="398.3" stroke="#111" stroke-width="1"/>
<line x1="878.4" y1="402.7" x2="882.8" y2="398.3" stroke="#111" stroke-width="1"/>
<line x1="511.1" y1="402.7" x2="515.5" y2="398.3" stroke="#111" stroke-width="1"/>
<line x1="801.5" y1="402.7" x2="805.9" y2="398.3" stroke="#111" stroke-width="1"/>
<line x1="542.8" y1="402.7" x2="547.2" y2="398.3" stroke="#111" stroke-width="1"/>
<line x1="769.8" y1="402.7" x2="774.2" y2="398.3" stroke="#111" stroke-width="1"/>
<line x1="562.0" y1="402.7" x2="566.4" y2="398.3" stroke="#111" stroke-width="1"/>
<line x1="750.6" y1="402.7" x2="755.0" y2="398.3" stroke="#111" stroke-width="1"/>
<line x1="434.2" y1="421.2" x2="438.6" y2="416.8" stroke="#111" stroke-width="1"/>
<line x1="878.4" y1="421.2" x2="882.8" y2="416.8" stroke="#111" stroke-width="1"/>
<line x1="475.6" y1="421.2" x2="480.0" y2="416.8" stroke="#111" stroke-width="1"/>
<line x1="837.0" y1="421.2" x2="841.4" y2="416.8" stroke="#111" stroke-width="1"/>
<line x1="562.0" y1="421.2" x2="566.4" y2="416.8" stroke="#111" stroke-width="1"/>
<line x1="750.6" y1="421.2" x2="755.0" y2="416.8" stroke="#111" stroke-width="1"/>
<line x1="434.2" y1="457.4" x2="438.6" y2="453.0" stroke="#111" stroke-width="1"/>
<line x1="878.4" y1="457.4" x2="882.8" y2="453.0" stroke="#111" stroke-width="1"/>
<line x1="516.1" y1="457.4" x2="520.5" y2="453.0" stroke="#111" stroke-width="1"/>
<line x1="796.5" y1="457.4" x2="800.9" y2="453.0" stroke="#111" stroke-width="1"/>
<line x1="518.8" y1="450.7" x2="523.2" y2="446.3" stroke="#111" stroke-width="1"/>
<line x1="793.8" y1="450.7" x2="798.2" y2="446.3" stroke="#111" stroke-width="1"/>
<line x1="562.0" y1="450.7" x2="566.4" y2="446.3" stroke="#111" stroke-width="1"/>
<line x1="750.6" y1="450.7" x2="755.0" y2="446.3" stroke="#111" stroke-width="1"/>
<line x1="568.8" y1="403.0" x2="573.2" y2="398.6" stroke="#111" stroke-width="1"/>
<line x1="743.8" y1="403.0" x2="748.2" y2="398.6" stroke="#111" stroke-width="1"/>
<line x1="581.1" y1="403.0" x2="585.5" y2="398.6" stroke="#111" stroke-width="1"/>
<line x1="731.5" y1="403.0" x2="735.9" y2="398.6" stroke="#111" stroke-width="1"/>
<line x1="639.5" y1="403.0" x2="643.9" y2="398.6" stroke="#111" stroke-width="1"/>
<line x1="673.1" y1="403.0" x2="677.5" y2="398.6" stroke="#111" stroke-width="1"/>
<line x1="648.6" y1="403.0" x2="653.0" y2="398.6" stroke="#111" stroke-width="1"/>
<line x1="664.0" y1="403.0" x2="668.4" y2="398.6" stroke="#111" stroke-width="1"/>
<line x1="568.8" y1="458.0" x2="573.2" y2="453.6" stroke="#111" stroke-width="1"/>
<line x1="743.8" y1="458.0" x2="748.2" y2="453.6" stroke="#111" stroke-width="1"/>
<line x1="581.1" y1="458.0" x2="585.5" y2="453.6" stroke="#111" stroke-width="1"/>
<line x1="731.5" y1="458.0" x2="735.9" y2="453.6" stroke="#111" stroke-width="1"/>
<line x1="639.5" y1="458.0" x2="643.9" y2="453.6" stroke="#111" stroke-width="1"/>
<line x1="673.1" y1="458.0" x2="677.5" y2="453.6" stroke="#111" stroke-width="1"/>
<line x1="648.6" y1="458.0" x2="653.0" y2="453.6" stroke="#111" stroke-width="1"/>
<line x1="664.0" y1="458.0" x2="668.4" y2="453.6" stroke="#111" stroke-width="1"/>
<line x1="581.1" y1="393.8" x2="585.5" y2="389.4" stroke="#111" stroke-width="1"/>
<line x1="731.5" y1="393.8" x2="735.9" y2="389.4" stroke="#111" stroke-width="1"/>
<line x1="639.5" y1="393.8" x2="643.9" y2="389.4" stroke="#111" stroke-width="1"/>
<line x1="673.1" y1="393.8" x2="677.5" y2="389.4" stroke="#111" stroke-width="1"/>
<line x1="581.1" y1="462.2" x2="585.5" y2="457.8" stroke="#111" stroke-width="1"/>
<line x1="731.5" y1="462.2" x2="735.9" y2="457.8" stroke="#111" stroke-width="1"/>
<line x1="639.5" y1="529.2" x2="643.9" y2="524.8" stroke="#111" stroke-width="1"/>
<line x1="673.1" y1="529.2" x2="677.5" y2="524.8" stroke="#111" stroke-width="1"/>
<line x1="458.3" y1="523.6" x2="462.7" y2="519.2" stroke="#111" stroke-width="1"/>
<line x1="854.3" y1="523.6" x2="858.7" y2="519.2" stroke="#111" stroke-width="1"/>
<line x1="491.4" y1="523.6" x2="495.8" y2="519.2" stroke="#111" stroke-width="1"/>
<line x1="821.2" y1="523.6" x2="825.6" y2="519.2" stroke="#111" stroke-width="1"/>
<rect x="437.5" y="318.5" width="2.0" height="18.0" fill="#fff" stroke="#444" stroke-width="0.6"/>
<rect x="877.5" y="318.5" width="3.0" height="18.0" fill="#fff" stroke="#444" stroke-width="0.6"/>
<path d="M439.6 335.6 A17 17 0 0 0 456.6 318.6" fill="none" stroke="#444" stroke-width="0.7"/>
<path d="M877.4 335.6 A17 17 0 0 1 860.4 318.6" fill="none" stroke="#444" stroke-width="0.7"/>
<line x1="405.0" y1="310.5" x2="480.0" y2="310.5" stroke="#888" stroke-width="0.7"/>
<line x1="912.0" y1="310.5" x2="837.0" y2="310.5" stroke="#888" stroke-width="0.7"/>
<line x1="447.4" y1="300.0" x2="447.4" y2="340.0" stroke="#888" stroke-width="0.7"/>
<line x1="869.6" y1="300.0" x2="869.6" y2="340.0" stroke="#888" stroke-width="0.7"/>
<rect x="655.8" y="127.8" width="5.4" height="6.6" fill="#fff" stroke="#444" stroke-width="0.5"/>
<text transform="translate(658.5,132.9) scale(0.8,1)" font-size="5" text-anchor="middle" fill="#333">5</text>
<rect x="655.8" y="296.8" width="5.4" height="6.6" fill="#fff" stroke="#444" stroke-width="0.5"/>
<text transform="translate(658.5,301.9) scale(0.8,1)" font-size="5" text-anchor="middle" fill="#333">5</text>
<rect x="655.8" y="389.8" width="5.4" height="6.6" fill="#fff" stroke="#444" stroke-width="0.5"/>
<text transform="translate(658.5,394.9) scale(0.8,1)" font-size="5" text-anchor="middle" fill="#333">5</text>
<rect x="655.8" y="444.3" width="5.4" height="6.6" fill="#fff" stroke="#444" stroke-width="0.5"/>
<text transform="translate(658.5,449.4) scale(0.8,1)" font-size="5" text-anchor="middle" fill="#333">5</text>
<line x1="549.0" y1="362.7" x2="573.0" y2="362.7" stroke="#888" stroke-width="0.7"/>
<line x1="768.0" y1="362.7" x2="744.0" y2="362.7" stroke="#888" stroke-width="0.7"/>
<line x1="564.2" y1="341.6" x2="564.2" y2="384.4" stroke="#666" stroke-width="0.6" stroke-dasharray="1.5,1"/>
<line x1="752.8" y1="341.6" x2="752.8" y2="384.4" stroke="#666" stroke-width="0.6" stroke-dasharray="1.5,1"/>
<line x1="571.0" y1="341.6" x2="571.0" y2="384.4" stroke="#666" stroke-width="0.6" stroke-dasharray="1.5,1"/>
<line x1="746.0" y1="341.6" x2="746.0" y2="384.4" stroke="#666" stroke-width="0.6" stroke-dasharray="1.5,1"/>
<text transform="translate(525.3,180.0) scale(0.8,1)" font-size="5.6" text-anchor="middle" fill="#2a2a2a">110</text>
<text transform="translate(525.3,186.4) scale(0.8,1)" font-size="5.6" text-anchor="middle" fill="#2a2a2a">SZOBA</text>
<text transform="translate(525.3,192.8) scale(0.8,1)" font-size="5.6" text-anchor="middle" fill="#2a2a2a">laminált padló</text>
<text transform="translate(525.3,199.2) scale(0.8,1)" font-size="5.6" text-anchor="middle" fill="#2a2a2a">13,85 m<tspan font-size="3.5" dy="-2">2</tspan></text>
<text transform="translate(791.7,180.0) scale(0.8,1)" font-size="5.6" text-anchor="middle" fill="#2a2a2a">210</text>
<text transform="translate(791.7,186.4) scale(0.8,1)" font-size="5.6" text-anchor="middle" fill="#2a2a2a">SZOBA</text>
<text transform="translate(791.7,192.8) scale(0.8,1)" font-size="5.6" text-anchor="middle" fill="#2a2a2a">laminált padló</text>
<text transform="translate(791.7,199.2) scale(0.8,1)" font-size="5.6" text-anchor="middle" fill="#2a2a2a">13,85 m<tspan font-size="3.5" dy="-2">2</tspan></text>
<text transform="translate(619.8,147.5) scale(0.8,1)" font-size="5.6" text-anchor="middle" fill="#2a2a2a">109</text>
<text transform="translate(619.8,153.9) scale(0.8,1)" font-size="5.6" text-anchor="middle" fill="#2a2a2a">SZOBA</text>
<text transform="translate(619.8,160.3) scale(0.8,1)" font-size="5.6" text-anchor="middle" fill="#2a2a2a">laminált padló</text>
<text transform="translate(619.8,166.7) scale(0.8,1)" font-size="5.6" text-anchor="middle" fill="#2a2a2a">18,56 m<tspan font-size="3.5" dy="-2">2</tspan></text>
<text transform="translate(697.2,147.5) scale(0.8,1)" font-size="5.6" text-anchor="middle" fill="#2a2a2a">209</text>
<text transform="translate(697.2,153.9) scale(0.8,1)" font-size="5.6" text-anchor="middle" fill="#2a2a2a">SZOBA</text>
<text transform="translate(697.2,160.3) scale(0.8,1)" font-size="5.6" text-anchor="middle" fill="#2a2a2a">laminált padló</text>
<text transform="translate(697.2,166.7) scale(0.8,1)" font-size="5.6" text-anchor="middle" fill="#2a2a2a">18,56 m<tspan font-size="3.5" dy="-2">2</tspan></text>
<text transform="translate(521.0,281.0) scale(0.8,1)" font-size="5.6" text-anchor="middle" fill="#2a2a2a">111</text>
<text transform="translate(521.0,287.4) scale(0.8,1)" font-size="5.6" text-anchor="middle" fill="#2a2a2a">SZOBA</text>
<text transform="translate(521.0,293.8) scale(0.8,1)" font-size="5.6" text-anchor="middle" fill="#2a2a2a">laminált padló</text>
<text transform="translate(521.0,300.2) scale(0.8,1)" font-size="5.6" text-anchor="middle" fill="#2a2a2a">11,10 m<tspan font-size="3.5" dy="-2">2</tspan></text>
<text transform="translate(796.0,281.0) scale(0.8,1)" font-size="5.6" text-anchor="middle" fill="#2a2a2a">211</text>
<text transform="translate(796.0,287.4) scale(0.8,1)" font-size="5.6" text-anchor="middle" fill="#2a2a2a">SZOBA</text>
<text transform="translate(796.0,293.8) scale(0.8,1)" font-size="5.6" text-anchor="middle" fill="#2a2a2a">laminált padló</text>
<text transform="translate(796.0,300.2) scale(0.8,1)" font-size="5.6" text-anchor="middle" fill="#2a2a2a">11,10 m<tspan font-size="3.5" dy="-2">2</tspan></text>
<text transform="translate(627.4,218.5) scale(0.8,1)" font-size="5.6" text-anchor="middle" fill="#2a2a2a">108</text>
<text transform="translate(627.4,224.9) scale(0.8,1)" font-size="5.6" text-anchor="middle" fill="#2a2a2a">FÜRDŐSZOBA</text>
<text transform="translate(627.4,231.3) scale(0.8,1)" font-size="5.6" text-anchor="middle" fill="#2a2a2a">kerámia</text>
<text transform="translate(627.4,237.7) scale(0.8,1)" font-size="5.6" text-anchor="middle" fill="#2a2a2a">5,77 m<tspan font-size="3.5" dy="-2">2</tspan></text>
<text transform="translate(689.6,218.5) scale(0.8,1)" font-size="5.6" text-anchor="middle" fill="#2a2a2a">208</text>
<text transform="translate(689.6,224.9) scale(0.8,1)" font-size="5.6" text-anchor="middle" fill="#2a2a2a">FÜRDŐSZOBA</text>
<text transform="translate(689.6,231.3) scale(0.8,1)" font-size="5.6" text-anchor="middle" fill="#2a2a2a">kerámia</text>
<text transform="translate(689.6,237.7) scale(0.8,1)" font-size="5.6" text-anchor="middle" fill="#2a2a2a">5,77 m<tspan font-size="3.5" dy="-2">2</tspan></text>
<text transform="translate(626.7,317.5) scale(0.8,1)" font-size="5.6" text-anchor="middle" fill="#2a2a2a">106</text>
<text transform="translate(626.7,323.9) scale(0.8,1)" font-size="5.6" text-anchor="middle" fill="#2a2a2a">HÁZT. H.</text>
<text transform="translate(626.7,330.3) scale(0.8,1)" font-size="5.6" text-anchor="middle" fill="#2a2a2a">kerámia</text>
<text transform="translate(626.7,336.7) scale(0.8,1)" font-size="5.6" text-anchor="middle" fill="#2a2a2a">4,62 m<tspan font-size="3.5" dy="-2">2</tspan></text>
<text transform="translate(690.3,317.5) scale(0.8,1)" font-size="5.6" text-anchor="middle" fill="#2a2a2a">206</text>
<text transform="translate(690.3,323.9) scale(0.8,1)" font-size="5.6" text-anchor="middle" fill="#2a2a2a">HÁZT. H.</text>
<text transform="translate(690.3,330.3) scale(0.8,1)" font-size="5.6" text-anchor="middle" fill="#2a2a2a">kerámia</text>
<text transform="translate(690.3,336.7) scale(0.8,1)" font-size="5.6" text-anchor="middle" fill="#2a2a2a">4,62 m<tspan font-size="3.5" dy="-2">2</tspan></text>
<text transform="translate(576.4,343.2) scale(0.8,1)" font-size="5.6" text-anchor="middle" fill="#2a2a2a">104</text>
<text transform="translate(576.4,349.6) scale(0.8,1)" font-size="5.6" text-anchor="middle" fill="#2a2a2a">KÖZLEKEDŐ</text>
<text transform="translate(576.4,356.0) scale(0.8,1)" font-size="5.6" text-anchor="middle" fill="#2a2a2a">laminált padló</text>
<text transform="translate(576.4,362.4) scale(0.8,1)" font-size="5.6" text-anchor="middle" fill="#2a2a2a">8,84 m<tspan font-size="3.5" dy="-2">2</tspan></text>
<text transform="translate(740.6,343.2) scale(0.8,1)" font-size="5.6" text-anchor="middle" fill="#2a2a2a">204</text>
<text transform="translate(740.6,349.6) scale(0.8,1)" font-size="5.6" text-anchor="middle" fill="#2a2a2a">KÖZLEKEDŐ</text>
<text transform="translate(740.6,356.0) scale(0.8,1)" font-size="5.6" text-anchor="middle" fill="#2a2a2a">laminált padló</text>
<text transform="translate(740.6,362.4) scale(0.8,1)" font-size="5.6" text-anchor="middle" fill="#2a2a2a">8,84 m<tspan font-size="3.5" dy="-2">2</tspan></text>
<text transform="translate(492.0,344.0) scale(0.8,1)" font-size="5.6" text-anchor="middle" fill="#2a2a2a">103</text>
<text transform="translate(492.0,350.4) scale(0.8,1)" font-size="5.6" text-anchor="middle" fill="#2a2a2a">NAPPALI</text>
<text transform="translate(492.0,356.8) scale(0.8,1)" font-size="5.6" text-anchor="middle" fill="#2a2a2a">laminált padló</text>
<text transform="translate(492.0,363.2) scale(0.8,1)" font-size="5.6" text-anchor="middle" fill="#2a2a2a">23,85 m<tspan font-size="3.5" dy="-2">2</tspan></text>
<text transform="translate(825.0,344.0) scale(0.8,1)" font-size="5.6" text-anchor="middle" fill="#2a2a2a">203</text>
<text transform="translate(825.0,350.4) scale(0.8,1)" font-size="5.6" text-anchor="middle" fill="#2a2a2a">NAPPALI</text>
<text transform="translate(825.0,356.8) scale(0.8,1)" font-size="5.6" text-anchor="middle" fill="#2a2a2a">laminált padló</text>
<text transform="translate(825.0,363.2) scale(0.8,1)" font-size="5.6" text-anchor="middle" fill="#2a2a2a">23,85 m<tspan font-size="3.5" dy="-2">2</tspan></text>
<text transform="translate(467.0,484.7) scale(0.8,1)" font-size="5.6" text-anchor="middle" fill="#2a2a2a">102</text>
<text transform="translate(467.0,491.1) scale(0.8,1)" font-size="5.6" text-anchor="middle" fill="#2a2a2a">KONYHA-ÉTKEZŐ</text>
<text transform="translate(467.0,497.5) scale(0.8,1)" font-size="5.6" text-anchor="middle" fill="#2a2a2a">laminált padló</text>
<text transform="translate(467.0,503.9) scale(0.8,1)" font-size="5.6" text-anchor="middle" fill="#2a2a2a">12,24 m<tspan font-size="3.5" dy="-2">2</tspan></text>
<text transform="translate(850.0,484.7) scale(0.8,1)" font-size="5.6" text-anchor="middle" fill="#2a2a2a">202</text>
<text transform="translate(850.0,491.1) scale(0.8,1)" font-size="5.6" text-anchor="middle" fill="#2a2a2a">KONYHA-ÉTKEZŐ</text>
<text transform="translate(850.0,497.5) scale(0.8,1)" font-size="5.6" text-anchor="middle" fill="#2a2a2a">laminált padló</text>
<text transform="translate(850.0,503.9) scale(0.8,1)" font-size="5.6" text-anchor="middle" fill="#2a2a2a">12,24 m<tspan font-size="3.5" dy="-2">2</tspan></text>
<text transform="translate(534.0,475.2) scale(0.8,1)" font-size="5.6" text-anchor="middle" fill="#2a2a2a">101</text>
<text transform="translate(534.0,481.6) scale(0.8,1)" font-size="5.6" text-anchor="middle" fill="#2a2a2a">ELŐSZOBA</text>
<text transform="translate(534.0,488.0) scale(0.8,1)" font-size="5.6" text-anchor="middle" fill="#2a2a2a">kerámia</text>
<text transform="translate(534.0,494.4) scale(0.8,1)" font-size="5.6" text-anchor="middle" fill="#2a2a2a">4,14 m<tspan font-size="3.5" dy="-2">2</tspan></text>
<text transform="translate(783.0,475.2) scale(0.8,1)" font-size="5.6" text-anchor="middle" fill="#2a2a2a">201</text>
<text transform="translate(783.0,481.6) scale(0.8,1)" font-size="5.6" text-anchor="middle" fill="#2a2a2a">ELŐSZOBA</text>
<text transform="translate(783.0,488.0) scale(0.8,1)" font-size="5.6" text-anchor="middle" fill="#2a2a2a">kerámia</text>
<text transform="translate(783.0,494.4) scale(0.8,1)" font-size="5.6" text-anchor="middle" fill="#2a2a2a">4,14 m<tspan font-size="3.5" dy="-2">2</tspan></text>
<text transform="translate(553.3,526.0) scale(0.8,1)" font-size="5.6" text-anchor="middle" fill="#2a2a2a">K101</text>
<text transform="translate(553.3,532.0) scale(0.8,1)" font-size="5.6" text-anchor="middle" fill="#2a2a2a">EDETT E</text>
<text transform="translate(553.3,538.0) scale(0.8,1)" font-size="5.6" text-anchor="middle" fill="#2a2a2a">kerámia</text>
<text transform="translate(553.3,544.0) scale(0.8,1)" font-size="5.6" text-anchor="middle" fill="#2a2a2a">1,40 m<tspan font-size="3.5" dy="-2">2</tspan></text>
<text transform="translate(763.7,526.0) scale(0.8,1)" font-size="5.6" text-anchor="middle" fill="#2a2a2a">K201</text>
<text transform="translate(763.7,532.0) scale(0.8,1)" font-size="5.6" text-anchor="middle" fill="#2a2a2a">EDETT E</text>
<text transform="translate(763.7,538.0) scale(0.8,1)" font-size="5.6" text-anchor="middle" fill="#2a2a2a">kerámia</text>
<text transform="translate(763.7,544.0) scale(0.8,1)" font-size="5.6" text-anchor="middle" fill="#2a2a2a">1,40 m<tspan font-size="3.5" dy="-2">2</tspan></text>
<text transform="translate(630.0,486.0) scale(0.8,1)" font-size="5.6" text-anchor="middle" fill="#2a2a2a">112</text>
<text transform="translate(630.0,492.4) scale(0.8,1)" font-size="5.6" text-anchor="middle" fill="#2a2a2a">GARÁZS</text>
<text transform="translate(630.0,498.8) scale(0.8,1)" font-size="5.6" text-anchor="middle" fill="#2a2a2a">kerámia</text>
<text transform="translate(630.0,505.2) scale(0.8,1)" font-size="5.6" text-anchor="middle" fill="#2a2a2a">18,48 m<tspan font-size="3.5" dy="-2">2</tspan></text>
<text transform="translate(687.0,486.0) scale(0.8,1)" font-size="5.6" text-anchor="middle" fill="#2a2a2a">212</text>
<text transform="translate(687.0,492.4) scale(0.8,1)" font-size="5.6" text-anchor="middle" fill="#2a2a2a">GARÁZS</text>
<text transform="translate(687.0,498.8) scale(0.8,1)" font-size="5.6" text-anchor="middle" fill="#2a2a2a">kerámia</text>
<text transform="translate(687.0,505.2) scale(0.8,1)" font-size="5.6" text-anchor="middle" fill="#2a2a2a">18,48 m<tspan font-size="3.5" dy="-2">2</tspan></text>
<text transform="translate(627.0,278.0) scale(0.8,1)" font-size="5.6" text-anchor="middle" fill="#2a2a2a">107 WC</text>
<text transform="translate(627.0,284.4) scale(0.8,1)" font-size="5.6" text-anchor="middle" fill="#2a2a2a">kerámia</text>
<text transform="translate(627.0,290.8) scale(0.8,1)" font-size="5.6" text-anchor="middle" fill="#2a2a2a">2,31 m<tspan font-size="3.5" dy="-2">2</tspan></text>
<text transform="translate(690.0,278.0) scale(0.8,1)" font-size="5.6" text-anchor="middle" fill="#2a2a2a">207 WC</text>
<text transform="translate(690.0,284.4) scale(0.8,1)" font-size="5.6" text-anchor="middle" fill="#2a2a2a">kerámia</text>
<text transform="translate(690.0,290.8) scale(0.8,1)" font-size="5.6" text-anchor="middle" fill="#2a2a2a">2,31 m<tspan font-size="3.5" dy="-2">2</tspan></text>
<text transform="translate(625.0,363.8) scale(0.8,1)" font-size="5.6" text-anchor="middle" fill="#2a2a2a">105 KAMRA</text>
<text transform="translate(625.0,370.2) scale(0.8,1)" font-size="5.6" text-anchor="middle" fill="#2a2a2a">kerámia</text>
<text transform="translate(625.0,376.6) scale(0.8,1)" font-size="5.6" text-anchor="middle" fill="#2a2a2a">2,52 m<tspan font-size="3.5" dy="-2">2</tspan></text>
<text transform="translate(692.0,363.8) scale(0.8,1)" font-size="5.6" text-anchor="middle" fill="#2a2a2a">205 KAMRA</text>
<text transform="translate(692.0,370.2) scale(0.8,1)" font-size="5.6" text-anchor="middle" fill="#2a2a2a">kerámia</text>
<text transform="translate(692.0,376.6) scale(0.8,1)" font-size="5.6" text-anchor="middle" fill="#2a2a2a">2,52 m<tspan font-size="3.5" dy="-2">2</tspan></text>
<text transform="translate(610.0,435.0) scale(0.8,1)" font-size="5.6" text-anchor="start" fill="#2a2a2a">padlásfeljáró</text>
<text transform="translate(610.0,441.5) scale(0.8,1)" font-size="5.6" text-anchor="start" fill="#2a2a2a">70x130 cm</text>
<text transform="translate(694.5,435.0) scale(0.8,1)" font-size="5.6" text-anchor="start" fill="#2a2a2a">padlásfeljáró</text>
<text transform="translate(694.5,441.5) scale(0.8,1)" font-size="5.6" text-anchor="start" fill="#2a2a2a">70x130 cm</text>
<text transform="translate(589.5,167.0) scale(0.8,1)" font-size="5.6" text-anchor="start" fill="#2a2a2a">+0,15</text>
<text transform="translate(465.5,346.0) scale(0.8,1)" font-size="5.6" text-anchor="start" fill="#2a2a2a">+0,15</text>
<text transform="translate(528.0,406.5) scale(0.8,1)" font-size="5.6" text-anchor="start" fill="#2a2a2a">+0,15</text>
<text transform="translate(467.5,217.5) scale(0.8,1)" font-size="5.6" text-anchor="start" fill="#2a2a2a">±0,00</text>
<text transform="translate(462.0,291.0) scale(0.8,1)" font-size="5.6" text-anchor="start" fill="#2a2a2a">+0,13</text>
<text transform="translate(537.5,514.5) scale(0.8,1)" font-size="5.6" text-anchor="start" fill="#2a2a2a">+0,13</text>
<text transform="translate(592.0,517.0) scale(0.8,1)" font-size="5.6" text-anchor="start" fill="#2a2a2a">+0,05</text>
<text transform="translate(575.0,540.0) scale(0.8,1)" font-size="5.6" text-anchor="start" fill="#2a2a2a">±0,00</text>
<text transform="translate(727.0,165.0) scale(0.8,1)" font-size="5.6" text-anchor="start" fill="#2a2a2a">+0,15</text>
<text transform="translate(854.6,343.5) scale(0.8,1)" font-size="5.6" text-anchor="start" fill="#2a2a2a">+0,15</text>
<text transform="translate(785.7,407.0) scale(0.8,1)" font-size="5.6" text-anchor="start" fill="#2a2a2a">+0,15</text>
<text transform="translate(689.0,515.0) scale(0.8,1)" font-size="5.6" text-anchor="start" fill="#2a2a2a">+0,05</text>
<text transform="translate(739.5,540.0) scale(0.8,1)" font-size="5.6" text-anchor="start" fill="#2a2a2a">±0,00</text>
<text transform="translate(760.0,513.2) scale(0.8,1)" font-size="5.6" text-anchor="start" fill="#2a2a2a">+0,13</text>
<text transform="translate(850.5,291.0) scale(0.8,1)" font-size="5.6" text-anchor="start" fill="#2a2a2a">+0,13</text>
<text transform="translate(845.5,219.0) rotate(-90) scale(0.8,1)" font-size="5.6" text-anchor="start" fill="#2a2a2a">±0,00</text>
<text transform="translate(493.0,100.6) scale(0.78,1)" font-size="5.4" text-anchor="start" fill="#2a2a2a">letolyócsatorna</text>
<text transform="translate(493.0,106.6) scale(0.78,1)" font-size="5.4" text-anchor="start" fill="#2a2a2a">Ø100 mm</text>
<text transform="translate(824.0,100.6) scale(0.78,1)" font-size="5.4" text-anchor="end" fill="#2a2a2a">letolyócsatorna</text>
<text transform="translate(824.0,106.6) scale(0.78,1)" font-size="5.4" text-anchor="end" fill="#2a2a2a">Ø100 mm</text>
<text transform="translate(395.6,543.5) scale(0.78,1)" font-size="5.4" text-anchor="start" fill="#2a2a2a">letolyócsatorna</text>
<text transform="translate(395.6,549.5) scale(0.78,1)" font-size="5.4" text-anchor="start" fill="#2a2a2a">Ø100 mm</text>
<text transform="translate(891.5,543.5) scale(0.78,1)" font-size="5.4" text-anchor="start" fill="#2a2a2a">letolyócsatorna</text>
<text transform="translate(891.5,549.5) scale(0.78,1)" font-size="5.4" text-anchor="start" fill="#2a2a2a">Ø100 mm</text>
<text transform="translate(385.0,303.5) scale(0.78,1)" font-size="5.4" text-anchor="start" fill="#2a2a2a">letolyócsatorna</text>
<text transform="translate(385.0,309.5) scale(0.78,1)" font-size="5.4" text-anchor="start" fill="#2a2a2a">Ø100 mm</text>
<text transform="translate(903.8,303.5) scale(0.78,1)" font-size="5.4" text-anchor="start" fill="#2a2a2a">letolyócsatorna</text>
<text transform="translate(903.8,309.5) scale(0.78,1)" font-size="5.4" text-anchor="start" fill="#2a2a2a">Ø100 mm</text>
<path d="M413 303 Q419 304 421 312 L422 318" fill="none" stroke="#333" stroke-width="0.6"/>
<polygon points="420.2,317.5 423.8,317.5 422,320.5" fill="#111"/>
<path d="M426.4 542.3 H431 V536" fill="none" stroke="#333" stroke-width="0.6"/>
<polygon points="429.2,537 432.8,537 431,534.3" fill="#111"/>
<path d="M904.0 303 Q898.0 304 896.0 312 L895.0 318" fill="none" stroke="#333" stroke-width="0.6"/>
<polygon points="896.8,317.5 893.2,317.5 895.0,320.5" fill="#111"/>
<path d="M890.6 542.3 H886.0 V536" fill="none" stroke="#333" stroke-width="0.6"/>
<polygon points="887.8,537 884.2,537 886.0,534.3" fill="#111"/>
<text transform="translate(397.6,94.4) scale(0.78,1)" font-size="5.4" text-anchor="start" fill="#2a2a2a">építési hely határa</text>
<line x1="383.5" y1="23" x2="383.5" y2="100" stroke="#444" stroke-width="0.9" stroke-dasharray="26.5,11,15,10"/>
<line x1="384" y1="92.4" x2="396" y2="92.4" stroke="#444" stroke-width="0.6"/>
<polygon points="384,92.4 388,90.7 388,94.1" fill="#111"/>
<text transform="translate(557.6,214.0) scale(0.8,1)" font-size="4.8" text-anchor="middle" fill="#3a3a3a">90</text>
<text transform="translate(759.4,214.0) scale(0.8,1)" font-size="4.8" text-anchor="middle" fill="#3a3a3a">90</text>
<text transform="translate(557.6,221.0) scale(0.8,1)" font-size="4.8" text-anchor="middle" fill="#3a3a3a">210</text>
<text transform="translate(759.4,221.0) scale(0.8,1)" font-size="4.8" text-anchor="middle" fill="#3a3a3a">210</text>
<text transform="translate(557.6,253.0) scale(0.8,1)" font-size="4.8" text-anchor="middle" fill="#3a3a3a">90</text>
<text transform="translate(759.4,253.0) scale(0.8,1)" font-size="4.8" text-anchor="middle" fill="#3a3a3a">90</text>
<text transform="translate(557.6,261.0) scale(0.8,1)" font-size="4.8" text-anchor="middle" fill="#3a3a3a">210</text>
<text transform="translate(759.4,261.0) scale(0.8,1)" font-size="4.8" text-anchor="middle" fill="#3a3a3a">210</text>
<text transform="translate(610.0,241.0) scale(0.8,1)" font-size="4.8" text-anchor="middle" fill="#3a3a3a">90</text>
<text transform="translate(707.0,241.0) scale(0.8,1)" font-size="4.8" text-anchor="middle" fill="#3a3a3a">90</text>
<text transform="translate(610.0,249.0) scale(0.8,1)" font-size="4.8" text-anchor="middle" fill="#3a3a3a">210</text>
<text transform="translate(707.0,249.0) scale(0.8,1)" font-size="4.8" text-anchor="middle" fill="#3a3a3a">210</text>
<text transform="translate(607.0,282.5) scale(0.8,1)" font-size="4.8" text-anchor="middle" fill="#3a3a3a">75</text>
<text transform="translate(710.0,282.5) scale(0.8,1)" font-size="4.8" text-anchor="middle" fill="#3a3a3a">75</text>
<text transform="translate(607.0,290.0) scale(0.8,1)" font-size="4.8" text-anchor="middle" fill="#3a3a3a">210</text>
<text transform="translate(710.0,290.0) scale(0.8,1)" font-size="4.8" text-anchor="middle" fill="#3a3a3a">210</text>
<text transform="translate(609.0,325.0) scale(0.8,1)" font-size="4.8" text-anchor="middle" fill="#3a3a3a">90</text>
<text transform="translate(708.0,325.0) scale(0.8,1)" font-size="4.8" text-anchor="middle" fill="#3a3a3a">90</text>
<text transform="translate(609.0,333.0) scale(0.8,1)" font-size="4.8" text-anchor="middle" fill="#3a3a3a">210</text>
<text transform="translate(708.0,333.0) scale(0.8,1)" font-size="4.8" text-anchor="middle" fill="#3a3a3a">210</text>
<text transform="translate(607.0,364.5) scale(0.8,1)" font-size="4.8" text-anchor="middle" fill="#3a3a3a">75</text>
<text transform="translate(710.0,364.5) scale(0.8,1)" font-size="4.8" text-anchor="middle" fill="#3a3a3a">75</text>
<text transform="translate(607.0,372.0) scale(0.8,1)" font-size="4.8" text-anchor="middle" fill="#3a3a3a">210</text>
<text transform="translate(710.0,372.0) scale(0.8,1)" font-size="4.8" text-anchor="middle" fill="#3a3a3a">210</text>
<text transform="translate(553.0,468.0) scale(0.8,1)" font-size="4.8" text-anchor="middle" fill="#3a3a3a">90</text>
<text transform="translate(764.0,468.0) scale(0.8,1)" font-size="4.8" text-anchor="middle" fill="#3a3a3a">90</text>
<text transform="translate(553.0,476.0) scale(0.8,1)" font-size="4.8" text-anchor="middle" fill="#3a3a3a">210</text>
<text transform="translate(764.0,476.0) scale(0.8,1)" font-size="4.8" text-anchor="middle" fill="#3a3a3a">210</text>
<text transform="translate(578.0,194.0) scale(0.8,1)" font-size="4.8" text-anchor="middle" fill="#3a3a3a">90</text>
<text transform="translate(739.0,194.0) scale(0.8,1)" font-size="4.8" text-anchor="middle" fill="#3a3a3a">90</text>
<text transform="translate(610.0,129.5) scale(0.8,1)" font-size="4.8" text-anchor="middle" fill="#3a3a3a">pm 90</text>
<text transform="translate(707.0,129.5) scale(0.8,1)" font-size="4.8" text-anchor="middle" fill="#3a3a3a">pm 90</text>
<text transform="translate(460.5,519.0) scale(0.8,1)" font-size="4.8" text-anchor="middle" fill="#3a3a3a">pm 90</text>
<text transform="translate(856.5,519.0) scale(0.8,1)" font-size="4.8" text-anchor="middle" fill="#3a3a3a">pm 90</text>
<text transform="translate(493.6,519.0) scale(0.8,1)" font-size="4.8" text-anchor="middle" fill="#3a3a3a">pm 90</text>
<text transform="translate(823.4,519.0) scale(0.8,1)" font-size="4.8" text-anchor="middle" fill="#3a3a3a">pm 90</text>
<text transform="translate(526.0,139.0) scale(0.8,1)" font-size="4.8" text-anchor="middle" fill="#3a3a3a">3.00</text>
<text transform="translate(791.0,139.0) scale(0.8,1)" font-size="4.8" text-anchor="middle" fill="#3a3a3a">3.00</text>
<text transform="translate(557.6,139.0) scale(0.8,1)" font-size="4.8" text-anchor="middle" fill="#3a3a3a">30</text>
<text transform="translate(759.4,139.0) scale(0.8,1)" font-size="4.8" text-anchor="middle" fill="#3a3a3a">30</text>
<text transform="translate(607.6,140.5) scale(0.8,1)" font-size="4.8" text-anchor="middle" fill="#3a3a3a">3.30</text>
<text transform="translate(709.4,140.5) scale(0.8,1)" font-size="4.8" text-anchor="middle" fill="#3a3a3a">3.30</text>
<text transform="translate(646.4,140.5) scale(0.8,1)" font-size="4.8" text-anchor="middle" fill="#3a3a3a">30</text>
<text transform="translate(670.6,140.5) scale(0.8,1)" font-size="4.8" text-anchor="middle" fill="#3a3a3a">30</text>
<text transform="translate(622.6,185.5) scale(0.8,1)" font-size="4.8" text-anchor="middle" fill="#3a3a3a">2.35</text>
<text transform="translate(694.4,185.5) scale(0.8,1)" font-size="4.8" text-anchor="middle" fill="#3a3a3a">2.35</text>
<text transform="translate(527.0,306.0) scale(0.8,1)" font-size="4.8" text-anchor="middle" fill="#3a3a3a">3.00</text>
<text transform="translate(790.0,306.0) scale(0.8,1)" font-size="4.8" text-anchor="middle" fill="#3a3a3a">3.00</text>
<text transform="translate(497.0,399.0) scale(0.8,1)" font-size="4.8" text-anchor="middle" fill="#3a3a3a">5.30</text>
<text transform="translate(820.0,399.0) scale(0.8,1)" font-size="4.8" text-anchor="middle" fill="#3a3a3a">5.30</text>
<text transform="translate(474.0,417.5) scale(0.8,1)" font-size="4.8" text-anchor="middle" fill="#3a3a3a">3.40</text>
<text transform="translate(843.0,417.5) scale(0.8,1)" font-size="4.8" text-anchor="middle" fill="#3a3a3a">3.40</text>
<text transform="translate(475.0,454.0) scale(0.8,1)" font-size="4.8" text-anchor="middle" fill="#3a3a3a">3.40</text>
<text transform="translate(842.0,454.0) scale(0.8,1)" font-size="4.8" text-anchor="middle" fill="#3a3a3a">3.40</text>
<text transform="translate(607.0,399.0) scale(0.8,1)" font-size="4.8" text-anchor="middle" fill="#3a3a3a">3.30</text>
<text transform="translate(710.0,399.0) scale(0.8,1)" font-size="4.8" text-anchor="middle" fill="#3a3a3a">3.30</text>
<text transform="translate(646.0,399.0) scale(0.8,1)" font-size="4.8" text-anchor="middle" fill="#3a3a3a">30</text>
<text transform="translate(671.0,399.0) scale(0.8,1)" font-size="4.8" text-anchor="middle" fill="#3a3a3a">30</text>
<text transform="translate(607.0,454.0) scale(0.8,1)" font-size="4.8" text-anchor="middle" fill="#3a3a3a">3.30</text>
<text transform="translate(710.0,454.0) scale(0.8,1)" font-size="4.8" text-anchor="middle" fill="#3a3a3a">3.30</text>
<text transform="translate(646.0,454.0) scale(0.8,1)" font-size="4.8" text-anchor="middle" fill="#3a3a3a">30</text>
<text transform="translate(671.0,454.0) scale(0.8,1)" font-size="4.8" text-anchor="middle" fill="#3a3a3a">30</text>
<text transform="translate(449.0,309.0) scale(0.8,1)" font-size="4.8" text-anchor="middle" fill="#3a3a3a">2.30</text>
<text transform="translate(868.0,309.0) scale(0.8,1)" font-size="4.8" text-anchor="middle" fill="#3a3a3a">2.30</text>
<text transform="translate(430.0,518.0) scale(0.8,1)" font-size="4.8" text-anchor="middle" fill="#3a3a3a"></text>
<text transform="translate(887.0,518.0) scale(0.8,1)" font-size="4.8" text-anchor="middle" fill="#3a3a3a"></text>
<text transform="translate(559.0,361.0) scale(0.8,1)" font-size="4.8" text-anchor="middle" fill="#3a3a3a">100</text>
<text transform="translate(758.0,361.0) scale(0.8,1)" font-size="4.8" text-anchor="middle" fill="#3a3a3a">100</text>
<text transform="translate(559.0,369.0) scale(0.8,1)" font-size="4.8" text-anchor="middle" fill="#3a3a3a">250</text>
<text transform="translate(758.0,369.0) scale(0.8,1)" font-size="4.8" text-anchor="middle" fill="#3a3a3a">250</text>
<text transform="translate(585.0,306.5) scale(0.8,1)" font-size="4.8" text-anchor="middle" fill="#3a3a3a">1.10</text>
<text transform="translate(732.0,306.5) scale(0.8,1)" font-size="4.8" text-anchor="middle" fill="#3a3a3a">1.10</text>
<text transform="translate(559.0,306.5) scale(0.8,1)" font-size="4.8" text-anchor="middle" fill="#3a3a3a">30</text>
<text transform="translate(758.0,306.5) scale(0.8,1)" font-size="4.8" text-anchor="middle" fill="#3a3a3a">30</text>
<text transform="translate(526.0,444.0) scale(0.8,1)" font-size="4.8" text-anchor="middle" fill="#3a3a3a">18</text>
<text transform="translate(791.0,444.0) scale(0.8,1)" font-size="4.8" text-anchor="middle" fill="#3a3a3a">18</text>
<text transform="translate(541.0,444.0) scale(0.8,1)" font-size="4.8" text-anchor="middle" fill="#3a3a3a">1.00</text>
<text transform="translate(776.0,444.0) scale(0.8,1)" font-size="4.8" text-anchor="middle" fill="#3a3a3a">1.00</text>
<text transform="translate(560.0,446.0) scale(0.8,1)" font-size="4.8" text-anchor="middle" fill="#3a3a3a">30</text>
<text transform="translate(757.0,446.0) scale(0.8,1)" font-size="4.8" text-anchor="middle" fill="#3a3a3a">30</text>
<text transform="translate(497.0,170.0) rotate(-90) scale(0.8,1)" font-size="4.8" text-anchor="middle" fill="#3a3a3a">pm 90</text>
<text transform="translate(820.0,170.0) rotate(-90) scale(0.8,1)" font-size="4.8" text-anchor="middle" fill="#3a3a3a">pm 90</text>
<text transform="translate(497.0,262.0) rotate(-90) scale(0.8,1)" font-size="4.8" text-anchor="middle" fill="#3a3a3a">pm 90</text>
<text transform="translate(820.0,262.0) rotate(-90) scale(0.8,1)" font-size="4.8" text-anchor="middle" fill="#3a3a3a">pm 90</text>
<text transform="translate(442.0,350.0) rotate(-90) scale(0.8,1)" font-size="4.8" text-anchor="middle" fill="#3a3a3a">pm 90</text>
<text transform="translate(875.0,350.0) rotate(-90) scale(0.8,1)" font-size="4.8" text-anchor="middle" fill="#3a3a3a">pm 90</text>
<text transform="translate(442.0,380.0) rotate(-90) scale(0.8,1)" font-size="4.8" text-anchor="middle" fill="#3a3a3a">pm 90</text>
<text transform="translate(875.0,380.0) rotate(-90) scale(0.8,1)" font-size="4.8" text-anchor="middle" fill="#3a3a3a">pm 90</text>
<text transform="translate(442.0,410.0) rotate(-90) scale(0.8,1)" font-size="4.8" text-anchor="middle" fill="#3a3a3a">pm 90</text>
<text transform="translate(875.0,410.0) rotate(-90) scale(0.8,1)" font-size="4.8" text-anchor="middle" fill="#3a3a3a">pm 90</text>
<text transform="translate(544.0,172.0) rotate(-90) scale(0.8,1)" font-size="4.8" text-anchor="middle" fill="#3a3a3a">3.40</text>
<text transform="translate(773.0,172.0) rotate(-90) scale(0.8,1)" font-size="4.8" text-anchor="middle" fill="#3a3a3a">3.40</text>
<text transform="translate(510.0,176.0) rotate(-90) scale(0.8,1)" font-size="4.8" text-anchor="middle" fill="#3a3a3a">4.15</text>
<text transform="translate(807.0,176.0) rotate(-90) scale(0.8,1)" font-size="4.8" text-anchor="middle" fill="#3a3a3a">4.15</text>
<text transform="translate(455.5,540.0) rotate(-90) scale(0.8,1)" font-size="4.8" text-anchor="middle" fill="#3a3a3a">90</text>
<text transform="translate(861.5,540.0) rotate(-90) scale(0.8,1)" font-size="4.8" text-anchor="middle" fill="#3a3a3a">90</text>
<text transform="translate(489.0,540.0) rotate(-90) scale(0.8,1)" font-size="4.8" text-anchor="middle" fill="#3a3a3a">90</text>
<text transform="translate(828.0,540.0) rotate(-90) scale(0.8,1)" font-size="4.8" text-anchor="middle" fill="#3a3a3a">90</text>
<text transform="translate(462.5,540.0) rotate(-90) scale(0.8,1)" font-size="4.8" text-anchor="middle" fill="#3a3a3a">150</text>
<text transform="translate(854.5,540.0) rotate(-90) scale(0.8,1)" font-size="4.8" text-anchor="middle" fill="#3a3a3a">150</text>
<text transform="translate(497.5,540.0) rotate(-90) scale(0.8,1)" font-size="4.8" text-anchor="middle" fill="#3a3a3a">150</text>
<text transform="translate(819.5,540.0) rotate(-90) scale(0.8,1)" font-size="4.8" text-anchor="middle" fill="#3a3a3a">150</text>
<text transform="translate(634.0,163.0) rotate(-90) scale(0.8,1)" font-size="4.8" text-anchor="middle" fill="#3a3a3a">2.10</text>
<text transform="translate(683.0,163.0) rotate(-90) scale(0.8,1)" font-size="4.8" text-anchor="middle" fill="#3a3a3a">2.10</text>
<text transform="translate(638.5,329.4) rotate(-90) scale(0.8,1)" font-size="4.8" text-anchor="middle" fill="#3a3a3a">2.70</text>
<text transform="translate(678.5,329.4) rotate(-90) scale(0.8,1)" font-size="4.8" text-anchor="middle" fill="#3a3a3a">2.70</text>
<text transform="translate(606.0,104.0) rotate(-90) scale(0.8,1)" font-size="4.8" text-anchor="middle" fill="#3a3a3a">90</text>
<text transform="translate(711.0,104.0) rotate(-90) scale(0.8,1)" font-size="4.8" text-anchor="middle" fill="#3a3a3a">90</text>
<text transform="translate(615.3,104.0) rotate(-90) scale(0.8,1)" font-size="4.8" text-anchor="middle" fill="#3a3a3a">150</text>
<text transform="translate(701.7,104.0) rotate(-90) scale(0.8,1)" font-size="4.8" text-anchor="middle" fill="#3a3a3a">150</text>
<text transform="translate(545.0,238.0) rotate(-90) scale(0.8,1)" font-size="4.8" text-anchor="middle" fill="#3a3a3a">2.10</text>
<text transform="translate(772.0,238.0) rotate(-90) scale(0.8,1)" font-size="4.8" text-anchor="middle" fill="#3a3a3a">2.10</text>
<text transform="translate(579.0,292.0) rotate(-90) scale(0.8,1)" font-size="4.8" text-anchor="middle" fill="#3a3a3a"></text>
<text transform="translate(738.0,292.0) rotate(-90) scale(0.8,1)" font-size="4.8" text-anchor="middle" fill="#3a3a3a"></text>
<text transform="translate(508.5,277.0) rotate(-90) scale(0.8,1)" font-size="4.8" text-anchor="middle" fill="#3a3a3a">3.70</text>
<text transform="translate(808.5,277.0) rotate(-90) scale(0.8,1)" font-size="4.8" text-anchor="middle" fill="#3a3a3a">3.70</text>
<text transform="translate(540.5,292.0) rotate(-90) scale(0.8,1)" font-size="4.8" text-anchor="middle" fill="#3a3a3a">2.10</text>
<text transform="translate(776.5,292.0) rotate(-90) scale(0.8,1)" font-size="4.8" text-anchor="middle" fill="#3a3a3a">2.10</text>
<text transform="translate(586.0,458.0) rotate(-90) scale(0.8,1)" font-size="4.8" text-anchor="middle" fill="#3a3a3a">2.60</text>
<text transform="translate(731.0,458.0) rotate(-90) scale(0.8,1)" font-size="4.8" text-anchor="middle" fill="#3a3a3a">2.60</text>
<text transform="translate(613.6,540.0) rotate(-90) scale(0.8,1)" font-size="4.8" text-anchor="middle" fill="#3a3a3a">225</text>
<text transform="translate(703.4,540.0) rotate(-90) scale(0.8,1)" font-size="4.8" text-anchor="middle" fill="#3a3a3a">225</text>
<text transform="translate(606.8,540.0) rotate(-90) scale(0.8,1)" font-size="4.8" text-anchor="middle" fill="#3a3a3a">275</text>
<text transform="translate(710.2,540.0) rotate(-90) scale(0.8,1)" font-size="4.8" text-anchor="middle" fill="#3a3a3a">275</text>
<text transform="translate(638.0,537.0) rotate(-90) scale(0.8,1)" font-size="4.8" text-anchor="middle" fill="#3a3a3a">30</text>
<text transform="translate(679.0,537.0) rotate(-90) scale(0.8,1)" font-size="4.8" text-anchor="middle" fill="#3a3a3a">30</text>
<text transform="translate(471.2,167.9) scale(0.8,1)" font-size="4.8" text-anchor="middle" fill="#3a3a3a">120</text>
<text transform="translate(471.2,175.3) scale(0.8,1)" font-size="4.8" text-anchor="middle" fill="#3a3a3a">150</text>
<line x1="455.3" y1="169.1" x2="479.7" y2="169.1" stroke="#777" stroke-width="0.7"/>
<text transform="translate(847.3,167.9) scale(0.8,1)" font-size="4.8" text-anchor="middle" fill="#3a3a3a">120</text>
<text transform="translate(847.3,175.3) scale(0.8,1)" font-size="4.8" text-anchor="middle" fill="#3a3a3a">150</text>
<line x1="837.3" y1="169.1" x2="861.7" y2="169.1" stroke="#777" stroke-width="0.7"/>
<text transform="translate(471.2,189.1) scale(0.8,1)" font-size="4.8" text-anchor="middle" fill="#3a3a3a">60</text>
<text transform="translate(471.2,196.5) scale(0.8,1)" font-size="4.8" text-anchor="middle" fill="#3a3a3a">150</text>
<line x1="455.3" y1="190.3" x2="479.7" y2="190.3" stroke="#777" stroke-width="0.7"/>
<text transform="translate(847.3,189.1) scale(0.8,1)" font-size="4.8" text-anchor="middle" fill="#3a3a3a">60</text>
<text transform="translate(847.3,196.5) scale(0.8,1)" font-size="4.8" text-anchor="middle" fill="#3a3a3a">150</text>
<line x1="837.3" y1="190.3" x2="861.7" y2="190.3" stroke="#777" stroke-width="0.7"/>
<text transform="translate(471.2,258.1) scale(0.8,1)" font-size="4.8" text-anchor="middle" fill="#3a3a3a">120</text>
<text transform="translate(471.2,265.5) scale(0.8,1)" font-size="4.8" text-anchor="middle" fill="#3a3a3a">150</text>
<line x1="455.3" y1="259.3" x2="479.7" y2="259.3" stroke="#777" stroke-width="0.7"/>
<text transform="translate(847.3,258.1) scale(0.8,1)" font-size="4.8" text-anchor="middle" fill="#3a3a3a">120</text>
<text transform="translate(847.3,265.5) scale(0.8,1)" font-size="4.8" text-anchor="middle" fill="#3a3a3a">150</text>
<line x1="837.3" y1="259.3" x2="861.7" y2="259.3" stroke="#777" stroke-width="0.7"/>
<text transform="translate(415.5,351.2) scale(0.8,1)" font-size="4.8" text-anchor="middle" fill="#3a3a3a">120</text>
<text transform="translate(415.5,358.6) scale(0.8,1)" font-size="4.8" text-anchor="middle" fill="#3a3a3a">150</text>
<line x1="404.0" y1="352.4" x2="444.0" y2="352.4" stroke="#777" stroke-width="0.7"/>
<text transform="translate(903.0,351.2) scale(0.8,1)" font-size="4.8" text-anchor="middle" fill="#3a3a3a">120</text>
<text transform="translate(903.0,358.6) scale(0.8,1)" font-size="4.8" text-anchor="middle" fill="#3a3a3a">150</text>
<line x1="873.0" y1="352.4" x2="913.0" y2="352.4" stroke="#777" stroke-width="0.7"/>
<text transform="translate(415.5,379.8) scale(0.8,1)" font-size="4.8" text-anchor="middle" fill="#3a3a3a">120</text>
<text transform="translate(415.5,387.2) scale(0.8,1)" font-size="4.8" text-anchor="middle" fill="#3a3a3a">150</text>
<line x1="404.0" y1="381.0" x2="444.0" y2="381.0" stroke="#777" stroke-width="0.7"/>
<text transform="translate(903.0,379.8) scale(0.8,1)" font-size="4.8" text-anchor="middle" fill="#3a3a3a">120</text>
<text transform="translate(903.0,387.2) scale(0.8,1)" font-size="4.8" text-anchor="middle" fill="#3a3a3a">150</text>
<line x1="873.0" y1="381.0" x2="913.0" y2="381.0" stroke="#777" stroke-width="0.7"/>
<text transform="translate(415.5,408.8) scale(0.8,1)" font-size="4.8" text-anchor="middle" fill="#3a3a3a">120</text>
<text transform="translate(415.5,416.2) scale(0.8,1)" font-size="4.8" text-anchor="middle" fill="#3a3a3a">150</text>
<line x1="404.0" y1="410.0" x2="444.0" y2="410.0" stroke="#777" stroke-width="0.7"/>
<text transform="translate(903.0,408.8) scale(0.8,1)" font-size="4.8" text-anchor="middle" fill="#3a3a3a">120</text>
<text transform="translate(903.0,416.2) scale(0.8,1)" font-size="4.8" text-anchor="middle" fill="#3a3a3a">150</text>
<line x1="873.0" y1="410.0" x2="913.0" y2="410.0" stroke="#777" stroke-width="0.7"/>
</svg>
</body></html>
